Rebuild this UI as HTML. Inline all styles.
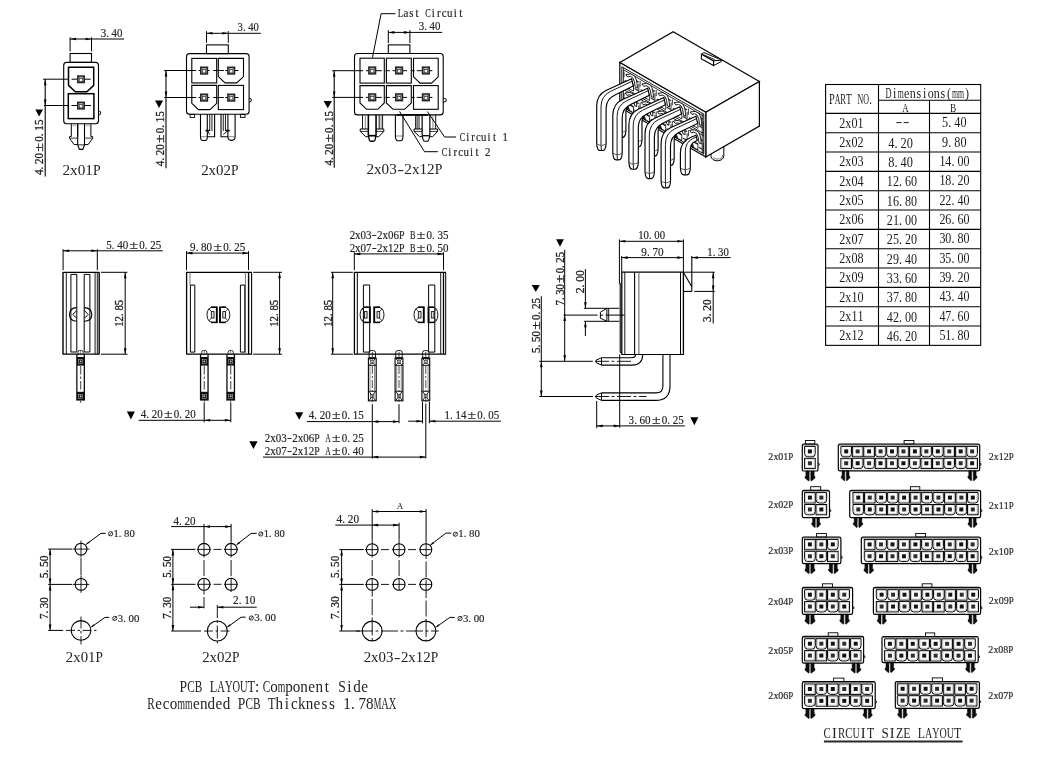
<!DOCTYPE html>
<html><head><meta charset="utf-8"><title>drawing</title>
<style>html,body{margin:0;padding:0;background:#fff;}svg{display:block;filter:grayscale(1)}text{font-family:"Liberation Serif",serif;}</style>
</head><body>
<svg width="1043" height="765" viewBox="0 0 1043 765">
<rect width="1043" height="765" fill="#fff"/>
<line x1="70.10" y1="37.30" x2="70.10" y2="51.40" stroke="#000" stroke-width="1"/>
<line x1="91.50" y1="37.30" x2="91.50" y2="51.40" stroke="#000" stroke-width="1"/>
<line x1="70.10" y1="39.00" x2="124.10" y2="39.00" stroke="#000" stroke-width="1"/>
<polygon points="70.10,39.00 76.10,37.70 76.10,40.30" fill="#000"/>
<polygon points="91.50,39.00 85.50,40.30 85.50,37.70" fill="#000"/>
<text transform="translate(101.00,36.70) scale(0.946,1)" font-size="11.5" text-anchor="middle" fill="#1a1a1a" stroke="#333" stroke-width="0.18" x="2.5 6.9 14.0 19.7">3.40</text>
<rect x="70.10" y="53.50" width="21.40" height="8.90" rx="0" stroke="#000" stroke-width="1.1" fill="none"/>
<rect x="63.70" y="62.40" width="34.80" height="61.40" rx="3" stroke="#000" stroke-width="1.1" fill="none"/>
<path d="M68.50,67.20 L93.70,67.20 L93.70,85.40 L86.90,91.70 L75.30,91.70 L68.50,85.40 Z" stroke="#000" stroke-width="1.5" fill="none" />
<rect x="68.30" y="93.70" width="25.60" height="24.90" rx="0" stroke="#000" stroke-width="1.5" fill="none"/>
<line x1="43.10" y1="79.20" x2="68.40" y2="79.20" stroke="#000" stroke-width="1"/>
<line x1="71.50" y1="79.20" x2="90.70" y2="79.20" stroke="#000" stroke-width="1"/>
<line x1="44.00" y1="105.50" x2="68.20" y2="105.50" stroke="#000" stroke-width="1"/>
<line x1="71.50" y1="105.50" x2="91.00" y2="105.50" stroke="#000" stroke-width="1"/>
<rect x="77.00" y="75.30" width="8.00" height="8.00" rx="0" stroke="none" stroke-width="0" fill="#242424"/>
<rect x="78.50" y="76.80" width="5.00" height="5.00" rx="0" stroke="none" stroke-width="0" fill="#b4b4b4"/>
<line x1="78.20" y1="76.50" x2="79.60" y2="78.50" stroke="#333" stroke-width="0.7"/>
<line x1="83.80" y1="76.50" x2="82.40" y2="78.50" stroke="#333" stroke-width="0.7"/>
<line x1="78.20" y1="82.10" x2="79.40" y2="81.50" stroke="#333" stroke-width="0.7"/>
<line x1="83.80" y1="82.10" x2="82.60" y2="81.50" stroke="#333" stroke-width="0.7"/>
<rect x="79.30" y="78.40" width="3.40" height="3.20" rx="0" stroke="#333" stroke-width="0.7" fill="#f2f2f2"/>
<rect x="77.00" y="101.60" width="8.00" height="8.00" rx="0" stroke="none" stroke-width="0" fill="#242424"/>
<rect x="78.50" y="103.10" width="5.00" height="5.00" rx="0" stroke="none" stroke-width="0" fill="#b4b4b4"/>
<line x1="78.20" y1="102.80" x2="79.60" y2="104.80" stroke="#333" stroke-width="0.7"/>
<line x1="83.80" y1="102.80" x2="82.40" y2="104.80" stroke="#333" stroke-width="0.7"/>
<line x1="78.20" y1="108.40" x2="79.40" y2="107.80" stroke="#333" stroke-width="0.7"/>
<line x1="83.80" y1="108.40" x2="82.60" y2="107.80" stroke="#333" stroke-width="0.7"/>
<rect x="79.30" y="104.70" width="3.40" height="3.20" rx="0" stroke="#333" stroke-width="0.7" fill="#f2f2f2"/>
<line x1="45.20" y1="79.20" x2="45.20" y2="176.50" stroke="#000" stroke-width="1.1"/>
<polygon points="45.20,79.20 46.50,85.20 43.90,85.20" fill="#000"/>
<polygon points="45.20,105.50 43.90,99.50 46.50,99.50" fill="#000"/>
<polygon points="35.30,109.40 43.00,109.40 39.15,116.60" fill="#000"/>
<text transform="translate(43.00,174.70) rotate(-90) translate(27.35,0) scale(1.306,1)" font-size="12" text-anchor="middle" fill="#1a1a1a" stroke="#222" stroke-width="0.3">±</text>
<text transform="translate(43.00,174.70) rotate(-90) scale(0.925,1)" font-size="12" text-anchor="middle" fill="#1a1a1a" stroke="#222" stroke-width="0.3" x="2.6 7.2 14.6 20.6 38.6 43.2 50.6 56.6">4.200.15</text>
<path d="M98.5,110.8 L100.6,111.8 L100.6,114.2 L98.5,115.2" stroke="#000" stroke-width="0.9" fill="none" />
<line x1="71.30" y1="123.80" x2="71.30" y2="136.50" stroke="#000" stroke-width="1"/>
<line x1="77.70" y1="123.80" x2="77.70" y2="136.50" stroke="#000" stroke-width="1"/>
<rect x="72.50" y="124.60" width="4.00" height="1.60" rx="0" stroke="none" stroke-width="0" fill="#bbb"/>
<path d="M71.30,136.50 L69.50,136.70 L69.50,138.30 L74.10,144.60 L77.70,144.60" stroke="#000" stroke-width="1" fill="none" />
<line x1="77.70" y1="138.10" x2="69.70" y2="138.10" stroke="#000" stroke-width="0.8"/>
<line x1="90.90" y1="123.80" x2="90.90" y2="136.50" stroke="#000" stroke-width="1"/>
<line x1="84.50" y1="123.80" x2="84.50" y2="136.50" stroke="#000" stroke-width="1"/>
<rect x="85.70" y="124.60" width="4.00" height="1.60" rx="0" stroke="none" stroke-width="0" fill="#bbb"/>
<path d="M90.90,136.50 L92.70,136.70 L92.70,138.30 L88.10,144.60 L84.50,144.60" stroke="#000" stroke-width="1" fill="none" />
<line x1="84.50" y1="138.10" x2="92.50" y2="138.10" stroke="#000" stroke-width="0.8"/>
<path d="M77.70,123.80 L77.70,144.80 L79.40,149.40 L82.80,149.40 L84.50,144.80 L84.50,123.80" stroke="#000" stroke-width="1.1" fill="none" />
<line x1="77.90" y1="144.80" x2="84.30" y2="144.80" stroke="#000" stroke-width="0.8"/>
<text transform="translate(63.00,174.70) translate(33.73,0) scale(0.913,1)" font-size="15" text-anchor="middle" fill="#222">P</text>
<text transform="translate(63.00,174.70) scale(1.015,1)" font-size="15" text-anchor="middle" fill="#222" x="3.2 10.7 18.2 25.7">2x01</text>
<line x1="206.50" y1="31.20" x2="206.50" y2="42.80" stroke="#000" stroke-width="1"/>
<line x1="228.30" y1="31.20" x2="228.30" y2="42.80" stroke="#000" stroke-width="1"/>
<line x1="206.50" y1="33.30" x2="260.90" y2="33.30" stroke="#000" stroke-width="1"/>
<polygon points="206.50,33.30 212.50,32.00 212.50,34.60" fill="#000"/>
<polygon points="228.30,33.30 222.30,34.60 222.30,32.00" fill="#000"/>
<text transform="translate(237.90,31.00) scale(0.924,1)" font-size="11.5" text-anchor="middle" fill="#1a1a1a" stroke="#333" stroke-width="0.18" x="2.5 6.9 14.0 19.7">3.40</text>
<rect x="206.50" y="44.90" width="21.80" height="8.70" rx="0" stroke="#000" stroke-width="1.1" fill="none"/>
<rect x="186.50" y="53.60" width="62.60" height="60.70" rx="3" stroke="#000" stroke-width="1.1" fill="none"/>
<rect x="191.80" y="58.40" width="24.90" height="24.50" rx="0" stroke="#000" stroke-width="1.1" fill="none"/>
<path d="M218.30,58.40 L243.50,58.40 L243.50,76.60 L236.70,82.90 L225.10,82.90 L218.30,76.60 Z" stroke="#000" stroke-width="1.1" fill="none" />
<path d="M191.80,85.40 L216.70,85.40 L216.70,103.30 L209.98,109.60 L198.52,109.60 L191.80,103.30 Z" stroke="#000" stroke-width="1.1" fill="none" />
<rect x="218.30" y="85.40" width="25.20" height="24.20" rx="0" stroke="#000" stroke-width="1.1" fill="none"/>
<line x1="164.30" y1="70.50" x2="196.20" y2="70.50" stroke="#000" stroke-width="1"/>
<line x1="198.50" y1="70.50" x2="209.60" y2="70.50" stroke="#000" stroke-width="1"/>
<line x1="213.20" y1="70.50" x2="223.80" y2="70.50" stroke="#000" stroke-width="1"/>
<line x1="225.20" y1="70.50" x2="238.50" y2="70.50" stroke="#000" stroke-width="1"/>
<line x1="164.30" y1="97.50" x2="196.20" y2="97.50" stroke="#000" stroke-width="1"/>
<line x1="198.50" y1="97.50" x2="209.60" y2="97.50" stroke="#000" stroke-width="1"/>
<line x1="213.20" y1="97.50" x2="223.80" y2="97.50" stroke="#000" stroke-width="1"/>
<line x1="225.20" y1="97.50" x2="238.50" y2="97.50" stroke="#000" stroke-width="1"/>
<rect x="200.00" y="66.50" width="8.20" height="8.20" rx="0" stroke="none" stroke-width="0" fill="#242424"/>
<rect x="201.50" y="68.00" width="5.20" height="5.20" rx="0" stroke="none" stroke-width="0" fill="#b4b4b4"/>
<line x1="201.20" y1="67.70" x2="202.70" y2="69.80" stroke="#333" stroke-width="0.7"/>
<line x1="207.00" y1="67.70" x2="205.50" y2="69.80" stroke="#333" stroke-width="0.7"/>
<line x1="201.20" y1="73.50" x2="202.50" y2="72.80" stroke="#333" stroke-width="0.7"/>
<line x1="207.00" y1="73.50" x2="205.70" y2="72.80" stroke="#333" stroke-width="0.7"/>
<rect x="202.40" y="69.70" width="3.40" height="3.20" rx="0" stroke="#333" stroke-width="0.7" fill="#f2f2f2"/>
<rect x="200.00" y="93.50" width="8.20" height="8.20" rx="0" stroke="none" stroke-width="0" fill="#242424"/>
<rect x="201.50" y="95.00" width="5.20" height="5.20" rx="0" stroke="none" stroke-width="0" fill="#b4b4b4"/>
<line x1="201.20" y1="94.70" x2="202.70" y2="96.80" stroke="#333" stroke-width="0.7"/>
<line x1="207.00" y1="94.70" x2="205.50" y2="96.80" stroke="#333" stroke-width="0.7"/>
<line x1="201.20" y1="100.50" x2="202.50" y2="99.80" stroke="#333" stroke-width="0.7"/>
<line x1="207.00" y1="100.50" x2="205.70" y2="99.80" stroke="#333" stroke-width="0.7"/>
<rect x="202.40" y="96.70" width="3.40" height="3.20" rx="0" stroke="#333" stroke-width="0.7" fill="#f2f2f2"/>
<rect x="227.10" y="66.50" width="8.20" height="8.20" rx="0" stroke="none" stroke-width="0" fill="#242424"/>
<rect x="228.60" y="68.00" width="5.20" height="5.20" rx="0" stroke="none" stroke-width="0" fill="#b4b4b4"/>
<line x1="228.30" y1="67.70" x2="229.80" y2="69.80" stroke="#333" stroke-width="0.7"/>
<line x1="234.10" y1="67.70" x2="232.60" y2="69.80" stroke="#333" stroke-width="0.7"/>
<line x1="228.30" y1="73.50" x2="229.60" y2="72.80" stroke="#333" stroke-width="0.7"/>
<line x1="234.10" y1="73.50" x2="232.80" y2="72.80" stroke="#333" stroke-width="0.7"/>
<rect x="229.50" y="69.70" width="3.40" height="3.20" rx="0" stroke="#333" stroke-width="0.7" fill="#f2f2f2"/>
<rect x="227.10" y="93.50" width="8.20" height="8.20" rx="0" stroke="none" stroke-width="0" fill="#242424"/>
<rect x="228.60" y="95.00" width="5.20" height="5.20" rx="0" stroke="none" stroke-width="0" fill="#b4b4b4"/>
<line x1="228.30" y1="94.70" x2="229.80" y2="96.80" stroke="#333" stroke-width="0.7"/>
<line x1="234.10" y1="94.70" x2="232.60" y2="96.80" stroke="#333" stroke-width="0.7"/>
<line x1="228.30" y1="100.50" x2="229.60" y2="99.80" stroke="#333" stroke-width="0.7"/>
<line x1="234.10" y1="100.50" x2="232.80" y2="99.80" stroke="#333" stroke-width="0.7"/>
<rect x="229.50" y="96.70" width="3.40" height="3.20" rx="0" stroke="#333" stroke-width="0.7" fill="#f2f2f2"/>
<line x1="166.00" y1="70.50" x2="166.00" y2="168.30" stroke="#000" stroke-width="1.1"/>
<polygon points="166.00,70.50 167.30,76.50 164.70,76.50" fill="#000"/>
<polygon points="166.00,97.50 164.70,91.50 167.30,91.50" fill="#000"/>
<polygon points="155.00,100.50 163.10,100.50 159.05,107.90" fill="#000"/>
<text transform="translate(163.70,165.80) rotate(-90) translate(27.00,0) scale(1.289,1)" font-size="12" text-anchor="middle" fill="#1a1a1a" stroke="#222" stroke-width="0.3">±</text>
<text transform="translate(163.70,165.80) rotate(-90) scale(0.913,1)" font-size="12" text-anchor="middle" fill="#1a1a1a" stroke="#222" stroke-width="0.3" x="2.6 7.2 14.6 20.6 38.6 43.2 50.6 56.6">4.200.15</text>
<path d="M249.1,98 L251.2,99 L251.2,101.4 L249.1,102.4" stroke="#000" stroke-width="0.9" fill="none" />
<rect x="190.10" y="114.30" width="4.50" height="3.10" rx="0" stroke="#000" stroke-width="0.9" fill="none"/>
<rect x="240.40" y="114.30" width="4.60" height="3.10" rx="0" stroke="#000" stroke-width="0.9" fill="none"/>
<path d="M200.5,114.3 L200.5,136.7 Q200.5,140.5 202.70000000000002,140.5 L205.1,140.5 Q207.3,140.5 207.3,136.7 L207.3,114.3" stroke="#000" stroke-width="1.1" fill="none" />
<line x1="200.80" y1="136.70" x2="207.00" y2="136.70" stroke="#555" stroke-width="0.7"/>
<path d="M214.6,114.3 L214.6,136.7 L207.3,136.7" stroke="#000" stroke-width="1.1" fill="none" />
<line x1="209.75" y1="114.30" x2="209.75" y2="131.00" stroke="#000" stroke-width="0.9"/>
<line x1="211.95" y1="114.30" x2="211.95" y2="131.00" stroke="#000" stroke-width="0.9"/>
<line x1="205.50" y1="130.60" x2="209.50" y2="130.60" stroke="#000" stroke-width="1.6"/>
<line x1="207.30" y1="130.60" x2="209.75" y2="134.50" stroke="#000" stroke-width="0.9"/>
<path d="M235.1,114.3 L235.1,136.7 Q235.1,140.5 230.3,140.5 L232.7,140.5 Q227.9,140.5 227.9,136.7 L227.9,114.3" stroke="#000" stroke-width="1.1" fill="none" />
<line x1="235.40" y1="136.70" x2="227.60" y2="136.70" stroke="#555" stroke-width="0.7"/>
<path d="M221.0,114.3 L221.0,136.7 L227.9,136.7" stroke="#000" stroke-width="1.1" fill="none" />
<line x1="223.25" y1="114.30" x2="223.25" y2="131.00" stroke="#000" stroke-width="0.9"/>
<line x1="225.45" y1="114.30" x2="225.45" y2="131.00" stroke="#000" stroke-width="0.9"/>
<line x1="229.70" y1="130.60" x2="225.70" y2="130.60" stroke="#000" stroke-width="1.6"/>
<line x1="227.90" y1="130.60" x2="223.25" y2="134.50" stroke="#000" stroke-width="0.9"/>
<text transform="translate(201.70,174.80) translate(33.00,0) scale(0.893,1)" font-size="15" text-anchor="middle" fill="#222">P</text>
<text transform="translate(201.70,174.80) scale(0.993,1)" font-size="15" text-anchor="middle" fill="#222" x="3.2 10.7 18.2 25.7">2x02</text>
<text transform="translate(398.10,17.00) translate(2.36,0) scale(0.767,1)" font-size="11.7" text-anchor="middle" fill="#1a1a1a" stroke="#333" stroke-width="0.18">L</text>
<text transform="translate(398.10,17.00) translate(29.76,0) scale(0.702,1)" font-size="11.7" text-anchor="middle" fill="#1a1a1a" stroke="#333" stroke-width="0.18">C</text>
<text transform="translate(398.10,17.00) scale(0.937,1)" font-size="11.7" text-anchor="middle" fill="#1a1a1a" stroke="#333" stroke-width="0.18" x="8.4 14.2 20.1 37.6 43.5 49.3 55.2 61.0 66.9">astircuit</text>
<path d="M395.50,13.70 L381.10,13.70 L372.50,57.50" stroke="#000" stroke-width="1" fill="none" />
<text transform="translate(419.00,29.90) scale(0.946,1)" font-size="11.5" text-anchor="middle" fill="#1a1a1a" stroke="#333" stroke-width="0.18" x="2.5 6.9 14.0 19.7">3.40</text>
<line x1="388.30" y1="30.20" x2="388.30" y2="43.10" stroke="#000" stroke-width="1"/>
<line x1="409.90" y1="30.20" x2="409.90" y2="43.10" stroke="#000" stroke-width="1"/>
<line x1="388.30" y1="32.40" x2="442.20" y2="32.40" stroke="#000" stroke-width="1"/>
<polygon points="388.30,32.40 394.30,31.10 394.30,33.70" fill="#000"/>
<polygon points="409.90,32.40 403.90,33.70 403.90,31.10" fill="#000"/>
<rect x="388.30" y="44.90" width="21.60" height="8.60" rx="0" stroke="#000" stroke-width="1.1" fill="none"/>
<rect x="354.50" y="53.50" width="88.70" height="61.40" rx="3" stroke="#000" stroke-width="1.1" fill="none"/>
<rect x="360.00" y="58.20" width="24.30" height="24.90" rx="0" stroke="#000" stroke-width="1.1" fill="none"/>
<path d="M360.00,85.60 L384.30,85.60 L384.30,103.00 L377.74,109.30 L366.56,109.30 L360.00,103.00 Z" stroke="#000" stroke-width="1.1" fill="none" />
<rect x="386.40" y="58.20" width="24.90" height="24.90" rx="0" stroke="#000" stroke-width="1.1" fill="none"/>
<path d="M386.40,85.60 L411.30,85.60 L411.30,103.00 L404.58,109.30 L393.12,109.30 L386.40,103.00 Z" stroke="#000" stroke-width="1.1" fill="none" />
<path d="M413.50,58.20 L438.20,58.20 L438.20,76.80 L431.53,83.10 L420.17,83.10 L413.50,76.80 Z" stroke="#000" stroke-width="1.1" fill="none" />
<rect x="413.50" y="85.60" width="24.70" height="23.70" rx="0" stroke="#000" stroke-width="1.1" fill="none"/>
<line x1="332.20" y1="70.70" x2="363.10" y2="70.70" stroke="#000" stroke-width="1"/>
<line x1="366.00" y1="70.70" x2="381.80" y2="70.70" stroke="#000" stroke-width="1"/>
<line x1="385.40" y1="70.70" x2="389.80" y2="70.70" stroke="#000" stroke-width="1"/>
<line x1="392.60" y1="70.70" x2="407.00" y2="70.70" stroke="#000" stroke-width="1"/>
<line x1="411.00" y1="70.70" x2="414.60" y2="70.70" stroke="#000" stroke-width="1"/>
<line x1="416.80" y1="70.70" x2="432.40" y2="70.70" stroke="#000" stroke-width="1"/>
<line x1="332.20" y1="97.40" x2="363.10" y2="97.40" stroke="#000" stroke-width="1"/>
<line x1="366.00" y1="97.40" x2="381.80" y2="97.40" stroke="#000" stroke-width="1"/>
<line x1="385.40" y1="97.40" x2="389.80" y2="97.40" stroke="#000" stroke-width="1"/>
<line x1="392.60" y1="97.40" x2="407.00" y2="97.40" stroke="#000" stroke-width="1"/>
<line x1="411.00" y1="97.40" x2="414.60" y2="97.40" stroke="#000" stroke-width="1"/>
<line x1="416.80" y1="97.40" x2="432.40" y2="97.40" stroke="#000" stroke-width="1"/>
<rect x="368.10" y="66.40" width="8.20" height="8.20" rx="0" stroke="none" stroke-width="0" fill="#242424"/>
<rect x="369.60" y="67.90" width="5.20" height="5.20" rx="0" stroke="none" stroke-width="0" fill="#b4b4b4"/>
<line x1="369.30" y1="67.60" x2="370.80" y2="69.70" stroke="#333" stroke-width="0.7"/>
<line x1="375.10" y1="67.60" x2="373.60" y2="69.70" stroke="#333" stroke-width="0.7"/>
<line x1="369.30" y1="73.40" x2="370.60" y2="72.70" stroke="#333" stroke-width="0.7"/>
<line x1="375.10" y1="73.40" x2="373.80" y2="72.70" stroke="#333" stroke-width="0.7"/>
<rect x="370.50" y="69.60" width="3.40" height="3.20" rx="0" stroke="#333" stroke-width="0.7" fill="#f2f2f2"/>
<rect x="368.10" y="93.20" width="8.20" height="8.20" rx="0" stroke="none" stroke-width="0" fill="#242424"/>
<rect x="369.60" y="94.70" width="5.20" height="5.20" rx="0" stroke="none" stroke-width="0" fill="#b4b4b4"/>
<line x1="369.30" y1="94.40" x2="370.80" y2="96.50" stroke="#333" stroke-width="0.7"/>
<line x1="375.10" y1="94.40" x2="373.60" y2="96.50" stroke="#333" stroke-width="0.7"/>
<line x1="369.30" y1="100.20" x2="370.60" y2="99.50" stroke="#333" stroke-width="0.7"/>
<line x1="375.10" y1="100.20" x2="373.80" y2="99.50" stroke="#333" stroke-width="0.7"/>
<rect x="370.50" y="96.40" width="3.40" height="3.20" rx="0" stroke="#333" stroke-width="0.7" fill="#f2f2f2"/>
<rect x="395.00" y="66.40" width="8.20" height="8.20" rx="0" stroke="none" stroke-width="0" fill="#242424"/>
<rect x="396.50" y="67.90" width="5.20" height="5.20" rx="0" stroke="none" stroke-width="0" fill="#b4b4b4"/>
<line x1="396.20" y1="67.60" x2="397.70" y2="69.70" stroke="#333" stroke-width="0.7"/>
<line x1="402.00" y1="67.60" x2="400.50" y2="69.70" stroke="#333" stroke-width="0.7"/>
<line x1="396.20" y1="73.40" x2="397.50" y2="72.70" stroke="#333" stroke-width="0.7"/>
<line x1="402.00" y1="73.40" x2="400.70" y2="72.70" stroke="#333" stroke-width="0.7"/>
<rect x="397.40" y="69.60" width="3.40" height="3.20" rx="0" stroke="#333" stroke-width="0.7" fill="#f2f2f2"/>
<rect x="395.00" y="93.20" width="8.20" height="8.20" rx="0" stroke="none" stroke-width="0" fill="#242424"/>
<rect x="396.50" y="94.70" width="5.20" height="5.20" rx="0" stroke="none" stroke-width="0" fill="#b4b4b4"/>
<line x1="396.20" y1="94.40" x2="397.70" y2="96.50" stroke="#333" stroke-width="0.7"/>
<line x1="402.00" y1="94.40" x2="400.50" y2="96.50" stroke="#333" stroke-width="0.7"/>
<line x1="396.20" y1="100.20" x2="397.50" y2="99.50" stroke="#333" stroke-width="0.7"/>
<line x1="402.00" y1="100.20" x2="400.70" y2="99.50" stroke="#333" stroke-width="0.7"/>
<rect x="397.40" y="96.40" width="3.40" height="3.20" rx="0" stroke="#333" stroke-width="0.7" fill="#f2f2f2"/>
<rect x="421.80" y="66.40" width="8.20" height="8.20" rx="0" stroke="none" stroke-width="0" fill="#242424"/>
<rect x="423.30" y="67.90" width="5.20" height="5.20" rx="0" stroke="none" stroke-width="0" fill="#b4b4b4"/>
<line x1="423.00" y1="67.60" x2="424.50" y2="69.70" stroke="#333" stroke-width="0.7"/>
<line x1="428.80" y1="67.60" x2="427.30" y2="69.70" stroke="#333" stroke-width="0.7"/>
<line x1="423.00" y1="73.40" x2="424.30" y2="72.70" stroke="#333" stroke-width="0.7"/>
<line x1="428.80" y1="73.40" x2="427.50" y2="72.70" stroke="#333" stroke-width="0.7"/>
<rect x="424.20" y="69.60" width="3.40" height="3.20" rx="0" stroke="#333" stroke-width="0.7" fill="#f2f2f2"/>
<rect x="421.80" y="93.20" width="8.20" height="8.20" rx="0" stroke="none" stroke-width="0" fill="#242424"/>
<rect x="423.30" y="94.70" width="5.20" height="5.20" rx="0" stroke="none" stroke-width="0" fill="#b4b4b4"/>
<line x1="423.00" y1="94.40" x2="424.50" y2="96.50" stroke="#333" stroke-width="0.7"/>
<line x1="428.80" y1="94.40" x2="427.30" y2="96.50" stroke="#333" stroke-width="0.7"/>
<line x1="423.00" y1="100.20" x2="424.30" y2="99.50" stroke="#333" stroke-width="0.7"/>
<line x1="428.80" y1="100.20" x2="427.50" y2="99.50" stroke="#333" stroke-width="0.7"/>
<rect x="424.20" y="96.40" width="3.40" height="3.20" rx="0" stroke="#333" stroke-width="0.7" fill="#f2f2f2"/>
<line x1="334.20" y1="70.70" x2="334.20" y2="167.70" stroke="#000" stroke-width="1.1"/>
<polygon points="334.20,70.70 335.50,76.70 332.90,76.70" fill="#000"/>
<polygon points="334.20,97.40 332.90,91.40 335.50,91.40" fill="#000"/>
<polygon points="323.60,101.00 331.90,101.00 327.75,108.20" fill="#000"/>
<text transform="translate(332.50,165.20) rotate(-90) translate(26.85,0) scale(1.282,1)" font-size="12" text-anchor="middle" fill="#1a1a1a" stroke="#222" stroke-width="0.3">±</text>
<text transform="translate(332.50,165.20) rotate(-90) scale(0.908,1)" font-size="12" text-anchor="middle" fill="#1a1a1a" stroke="#222" stroke-width="0.3" x="2.6 7.2 14.6 20.6 38.6 43.2 50.6 56.6">4.200.15</text>
<path d="M443.2,98 L446.2,99 L446.2,101.4 L443.2,102.4" stroke="#000" stroke-width="0.9" fill="none" />
<line x1="368.35" y1="114.90" x2="368.35" y2="135.70" stroke="#000" stroke-width="1.56"/>
<line x1="376.05" y1="114.90" x2="376.05" y2="135.70" stroke="#000" stroke-width="1.56"/>
<path d="M368.59999999999997,135.70000000000002 Q369.0,141.3 371.0,141.3 L373.4,141.3 Q375.4,141.3 375.8,135.70000000000002" stroke="#000" stroke-width="1.4300000000000002" fill="none" />
<line x1="368.35" y1="135.70" x2="376.05" y2="135.70" stroke="#000" stroke-width="1.6900000000000002"/>
<line x1="362.50" y1="114.90" x2="362.50" y2="129.00" stroke="#000" stroke-width="0.9"/>
<line x1="365.30" y1="114.90" x2="365.30" y2="129.00" stroke="#777" stroke-width="0.9"/>
<line x1="379.20" y1="114.90" x2="379.20" y2="129.00" stroke="#000" stroke-width="0.9"/>
<line x1="381.10" y1="114.90" x2="381.10" y2="129.00" stroke="#777" stroke-width="0.9"/>
<line x1="382.60" y1="114.90" x2="382.60" y2="129.00" stroke="#000" stroke-width="0.9"/>
<path d="M368.35,129.00 L360.20,129.00 L360.20,131.40 L365.80,136.70 L368.35,136.70" stroke="#000" stroke-width="1.0" fill="none" />
<path d="M376.05,129.00 L383.80,129.00 L383.80,131.40 L378.80,136.70 L376.05,136.70" stroke="#000" stroke-width="1.0" fill="none" />
<line x1="360.20" y1="131.40" x2="368.35" y2="131.40" stroke="#000" stroke-width="0.8"/>
<line x1="383.80" y1="131.40" x2="376.05" y2="131.40" stroke="#000" stroke-width="0.8"/>
<line x1="422.15" y1="114.90" x2="422.15" y2="135.70" stroke="#000" stroke-width="1.2"/>
<line x1="429.85" y1="114.90" x2="429.85" y2="135.70" stroke="#000" stroke-width="1.2"/>
<path d="M422.4,135.70000000000002 Q422.8,141.3 424.8,141.3 L427.2,141.3 Q429.2,141.3 429.6,135.70000000000002" stroke="#000" stroke-width="1.1" fill="none" />
<line x1="422.15" y1="135.70" x2="429.85" y2="135.70" stroke="#000" stroke-width="1.3"/>
<line x1="419.00" y1="114.90" x2="419.00" y2="129.00" stroke="#000" stroke-width="0.9"/>
<line x1="417.10" y1="114.90" x2="417.10" y2="129.00" stroke="#000" stroke-width="0.9"/>
<line x1="415.60" y1="114.90" x2="415.60" y2="129.00" stroke="#000" stroke-width="0.9"/>
<line x1="435.70" y1="114.90" x2="435.70" y2="129.00" stroke="#000" stroke-width="0.9"/>
<line x1="432.90" y1="114.90" x2="432.90" y2="129.00" stroke="#777" stroke-width="0.9"/>
<path d="M422.15,129.00 L414.00,129.00 L414.00,131.40 L419.60,136.70 L422.15,136.70" stroke="#000" stroke-width="1.0" fill="none" />
<path d="M429.85,129.00 L437.60,129.00 L437.60,131.40 L432.60,136.70 L429.85,136.70" stroke="#000" stroke-width="1.0" fill="none" />
<line x1="414.00" y1="131.40" x2="422.15" y2="131.40" stroke="#000" stroke-width="0.8"/>
<line x1="437.60" y1="131.40" x2="429.85" y2="131.40" stroke="#000" stroke-width="0.8"/>
<path d="M395.4,114.9 L395.4,136 Q395.4,140.8 398,140.8 L400.4,140.8 Q403,140.8 403,136 L403,114.9" stroke="#000" stroke-width="1.1" fill="none" />
<line x1="395.60" y1="136.00" x2="402.80" y2="136.00" stroke="#555" stroke-width="0.7"/>
<line x1="396.50" y1="114.90" x2="428.00" y2="114.90" stroke="#000" stroke-width="1.7"/>
<path d="M399.60,111.50 L424.50,151.70 L437.90,151.70" stroke="#000" stroke-width="1" fill="none" />
<text transform="translate(442.10,155.60) translate(2.33,0) scale(0.706,1)" font-size="11.5" text-anchor="middle" fill="#1a1a1a" stroke="#333" stroke-width="0.18">C</text>
<text transform="translate(442.10,155.60) scale(0.942,1)" font-size="11.5" text-anchor="middle" fill="#1a1a1a" stroke="#333" stroke-width="0.18" x="8.2 14.0 19.7 25.5 31.2 37.0 48.5">ircuit2</text>
<path d="M427.40,111.50 L444.60,137.00 L456.10,137.00" stroke="#000" stroke-width="1" fill="none" />
<text transform="translate(460.00,140.80) translate(2.31,0) scale(0.699,1)" font-size="11.5" text-anchor="middle" fill="#1a1a1a" stroke="#333" stroke-width="0.18">C</text>
<text transform="translate(460.00,140.80) scale(0.932,1)" font-size="11.5" text-anchor="middle" fill="#1a1a1a" stroke="#333" stroke-width="0.18" x="8.2 14.0 19.7 25.5 31.2 37.0 48.5">ircuit1</text>
<text transform="translate(367.00,174.40) translate(33.61,0) scale(1.367,1)" font-size="15" text-anchor="middle" fill="#222">-</text>
<text transform="translate(367.00,174.40) translate(71.54,0) scale(0.909,1)" font-size="15" text-anchor="middle" fill="#222">P</text>
<text transform="translate(367.00,174.40) scale(1.011,1)" font-size="15" text-anchor="middle" fill="#222" x="3.2 10.7 18.2 25.7 40.7 48.2 55.7 63.2">2x032x12</text>
<line x1="63.10" y1="249.20" x2="63.10" y2="270.10" stroke="#000" stroke-width="1"/>
<line x1="97.30" y1="249.20" x2="97.30" y2="270.10" stroke="#000" stroke-width="1"/>
<line x1="63.10" y1="250.80" x2="162.70" y2="250.80" stroke="#000" stroke-width="1"/>
<polygon points="63.10,250.80 69.10,249.50 69.10,252.10" fill="#000"/>
<polygon points="97.30,250.80 91.30,252.10 91.30,249.50" fill="#000"/>
<text transform="translate(106.50,248.50) translate(27.15,0) scale(1.296,1)" font-size="12" text-anchor="middle" fill="#1a1a1a" stroke="#333" stroke-width="0.18">±</text>
<text transform="translate(106.50,248.50) scale(0.918,1)" font-size="12" text-anchor="middle" fill="#1a1a1a" stroke="#333" stroke-width="0.18" x="2.6 7.2 14.6 20.6 38.6 43.2 50.6 56.6">5.400.25</text>
<line x1="62.80" y1="272.30" x2="99.40" y2="272.30" stroke="#000" stroke-width="1.2"/>
<line x1="62.80" y1="354.20" x2="99.40" y2="354.20" stroke="#000" stroke-width="1.2"/>
<line x1="63.00" y1="272.30" x2="63.00" y2="354.20" stroke="#000" stroke-width="1.4"/>
<line x1="99.20" y1="272.30" x2="99.20" y2="354.20" stroke="#000" stroke-width="1.4"/>
<line x1="66.30" y1="272.30" x2="66.30" y2="354.20" stroke="#000" stroke-width="0.9"/>
<line x1="95.10" y1="272.30" x2="95.10" y2="354.20" stroke="#000" stroke-width="0.9"/>
<line x1="97.30" y1="272.30" x2="97.30" y2="354.20" stroke="#000" stroke-width="0.9"/>
<path d="M70.9,352 L70.9,274.4 L76.8,274.4 L76.8,352 Z" stroke="#000" stroke-width="1" fill="none" />
<path d="M84.2,352 L84.2,274.4 L89.9,274.4 L89.9,352 Z" stroke="#000" stroke-width="1" fill="none" />
<path d="M76.8,307.6 Q69.5,308 69.5,314.4 Q69.5,320.8 76.8,321.2" stroke="#000" stroke-width="1.1" fill="none" />
<path d="M84.2,307.6 Q91.8,308 91.8,314.4 Q91.8,320.8 84.2,321.2" stroke="#000" stroke-width="1.1" fill="none" />
<path d="M76.8,310.4 L72.9,314.4 L76.8,318.4" stroke="#000" stroke-width="1.0" fill="none" />
<path d="M84.2,310.4 L88.2,314.4 L84.2,318.4" stroke="#000" stroke-width="1.0" fill="none" />
<line x1="101.00" y1="272.30" x2="127.40" y2="272.30" stroke="#000" stroke-width="1"/>
<line x1="101.00" y1="354.20" x2="127.40" y2="354.20" stroke="#000" stroke-width="1"/>
<line x1="125.20" y1="272.30" x2="125.20" y2="354.20" stroke="#000" stroke-width="1"/>
<polygon points="125.20,272.30 126.50,278.30 123.90,278.30" fill="#000"/>
<polygon points="125.20,354.20 123.90,348.20 126.50,348.20" fill="#000"/>
<text transform="translate(123.20,326.40) rotate(-90) scale(0.898,1)" font-size="12" text-anchor="middle" fill="#1a1a1a" stroke="#222" stroke-width="0.3" x="2.6 8.6 13.2 20.6 26.6">12.85</text>
<path d="M78.0,354.2 L78.0,352.4 Q78.0,350.4 79.8,350.4 L81.39999999999999,350.4 Q83.19999999999999,350.4 83.19999999999999,352.4 L83.19999999999999,354.2" stroke="#000" stroke-width="0.8" fill="none" />
<line x1="80.60" y1="350.20" x2="80.60" y2="354.20" stroke="#555" stroke-width="0.7"/>
<rect x="76.20" y="354.20" width="8.80" height="46.40" rx="0" stroke="none" stroke-width="0" fill="#0e0e0e"/>
<rect x="77.50" y="365.60" width="6.20" height="26.20" rx="0" stroke="none" stroke-width="0" fill="#fff"/>
<rect x="77.50" y="354.90" width="6.20" height="2.10" rx="0" stroke="none" stroke-width="0" fill="#f4f4f4"/>
<rect x="78.60" y="359.40" width="4.00" height="4.00" rx="0" stroke="#aaa" stroke-width="0.6" fill="none"/>
<rect x="79.80" y="360.60" width="1.60" height="1.60" rx="0" stroke="none" stroke-width="0" fill="#ddd"/>
<rect x="78.60" y="394.30" width="4.00" height="4.00" rx="0" stroke="#aaa" stroke-width="0.6" fill="none"/>
<rect x="79.80" y="395.50" width="1.60" height="1.60" rx="0" stroke="none" stroke-width="0" fill="#ddd"/>
<line x1="80.60" y1="366.00" x2="80.60" y2="391.40" stroke="#6a6a6a" stroke-width="1.3" stroke-dasharray="8.5 2 2.5 2"/>
<line x1="80.60" y1="400.60" x2="80.60" y2="402.80" stroke="#444" stroke-width="1.0"/>
<line x1="186.50" y1="251.10" x2="186.50" y2="270.10" stroke="#000" stroke-width="1"/>
<line x1="248.50" y1="251.10" x2="248.50" y2="270.10" stroke="#000" stroke-width="1"/>
<line x1="186.50" y1="253.10" x2="248.50" y2="253.10" stroke="#000" stroke-width="1"/>
<polygon points="186.50,253.10 192.50,251.80 192.50,254.40" fill="#000"/>
<polygon points="248.50,253.10 242.50,254.40 242.50,251.80" fill="#000"/>
<text transform="translate(190.40,250.50) translate(27.25,0) scale(1.301,1)" font-size="12" text-anchor="middle" fill="#1a1a1a" stroke="#333" stroke-width="0.18">±</text>
<text transform="translate(190.40,250.50) scale(0.921,1)" font-size="12" text-anchor="middle" fill="#1a1a1a" stroke="#333" stroke-width="0.18" x="2.6 7.2 14.6 20.6 38.6 43.2 50.6 56.6">9.800.25</text>
<line x1="186.20" y1="272.30" x2="252.00" y2="272.30" stroke="#000" stroke-width="1.2"/>
<line x1="186.20" y1="354.20" x2="252.00" y2="354.20" stroke="#000" stroke-width="1.2"/>
<line x1="186.60" y1="272.30" x2="186.60" y2="354.20" stroke="#000" stroke-width="1.3"/>
<line x1="248.60" y1="272.30" x2="248.60" y2="354.20" stroke="#000" stroke-width="1.4"/>
<line x1="251.60" y1="272.30" x2="251.60" y2="354.20" stroke="#000" stroke-width="1.1"/>
<line x1="190.00" y1="272.30" x2="190.00" y2="285.10" stroke="#666" stroke-width="0.9"/>
<line x1="245.40" y1="272.30" x2="245.40" y2="354.20" stroke="#666" stroke-width="0.9"/>
<path d="M190.4,352.1 L190.4,285.1 L194.8,285.1 L194.8,352.1 Z" stroke="#000" stroke-width="1" fill="none" />
<path d="M240.4,352.1 L240.4,285.1 L244.8,285.1 L244.8,352.1 Z" stroke="#000" stroke-width="1" fill="none" />
<path d="M214.6,307.0 Q207.0,306.7 207.0,314.8 Q207.0,322.90000000000003 214.6,322.6" stroke="#000" stroke-width="0.9" fill="none" />
<line x1="216.80" y1="306.50" x2="216.80" y2="323.10" stroke="#000" stroke-width="1.9"/>
<line x1="216.60" y1="307.20" x2="211.00" y2="307.20" stroke="#000" stroke-width="1.5"/>
<line x1="216.60" y1="322.40" x2="211.00" y2="322.40" stroke="#000" stroke-width="1.5"/>
<rect x="211.30" y="311.60" width="2.70" height="6.40" rx="0" stroke="#000" stroke-width="0.8" fill="#ddd"/>
<line x1="211.30" y1="311.60" x2="209.00" y2="308.80" stroke="#000" stroke-width="0.7"/>
<line x1="211.30" y1="318.00" x2="209.00" y2="320.80" stroke="#000" stroke-width="0.7"/>
<path d="M222.2,307.0 Q229.79999999999998,306.7 229.79999999999998,314.8 Q229.79999999999998,322.90000000000003 222.2,322.6" stroke="#000" stroke-width="0.9" fill="none" />
<line x1="220.00" y1="306.50" x2="220.00" y2="323.10" stroke="#000" stroke-width="1.9"/>
<line x1="220.20" y1="307.20" x2="225.80" y2="307.20" stroke="#000" stroke-width="1.5"/>
<line x1="220.20" y1="322.40" x2="225.80" y2="322.40" stroke="#000" stroke-width="1.5"/>
<rect x="222.80" y="311.60" width="2.70" height="6.40" rx="0" stroke="#000" stroke-width="0.8" fill="#ddd"/>
<line x1="225.50" y1="311.60" x2="227.80" y2="308.80" stroke="#000" stroke-width="0.7"/>
<line x1="225.50" y1="318.00" x2="227.80" y2="320.80" stroke="#000" stroke-width="0.7"/>
<line x1="253.20" y1="272.30" x2="281.90" y2="272.30" stroke="#000" stroke-width="1"/>
<line x1="253.20" y1="354.20" x2="281.90" y2="354.20" stroke="#000" stroke-width="1"/>
<line x1="279.60" y1="272.30" x2="279.60" y2="354.20" stroke="#000" stroke-width="1"/>
<polygon points="279.60,272.30 280.90,278.30 278.30,278.30" fill="#000"/>
<polygon points="279.60,354.20 278.30,348.20 280.90,348.20" fill="#000"/>
<text transform="translate(278.30,326.40) rotate(-90) scale(0.898,1)" font-size="12" text-anchor="middle" fill="#1a1a1a" stroke="#222" stroke-width="0.3" x="2.6 8.6 13.2 20.6 26.6">12.85</text>
<path d="M201.70000000000002,354.2 L201.70000000000002,352.4 Q201.70000000000002,350.4 203.5,350.4 L205.10000000000002,350.4 Q206.9,350.4 206.9,352.4 L206.9,354.2" stroke="#000" stroke-width="0.8" fill="none" />
<line x1="204.30" y1="350.20" x2="204.30" y2="354.20" stroke="#555" stroke-width="0.7"/>
<rect x="199.90" y="354.20" width="8.80" height="46.40" rx="0" stroke="none" stroke-width="0" fill="#0e0e0e"/>
<rect x="201.20" y="365.60" width="6.20" height="26.20" rx="0" stroke="none" stroke-width="0" fill="#fff"/>
<rect x="201.20" y="354.90" width="6.20" height="2.10" rx="0" stroke="none" stroke-width="0" fill="#f4f4f4"/>
<rect x="202.30" y="359.40" width="4.00" height="4.00" rx="0" stroke="#aaa" stroke-width="0.6" fill="none"/>
<rect x="203.50" y="360.60" width="1.60" height="1.60" rx="0" stroke="none" stroke-width="0" fill="#ddd"/>
<rect x="202.30" y="394.30" width="4.00" height="4.00" rx="0" stroke="#aaa" stroke-width="0.6" fill="none"/>
<rect x="203.50" y="395.50" width="1.60" height="1.60" rx="0" stroke="none" stroke-width="0" fill="#ddd"/>
<line x1="204.30" y1="366.00" x2="204.30" y2="391.40" stroke="#6a6a6a" stroke-width="1.3" stroke-dasharray="8.5 2 2.5 2"/>
<line x1="204.30" y1="400.60" x2="204.30" y2="402.80" stroke="#444" stroke-width="1.0"/>
<path d="M228.1,354.2 L228.1,352.4 Q228.1,350.4 229.89999999999998,350.4 L231.5,350.4 Q233.29999999999998,350.4 233.29999999999998,352.4 L233.29999999999998,354.2" stroke="#000" stroke-width="0.8" fill="none" />
<line x1="230.70" y1="350.20" x2="230.70" y2="354.20" stroke="#555" stroke-width="0.7"/>
<rect x="226.30" y="354.20" width="8.80" height="46.40" rx="0" stroke="none" stroke-width="0" fill="#0e0e0e"/>
<rect x="227.60" y="365.60" width="6.20" height="26.20" rx="0" stroke="none" stroke-width="0" fill="#fff"/>
<rect x="227.60" y="354.90" width="6.20" height="2.10" rx="0" stroke="none" stroke-width="0" fill="#f4f4f4"/>
<rect x="228.70" y="359.40" width="4.00" height="4.00" rx="0" stroke="#aaa" stroke-width="0.6" fill="none"/>
<rect x="229.90" y="360.60" width="1.60" height="1.60" rx="0" stroke="none" stroke-width="0" fill="#ddd"/>
<rect x="228.70" y="394.30" width="4.00" height="4.00" rx="0" stroke="#aaa" stroke-width="0.6" fill="none"/>
<rect x="229.90" y="395.50" width="1.60" height="1.60" rx="0" stroke="none" stroke-width="0" fill="#ddd"/>
<line x1="230.70" y1="366.00" x2="230.70" y2="391.40" stroke="#6a6a6a" stroke-width="1.3" stroke-dasharray="8.5 2 2.5 2"/>
<line x1="230.70" y1="400.60" x2="230.70" y2="402.80" stroke="#444" stroke-width="1.0"/>
<line x1="204.20" y1="403.00" x2="204.20" y2="422.30" stroke="#000" stroke-width="1"/>
<line x1="230.80" y1="403.00" x2="230.80" y2="422.30" stroke="#000" stroke-width="1"/>
<line x1="138.60" y1="420.30" x2="230.80" y2="420.30" stroke="#000" stroke-width="1"/>
<polygon points="204.20,420.30 210.20,419.00 210.20,421.60" fill="#000"/>
<polygon points="230.80,420.30 224.80,421.60 224.80,419.00" fill="#000"/>
<text transform="translate(141.10,418.00) translate(27.15,0) scale(1.296,1)" font-size="12" text-anchor="middle" fill="#1a1a1a" stroke="#333" stroke-width="0.18">±</text>
<text transform="translate(141.10,418.00) scale(0.918,1)" font-size="12" text-anchor="middle" fill="#1a1a1a" stroke="#333" stroke-width="0.18" x="2.6 7.2 14.6 20.6 38.6 43.2 50.6 56.6">4.200.20</text>
<polygon points="126.90,411.50 134.90,411.50 130.90,419.40" fill="#000"/>
<text transform="translate(350.00,239.00) translate(24.33,0) scale(1.237,1)" font-size="12" text-anchor="middle" fill="#1a1a1a" stroke="#333" stroke-width="0.18">-</text>
<text transform="translate(350.00,239.00) translate(51.80,0) scale(0.823,1)" font-size="12" text-anchor="middle" fill="#1a1a1a" stroke="#333" stroke-width="0.18">P</text>
<text transform="translate(350.00,239.00) translate(62.78,0) scale(0.686,1)" font-size="12" text-anchor="middle" fill="#1a1a1a" stroke="#333" stroke-width="0.18">B</text>
<text transform="translate(350.00,239.00) translate(71.02,0) scale(1.293,1)" font-size="12" text-anchor="middle" fill="#1a1a1a" stroke="#333" stroke-width="0.18">±</text>
<text transform="translate(350.00,239.00) scale(0.915,1)" font-size="12" text-anchor="middle" fill="#1a1a1a" stroke="#333" stroke-width="0.18" x="2.6 8.6 14.6 20.6 32.6 38.6 44.6 50.6 86.6 91.2 98.6 104.6">2x032x060.35</text>
<text transform="translate(350.00,251.90) translate(24.33,0) scale(1.237,1)" font-size="12" text-anchor="middle" fill="#1a1a1a" stroke="#333" stroke-width="0.18">-</text>
<text transform="translate(350.00,251.90) translate(51.80,0) scale(0.823,1)" font-size="12" text-anchor="middle" fill="#1a1a1a" stroke="#333" stroke-width="0.18">P</text>
<text transform="translate(350.00,251.90) translate(62.78,0) scale(0.686,1)" font-size="12" text-anchor="middle" fill="#1a1a1a" stroke="#333" stroke-width="0.18">B</text>
<text transform="translate(350.00,251.90) translate(71.02,0) scale(1.293,1)" font-size="12" text-anchor="middle" fill="#1a1a1a" stroke="#333" stroke-width="0.18">±</text>
<text transform="translate(350.00,251.90) scale(0.915,1)" font-size="12" text-anchor="middle" fill="#1a1a1a" stroke="#333" stroke-width="0.18" x="2.6 8.6 14.6 20.6 32.6 38.6 44.6 50.6 86.6 91.2 98.6 104.6">2x072x120.50</text>
<line x1="354.30" y1="252.20" x2="354.30" y2="270.20" stroke="#000" stroke-width="1"/>
<line x1="443.50" y1="252.20" x2="443.50" y2="270.20" stroke="#000" stroke-width="1"/>
<line x1="354.30" y1="253.90" x2="443.50" y2="253.90" stroke="#000" stroke-width="1"/>
<polygon points="354.30,253.90 360.30,252.60 360.30,255.20" fill="#000"/>
<polygon points="443.50,253.90 437.50,255.20 437.50,252.60" fill="#000"/>
<line x1="354.00" y1="272.30" x2="446.00" y2="272.30" stroke="#000" stroke-width="1.2"/>
<line x1="354.00" y1="354.20" x2="446.00" y2="354.20" stroke="#000" stroke-width="1.2"/>
<line x1="354.40" y1="272.30" x2="354.40" y2="354.20" stroke="#000" stroke-width="1.3"/>
<line x1="357.30" y1="272.30" x2="357.30" y2="354.20" stroke="#000" stroke-width="1.0"/>
<line x1="440.70" y1="272.30" x2="440.70" y2="354.20" stroke="#000" stroke-width="0.9"/>
<line x1="443.50" y1="272.30" x2="443.50" y2="354.20" stroke="#000" stroke-width="1.3"/>
<line x1="445.70" y1="272.30" x2="445.70" y2="354.20" stroke="#000" stroke-width="1.0"/>
<path d="M363.4,352.1 L363.4,285 L369.7,285 L369.7,352.1 Z" stroke="#000" stroke-width="1" fill="none" />
<path d="M428.6,352.1 L428.6,285 L434.8,285 L434.8,352.1 Z" stroke="#000" stroke-width="1" fill="none" />
<path d="M367.7,307.0 Q360.09999999999997,306.7 360.09999999999997,314.8 Q360.09999999999997,322.90000000000003 367.7,322.6" stroke="#000" stroke-width="0.9" fill="none" />
<line x1="369.90" y1="306.50" x2="369.90" y2="323.10" stroke="#000" stroke-width="1.9"/>
<line x1="369.70" y1="307.20" x2="364.10" y2="307.20" stroke="#000" stroke-width="1.5"/>
<line x1="369.70" y1="322.40" x2="364.10" y2="322.40" stroke="#000" stroke-width="1.5"/>
<rect x="364.40" y="311.60" width="2.70" height="6.40" rx="0" stroke="#000" stroke-width="0.8" fill="#ddd"/>
<line x1="364.40" y1="311.60" x2="362.10" y2="308.80" stroke="#000" stroke-width="0.7"/>
<line x1="364.40" y1="318.00" x2="362.10" y2="320.80" stroke="#000" stroke-width="0.7"/>
<path d="M376.4,307.0 Q384.0,306.7 384.0,314.8 Q384.0,322.90000000000003 376.4,322.6" stroke="#000" stroke-width="0.9" fill="none" />
<line x1="374.20" y1="306.50" x2="374.20" y2="323.10" stroke="#000" stroke-width="1.9"/>
<line x1="374.40" y1="307.20" x2="380.00" y2="307.20" stroke="#000" stroke-width="1.5"/>
<line x1="374.40" y1="322.40" x2="380.00" y2="322.40" stroke="#000" stroke-width="1.5"/>
<rect x="377.00" y="311.60" width="2.70" height="6.40" rx="0" stroke="#000" stroke-width="0.8" fill="#ddd"/>
<line x1="379.70" y1="311.60" x2="382.00" y2="308.80" stroke="#000" stroke-width="0.7"/>
<line x1="379.70" y1="318.00" x2="382.00" y2="320.80" stroke="#000" stroke-width="0.7"/>
<path d="M421.6,307.0 Q414.0,306.7 414.0,314.8 Q414.0,322.90000000000003 421.6,322.6" stroke="#000" stroke-width="0.9" fill="none" />
<line x1="423.80" y1="306.50" x2="423.80" y2="323.10" stroke="#000" stroke-width="1.9"/>
<line x1="423.60" y1="307.20" x2="418.00" y2="307.20" stroke="#000" stroke-width="1.5"/>
<line x1="423.60" y1="322.40" x2="418.00" y2="322.40" stroke="#000" stroke-width="1.5"/>
<rect x="418.30" y="311.60" width="2.70" height="6.40" rx="0" stroke="#000" stroke-width="0.8" fill="#ddd"/>
<line x1="418.30" y1="311.60" x2="416.00" y2="308.80" stroke="#000" stroke-width="0.7"/>
<line x1="418.30" y1="318.00" x2="416.00" y2="320.80" stroke="#000" stroke-width="0.7"/>
<path d="M430.7,307.0 Q437.9,306.7 437.9,314.8 Q437.9,322.90000000000003 430.7,322.6" stroke="#000" stroke-width="0.9" fill="none" />
<line x1="428.50" y1="306.50" x2="428.50" y2="323.10" stroke="#000" stroke-width="1.9"/>
<line x1="428.70" y1="307.20" x2="434.30" y2="307.20" stroke="#000" stroke-width="1.5"/>
<line x1="428.70" y1="322.40" x2="434.30" y2="322.40" stroke="#000" stroke-width="1.5"/>
<rect x="431.30" y="311.60" width="2.70" height="6.40" rx="0" stroke="#000" stroke-width="0.8" fill="#ddd"/>
<line x1="434.00" y1="311.60" x2="436.30" y2="308.80" stroke="#000" stroke-width="0.7"/>
<line x1="434.00" y1="318.00" x2="436.30" y2="320.80" stroke="#000" stroke-width="0.7"/>
<line x1="330.90" y1="272.30" x2="352.90" y2="272.30" stroke="#000" stroke-width="1"/>
<line x1="330.90" y1="354.20" x2="352.90" y2="354.20" stroke="#000" stroke-width="1"/>
<line x1="332.70" y1="272.30" x2="332.70" y2="354.20" stroke="#000" stroke-width="1"/>
<polygon points="332.70,272.30 334.00,278.30 331.40,278.30" fill="#000"/>
<polygon points="332.70,354.20 331.40,348.20 334.00,348.20" fill="#000"/>
<text transform="translate(331.60,326.40) rotate(-90) scale(0.898,1)" font-size="12" text-anchor="middle" fill="#1a1a1a" stroke="#222" stroke-width="0.3" x="2.6 8.6 13.2 20.6 26.6">12.85</text>
<path d="M369.1,357.7 L369.1,352.6 Q369.1,350.6 371.1,350.6 L373.5,350.6 Q375.5,350.6 375.5,352.6 L375.5,357.7 Z" stroke="#000" stroke-width="0.9" fill="none" />
<line x1="368.40" y1="358.20" x2="376.20" y2="358.20" stroke="#000" stroke-width="0.9"/>
<rect x="368.40" y="358.20" width="7.80" height="42.60" rx="0" stroke="#000" stroke-width="1.1" fill="none"/>
<line x1="368.40" y1="365.40" x2="376.20" y2="365.40" stroke="#000" stroke-width="0.9"/>
<line x1="368.40" y1="391.30" x2="376.20" y2="391.30" stroke="#000" stroke-width="0.9"/>
<line x1="369.20" y1="358.60" x2="375.40" y2="365.20" stroke="#000" stroke-width="0.9"/>
<line x1="369.20" y1="365.20" x2="375.40" y2="358.60" stroke="#000" stroke-width="0.9"/>
<rect x="370.60" y="360.20" width="3.40" height="3.40" rx="0" stroke="#333" stroke-width="0.6" fill="#bbb"/>
<line x1="369.20" y1="391.50" x2="375.40" y2="400.40" stroke="#000" stroke-width="0.9"/>
<line x1="369.20" y1="400.40" x2="375.40" y2="391.50" stroke="#000" stroke-width="0.9"/>
<rect x="370.60" y="394.25" width="3.40" height="3.40" rx="0" stroke="#333" stroke-width="0.6" fill="#bbb"/>
<line x1="370.00" y1="365.40" x2="370.00" y2="391.30" stroke="#555" stroke-width="0.7"/>
<line x1="374.60" y1="365.40" x2="374.60" y2="391.30" stroke="#555" stroke-width="0.7"/>
<line x1="372.30" y1="352.00" x2="372.30" y2="403.20" stroke="#222" stroke-width="0.8" stroke-dasharray="8 2 2 2"/>
<path d="M395.8,357.7 L395.8,352.6 Q395.8,350.6 397.8,350.6 L400.2,350.6 Q402.2,350.6 402.2,352.6 L402.2,357.7 Z" stroke="#000" stroke-width="0.9" fill="none" />
<line x1="395.10" y1="358.20" x2="402.90" y2="358.20" stroke="#000" stroke-width="0.9"/>
<rect x="395.10" y="358.20" width="7.80" height="42.60" rx="0" stroke="#000" stroke-width="1.1" fill="none"/>
<line x1="395.10" y1="365.40" x2="402.90" y2="365.40" stroke="#000" stroke-width="0.9"/>
<line x1="395.10" y1="391.30" x2="402.90" y2="391.30" stroke="#000" stroke-width="0.9"/>
<line x1="395.90" y1="358.60" x2="402.10" y2="365.20" stroke="#000" stroke-width="0.9"/>
<line x1="395.90" y1="365.20" x2="402.10" y2="358.60" stroke="#000" stroke-width="0.9"/>
<rect x="397.30" y="360.20" width="3.40" height="3.40" rx="0" stroke="#333" stroke-width="0.6" fill="#bbb"/>
<line x1="395.90" y1="391.50" x2="402.10" y2="400.40" stroke="#000" stroke-width="0.9"/>
<line x1="395.90" y1="400.40" x2="402.10" y2="391.50" stroke="#000" stroke-width="0.9"/>
<rect x="397.30" y="394.25" width="3.40" height="3.40" rx="0" stroke="#333" stroke-width="0.6" fill="#bbb"/>
<line x1="396.70" y1="365.40" x2="396.70" y2="391.30" stroke="#555" stroke-width="0.7"/>
<line x1="401.30" y1="365.40" x2="401.30" y2="391.30" stroke="#555" stroke-width="0.7"/>
<line x1="399.00" y1="352.00" x2="399.00" y2="403.20" stroke="#222" stroke-width="0.8" stroke-dasharray="8 2 2 2"/>
<path d="M422.6,357.7 L422.6,352.6 Q422.6,350.6 424.6,350.6 L427.0,350.6 Q429.0,350.6 429.0,352.6 L429.0,357.7 Z" stroke="#000" stroke-width="0.9" fill="none" />
<line x1="421.90" y1="358.20" x2="429.70" y2="358.20" stroke="#000" stroke-width="0.9"/>
<rect x="421.90" y="358.20" width="7.80" height="42.60" rx="0" stroke="#000" stroke-width="1.1" fill="none"/>
<line x1="421.90" y1="365.40" x2="429.70" y2="365.40" stroke="#000" stroke-width="0.9"/>
<line x1="421.90" y1="391.30" x2="429.70" y2="391.30" stroke="#000" stroke-width="0.9"/>
<line x1="422.70" y1="358.60" x2="428.90" y2="365.20" stroke="#000" stroke-width="0.9"/>
<line x1="422.70" y1="365.20" x2="428.90" y2="358.60" stroke="#000" stroke-width="0.9"/>
<rect x="424.10" y="360.20" width="3.40" height="3.40" rx="0" stroke="#333" stroke-width="0.6" fill="#bbb"/>
<line x1="422.70" y1="391.50" x2="428.90" y2="400.40" stroke="#000" stroke-width="0.9"/>
<line x1="422.70" y1="400.40" x2="428.90" y2="391.50" stroke="#000" stroke-width="0.9"/>
<rect x="424.10" y="394.25" width="3.40" height="3.40" rx="0" stroke="#333" stroke-width="0.6" fill="#bbb"/>
<line x1="423.50" y1="365.40" x2="423.50" y2="391.30" stroke="#555" stroke-width="0.7"/>
<line x1="428.10" y1="365.40" x2="428.10" y2="391.30" stroke="#555" stroke-width="0.7"/>
<line x1="425.80" y1="352.00" x2="425.80" y2="403.20" stroke="#222" stroke-width="0.8" stroke-dasharray="8 2 2 2"/>
<line x1="372.30" y1="404.20" x2="372.30" y2="458.60" stroke="#000" stroke-width="1"/>
<line x1="399.00" y1="404.20" x2="399.00" y2="423.20" stroke="#000" stroke-width="1"/>
<line x1="425.80" y1="403.50" x2="425.80" y2="458.60" stroke="#000" stroke-width="1"/>
<line x1="422.50" y1="401.80" x2="422.50" y2="423.20" stroke="#000" stroke-width="1"/>
<line x1="429.40" y1="401.80" x2="429.40" y2="423.20" stroke="#000" stroke-width="1"/>
<line x1="306.90" y1="421.60" x2="399.00" y2="421.60" stroke="#000" stroke-width="1"/>
<polygon points="372.30,421.60 378.30,420.30 378.30,422.90" fill="#000"/>
<polygon points="399.00,421.60 393.00,422.90 393.00,420.30" fill="#000"/>
<text transform="translate(309.00,419.20) translate(27.20,0) scale(1.298,1)" font-size="12" text-anchor="middle" fill="#1a1a1a" stroke="#333" stroke-width="0.18">±</text>
<text transform="translate(309.00,419.20) scale(0.920,1)" font-size="12" text-anchor="middle" fill="#1a1a1a" stroke="#333" stroke-width="0.18" x="2.6 7.2 14.6 20.6 38.6 43.2 50.6 56.6">4.200.15</text>
<polygon points="295.10,412.30 303.30,412.30 299.20,419.80" fill="#000"/>
<line x1="408.20" y1="421.20" x2="422.50" y2="421.20" stroke="#000" stroke-width="1"/>
<polygon points="422.50,421.20 416.50,422.50 416.50,419.90" fill="#000"/>
<line x1="429.40" y1="421.20" x2="500.90" y2="421.20" stroke="#000" stroke-width="1"/>
<polygon points="429.40,421.20 435.40,419.90 435.40,422.50" fill="#000"/>
<text transform="translate(444.90,418.90) translate(26.95,0) scale(1.287,1)" font-size="12" text-anchor="middle" fill="#1a1a1a" stroke="#333" stroke-width="0.18">±</text>
<text transform="translate(444.90,418.90) scale(0.911,1)" font-size="12" text-anchor="middle" fill="#1a1a1a" stroke="#333" stroke-width="0.18" x="2.6 7.2 14.6 20.6 38.6 43.2 50.6 56.6">1.140.05</text>
<line x1="263.00" y1="457.10" x2="425.80" y2="457.10" stroke="#000" stroke-width="1"/>
<polygon points="372.30,457.10 378.30,455.80 378.30,458.40" fill="#000"/>
<polygon points="425.80,457.10 419.80,458.40 419.80,455.80" fill="#000"/>
<text transform="translate(265.20,441.70) translate(24.36,0) scale(1.238,1)" font-size="12" text-anchor="middle" fill="#1a1a1a" stroke="#333" stroke-width="0.18">-</text>
<text transform="translate(265.20,441.70) translate(51.85,0) scale(0.824,1)" font-size="12" text-anchor="middle" fill="#1a1a1a" stroke="#333" stroke-width="0.18">P</text>
<text transform="translate(265.20,441.70) translate(62.85,0) scale(0.634,1)" font-size="12" text-anchor="middle" fill="#1a1a1a" stroke="#333" stroke-width="0.18">A</text>
<text transform="translate(265.20,441.70) translate(71.09,0) scale(1.294,1)" font-size="12" text-anchor="middle" fill="#1a1a1a" stroke="#333" stroke-width="0.18">±</text>
<text transform="translate(265.20,441.70) scale(0.916,1)" font-size="12" text-anchor="middle" fill="#1a1a1a" stroke="#333" stroke-width="0.18" x="2.6 8.6 14.6 20.6 32.6 38.6 44.6 50.6 86.6 91.2 98.6 104.6">2x032x060.25</text>
<text transform="translate(265.20,454.70) translate(24.36,0) scale(1.238,1)" font-size="12" text-anchor="middle" fill="#1a1a1a" stroke="#333" stroke-width="0.18">-</text>
<text transform="translate(265.20,454.70) translate(51.85,0) scale(0.824,1)" font-size="12" text-anchor="middle" fill="#1a1a1a" stroke="#333" stroke-width="0.18">P</text>
<text transform="translate(265.20,454.70) translate(62.85,0) scale(0.634,1)" font-size="12" text-anchor="middle" fill="#1a1a1a" stroke="#333" stroke-width="0.18">A</text>
<text transform="translate(265.20,454.70) translate(71.09,0) scale(1.294,1)" font-size="12" text-anchor="middle" fill="#1a1a1a" stroke="#333" stroke-width="0.18">±</text>
<text transform="translate(265.20,454.70) scale(0.916,1)" font-size="12" text-anchor="middle" fill="#1a1a1a" stroke="#333" stroke-width="0.18" x="2.6 8.6 14.6 20.6 32.6 38.6 44.6 50.6 86.6 91.2 98.6 104.6">2x072x120.40</text>
<polygon points="249.30,441.30 257.60,441.30 253.45,449.00" fill="#000"/>
<text transform="translate(638.50,239.40) scale(0.898,1)" font-size="12" text-anchor="middle" fill="#1a1a1a" stroke="#333" stroke-width="0.18" x="2.6 8.6 13.2 20.6 26.6">10.00</text>
<line x1="619.40" y1="241.30" x2="683.40" y2="241.30" stroke="#000" stroke-width="1"/>
<polygon points="619.40,241.30 625.40,240.00 625.40,242.60" fill="#000"/>
<polygon points="683.40,241.30 677.40,242.60 677.40,240.00" fill="#000"/>
<line x1="619.40" y1="239.40" x2="619.40" y2="283.60" stroke="#000" stroke-width="1"/>
<line x1="683.40" y1="239.40" x2="683.40" y2="272.20" stroke="#000" stroke-width="1"/>
<text transform="translate(641.70,255.60) scale(0.933,1)" font-size="12" text-anchor="middle" fill="#1a1a1a" stroke="#333" stroke-width="0.18" x="2.6 7.2 14.6 20.6">9.70</text>
<line x1="621.70" y1="257.60" x2="683.40" y2="257.60" stroke="#000" stroke-width="1"/>
<polygon points="621.70,257.60 627.70,256.30 627.70,258.90" fill="#000"/>
<polygon points="683.40,257.60 677.40,258.90 677.40,256.30" fill="#000"/>
<line x1="621.70" y1="255.90" x2="621.70" y2="272.20" stroke="#000" stroke-width="1"/>
<text transform="translate(707.60,255.60) scale(0.898,1)" font-size="12" text-anchor="middle" fill="#1a1a1a" stroke="#333" stroke-width="0.18" x="2.6 7.2 14.6 20.6">1.30</text>
<line x1="691.80" y1="257.60" x2="730.60" y2="257.60" stroke="#000" stroke-width="1"/>
<polygon points="691.80,257.60 697.80,256.30 697.80,258.90" fill="#000"/>
<line x1="691.80" y1="255.90" x2="691.80" y2="291.40" stroke="#000" stroke-width="1.1"/>
<line x1="621.40" y1="272.20" x2="683.90" y2="272.20" stroke="#000" stroke-width="1.2"/>
<line x1="621.40" y1="354.50" x2="683.90" y2="354.50" stroke="#000" stroke-width="1.2"/>
<line x1="621.80" y1="272.20" x2="621.80" y2="354.50" stroke="#000" stroke-width="1.3"/>
<line x1="624.80" y1="272.20" x2="624.80" y2="354.50" stroke="#000" stroke-width="0.9"/>
<line x1="634.60" y1="272.20" x2="634.60" y2="354.50" stroke="#000" stroke-width="1.1"/>
<line x1="638.90" y1="272.20" x2="638.90" y2="354.50" stroke="#444" stroke-width="0.9"/>
<line x1="680.50" y1="272.20" x2="680.50" y2="354.50" stroke="#000" stroke-width="1.0"/>
<line x1="683.40" y1="272.20" x2="683.40" y2="354.50" stroke="#000" stroke-width="1.3"/>
<line x1="620.20" y1="283.60" x2="620.20" y2="352.60" stroke="#000" stroke-width="1.1"/>
<line x1="619.40" y1="283.60" x2="620.80" y2="283.60" stroke="#000" stroke-width="0.8"/>
<line x1="620.20" y1="352.60" x2="621.80" y2="352.60" stroke="#000" stroke-width="0.9"/>
<line x1="683.40" y1="272.20" x2="714.80" y2="272.20" stroke="#000" stroke-width="1"/>
<line x1="683.40" y1="272.20" x2="691.80" y2="286.80" stroke="#000" stroke-width="1.1"/>
<line x1="683.40" y1="291.40" x2="691.80" y2="291.40" stroke="#000" stroke-width="1.1"/>
<line x1="694.20" y1="291.40" x2="714.80" y2="291.40" stroke="#000" stroke-width="1"/>
<line x1="713.20" y1="272.20" x2="713.20" y2="323.50" stroke="#000" stroke-width="1"/>
<polygon points="713.20,272.20 714.50,278.20 711.90,278.20" fill="#000"/>
<polygon points="713.20,291.40 711.90,285.40 714.50,285.40" fill="#000"/>
<text transform="translate(711.00,321.60) rotate(-90) scale(0.941,1)" font-size="12" text-anchor="middle" fill="#1a1a1a" stroke="#222" stroke-width="0.3" x="2.6 7.2 14.6 20.6">3.20</text>
<line x1="583.90" y1="308.30" x2="619.40" y2="308.30" stroke="#000" stroke-width="1"/>
<line x1="583.90" y1="321.30" x2="619.40" y2="321.30" stroke="#000" stroke-width="1"/>
<line x1="606.90" y1="308.30" x2="606.90" y2="321.30" stroke="#000" stroke-width="1"/>
<line x1="608.70" y1="308.30" x2="608.70" y2="321.30" stroke="#000" stroke-width="0.9"/>
<path d="M606.90,308.30 L600.40,312.20 L600.40,318.20 L606.90,321.30" stroke="#000" stroke-width="1" fill="none" />
<line x1="563.60" y1="315.10" x2="624.50" y2="315.10" stroke="#000" stroke-width="1" stroke-dasharray="34 2.5 3 2.5"/>
<line x1="585.40" y1="269.10" x2="585.40" y2="308.30" stroke="#000" stroke-width="1"/>
<polygon points="585.40,308.30 584.10,302.30 586.70,302.30" fill="#000"/>
<line x1="585.40" y1="321.30" x2="585.40" y2="336.00" stroke="#000" stroke-width="1"/>
<polygon points="585.40,321.30 586.70,327.30 584.10,327.30" fill="#000"/>
<text transform="translate(584.40,292.90) rotate(-90) scale(0.963,1)" font-size="12" text-anchor="middle" fill="#1a1a1a" stroke="#222" stroke-width="0.3" x="2.6 7.2 14.6 20.6">2.00</text>
<line x1="564.70" y1="249.80" x2="564.70" y2="361.30" stroke="#000" stroke-width="1"/>
<polygon points="564.70,315.10 566.00,321.10 563.40,321.10" fill="#000"/>
<polygon points="564.70,361.30 563.40,355.30 566.00,355.30" fill="#000"/>
<circle cx="564.70" cy="315.10" r="0.90" stroke="#000" stroke-width="0" fill="#000"/>
<text transform="translate(563.60,305.20) rotate(-90) translate(26.45,0) scale(1.263,1)" font-size="12" text-anchor="middle" fill="#1a1a1a" stroke="#222" stroke-width="0.3">±</text>
<text transform="translate(563.60,305.20) rotate(-90) scale(0.894,1)" font-size="12" text-anchor="middle" fill="#1a1a1a" stroke="#222" stroke-width="0.3" x="2.6 7.2 14.6 20.6 38.6 43.2 50.6 56.6">7.300.25</text>
<polygon points="556.10,239.30 563.90,239.30 560.00,246.80" fill="#000"/>
<line x1="541.30" y1="296.20" x2="541.30" y2="396.50" stroke="#000" stroke-width="1"/>
<polygon points="541.30,361.30 542.60,367.30 540.00,367.30" fill="#000"/>
<polygon points="541.30,396.50 540.00,390.50 542.60,390.50" fill="#000"/>
<text transform="translate(539.50,352.60) rotate(-90) translate(27.10,0) scale(1.294,1)" font-size="12" text-anchor="middle" fill="#1a1a1a" stroke="#222" stroke-width="0.3">±</text>
<text transform="translate(539.50,352.60) rotate(-90) scale(0.916,1)" font-size="12" text-anchor="middle" fill="#1a1a1a" stroke="#222" stroke-width="0.3" x="2.6 7.2 14.6 20.6 38.6 43.2 50.6 56.6">5.500.25</text>
<polygon points="531.70,284.90 539.80,284.90 535.75,292.00" fill="#000"/>
<line x1="539.20" y1="361.30" x2="592.90" y2="361.30" stroke="#000" stroke-width="1"/>
<line x1="539.20" y1="396.50" x2="592.90" y2="396.50" stroke="#000" stroke-width="1"/>
<path d="M601.5,357.8 L630.6,357.8 Q635.6,357.8 635.6,354.5" stroke="#000" stroke-width="1.1" fill="none" />
<path d="M601.5,365.1 L632,365.1 Q642.7,365.1 642.7,354.5" stroke="#000" stroke-width="1.1" fill="none" />
<path d="M601.50,357.80 L596.20,360.00 L596.20,362.70 L601.50,365.10" stroke="#000" stroke-width="1" fill="none" />
<line x1="601.50" y1="357.80" x2="601.50" y2="365.10" stroke="#000" stroke-width="1"/>
<line x1="595.00" y1="361.30" x2="633.10" y2="361.30" stroke="#000" stroke-width="0.9" stroke-dasharray="14 2.5 3 2.5"/>
<path d="M601.5,392.9 L655.9,392.9 Q662.9,392.9 662.9,385.9 L662.9,354.5" stroke="#000" stroke-width="1.1" fill="none" />
<path d="M601.5,400.4 L655.5,400.4 Q670,400.4 670,385.9 L670,354.5" stroke="#000" stroke-width="1.1" fill="none" />
<path d="M601.50,392.90 L596.20,395.20 L596.20,397.90 L601.50,400.40" stroke="#000" stroke-width="1" fill="none" />
<line x1="601.50" y1="392.90" x2="601.50" y2="400.40" stroke="#000" stroke-width="1"/>
<line x1="595.00" y1="396.50" x2="646.60" y2="396.50" stroke="#000" stroke-width="0.9" stroke-dasharray="14 2.5 3 2.5"/>
<line x1="619.70" y1="354.50" x2="619.70" y2="427.80" stroke="#000" stroke-width="1"/>
<line x1="596.70" y1="401.00" x2="596.70" y2="428.20" stroke="#000" stroke-width="1"/>
<line x1="596.70" y1="425.90" x2="684.90" y2="425.90" stroke="#000" stroke-width="1"/>
<polygon points="596.70,425.90 602.70,424.60 602.70,427.20" fill="#000"/>
<polygon points="619.70,425.90 613.70,427.20 613.70,424.60" fill="#000"/>
<text transform="translate(628.90,424.00) translate(27.25,0) scale(1.301,1)" font-size="12" text-anchor="middle" fill="#1a1a1a" stroke="#333" stroke-width="0.18">±</text>
<text transform="translate(628.90,424.00) scale(0.921,1)" font-size="12" text-anchor="middle" fill="#1a1a1a" stroke="#333" stroke-width="0.18" x="2.6 7.2 14.6 20.6 38.6 43.2 50.6 56.6">3.600.25</text>
<polygon points="690.30,417.20 698.40,417.20 694.35,425.30" fill="#000"/>
<circle cx="81.00" cy="549.10" r="5.90" stroke="#000" stroke-width="1.1" fill="none"/>
<line x1="72.60" y1="549.10" x2="89.40" y2="549.10" stroke="#000" stroke-width="0.9"/>
<line x1="81.00" y1="540.70" x2="81.00" y2="557.50" stroke="#000" stroke-width="0.9"/>
<circle cx="81.00" cy="584.40" r="5.90" stroke="#000" stroke-width="1.1" fill="none"/>
<line x1="72.60" y1="584.40" x2="89.40" y2="584.40" stroke="#000" stroke-width="0.9"/>
<line x1="81.00" y1="576.00" x2="81.00" y2="592.80" stroke="#000" stroke-width="0.9"/>
<circle cx="81.00" cy="630.40" r="9.80" stroke="#000" stroke-width="1.1" fill="none"/>
<line x1="48.20" y1="549.10" x2="72.00" y2="549.10" stroke="#000" stroke-width="1"/>
<line x1="48.20" y1="584.40" x2="72.00" y2="584.40" stroke="#000" stroke-width="1"/>
<line x1="48.20" y1="630.40" x2="63.20" y2="630.40" stroke="#000" stroke-width="1"/>
<line x1="66.00" y1="630.40" x2="97.00" y2="630.40" stroke="#000" stroke-width="0.9" stroke-dasharray="9 2.5 2.5 2.5"/>
<line x1="81.00" y1="616.50" x2="81.00" y2="644.50" stroke="#000" stroke-width="0.9" stroke-dasharray="12 2.5 2.5 2.5"/>
<line x1="81.00" y1="558.00" x2="81.00" y2="575.50" stroke="#000" stroke-width="0.9"/>
<line x1="50.10" y1="549.10" x2="50.10" y2="630.40" stroke="#000" stroke-width="1"/>
<polygon points="50.10,549.10 51.40,555.10 48.80,555.10" fill="#000"/>
<polygon points="50.10,584.40 48.80,578.40 51.40,578.40" fill="#000"/>
<polygon points="50.10,584.40 51.40,590.40 48.80,590.40" fill="#000"/>
<polygon points="50.10,630.40 48.80,624.40 51.40,624.40" fill="#000"/>
<text transform="translate(48.00,577.90) rotate(-90) scale(0.950,1)" font-size="12" text-anchor="middle" fill="#1a1a1a" stroke="#222" stroke-width="0.3" x="2.6 7.2 14.6 20.6">5.50</text>
<text transform="translate(48.00,618.70) rotate(-90) scale(0.907,1)" font-size="12" text-anchor="middle" fill="#1a1a1a" stroke="#222" stroke-width="0.3" x="2.6 7.2 14.6 20.6">7.30</text>
<path d="M86.20,544.30 L100.90,533.40 L105.70,533.40" stroke="#000" stroke-width="1" fill="none" />
<polygon points="85.60,544.80 88.66,541.38 89.74,542.82" fill="#000"/>
<circle cx="110.60" cy="533.80" r="2.10" stroke="#000" stroke-width="0.8" fill="none"/>
<line x1="108.80" y1="535.80" x2="112.40" y2="531.80" stroke="#000" stroke-width="0.7"/>
<text transform="translate(113.80,537.00) scale(0.966,1)" font-size="11" text-anchor="middle" fill="#1a1a1a" stroke="#333" stroke-width="0.18" x="2.4 6.6 13.4 18.9">1.80</text>
<path d="M91.50,626.90 L105.00,617.40 L109.20,617.40" stroke="#000" stroke-width="1" fill="none" />
<polygon points="90.40,627.70 93.54,624.36 94.59,625.82" fill="#000"/>
<circle cx="114.80" cy="618.40" r="2.10" stroke="#000" stroke-width="0.8" fill="none"/>
<line x1="113.00" y1="620.40" x2="116.60" y2="616.40" stroke="#000" stroke-width="0.7"/>
<text transform="translate(118.00,621.60) scale(0.984,1)" font-size="11" text-anchor="middle" fill="#1a1a1a" stroke="#333" stroke-width="0.18" x="2.4 6.6 13.4 18.9">3.00</text>
<text transform="translate(66.40,662.40) translate(32.72,0) scale(0.885,1)" font-size="15" text-anchor="middle" fill="#222">P</text>
<text transform="translate(66.40,662.40) scale(0.985,1)" font-size="15" text-anchor="middle" fill="#222" x="3.2 10.7 18.2 25.7">2x01</text>
<circle cx="204.00" cy="549.40" r="6.00" stroke="#000" stroke-width="1.1" fill="none"/>
<circle cx="204.00" cy="584.30" r="6.00" stroke="#000" stroke-width="1.1" fill="none"/>
<circle cx="231.10" cy="549.40" r="6.00" stroke="#000" stroke-width="1.1" fill="none"/>
<circle cx="231.10" cy="584.30" r="6.00" stroke="#000" stroke-width="1.1" fill="none"/>
<circle cx="217.30" cy="631.00" r="10.00" stroke="#000" stroke-width="1.1" fill="none"/>
<line x1="171.10" y1="549.40" x2="195.50" y2="549.40" stroke="#000" stroke-width="1"/>
<line x1="197.00" y1="549.40" x2="239.60" y2="549.40" stroke="#000" stroke-width="0.9" stroke-dasharray="14 2.5 8 2.5"/>
<line x1="171.10" y1="584.30" x2="195.50" y2="584.30" stroke="#000" stroke-width="1"/>
<line x1="197.00" y1="584.30" x2="239.60" y2="584.30" stroke="#000" stroke-width="0.9" stroke-dasharray="14 2.5 8 2.5"/>
<line x1="171.10" y1="631.00" x2="201.10" y2="631.00" stroke="#000" stroke-width="1"/>
<line x1="204.00" y1="631.00" x2="232.00" y2="631.00" stroke="#000" stroke-width="0.9" stroke-dasharray="9 2.5 2.5 2.5"/>
<line x1="172.90" y1="549.40" x2="172.90" y2="631.00" stroke="#000" stroke-width="1"/>
<polygon points="172.90,549.40 174.20,555.40 171.60,555.40" fill="#000"/>
<polygon points="172.90,584.30 171.60,578.30 174.20,578.30" fill="#000"/>
<polygon points="172.90,584.30 174.20,590.30 171.60,590.30" fill="#000"/>
<polygon points="172.90,631.00 171.60,625.00 174.20,625.00" fill="#000"/>
<text transform="translate(171.10,577.40) rotate(-90) scale(0.898,1)" font-size="12" text-anchor="middle" fill="#1a1a1a" stroke="#222" stroke-width="0.3" x="2.6 7.2 14.6 20.6">5.50</text>
<text transform="translate(171.10,618.50) rotate(-90) scale(0.920,1)" font-size="12" text-anchor="middle" fill="#1a1a1a" stroke="#222" stroke-width="0.3" x="2.6 7.2 14.6 20.6">7.30</text>
<text transform="translate(173.80,524.60) scale(0.960,1)" font-size="11.5" text-anchor="middle" fill="#1a1a1a" stroke="#333" stroke-width="0.18" x="2.5 6.9 14.0 19.7">4.20</text>
<line x1="171.10" y1="526.60" x2="231.10" y2="526.60" stroke="#000" stroke-width="1"/>
<polygon points="204.00,526.60 210.00,525.30 210.00,527.90" fill="#000"/>
<polygon points="231.10,526.60 225.10,527.90 225.10,525.30" fill="#000"/>
<line x1="204.00" y1="523.90" x2="204.00" y2="541.50" stroke="#000" stroke-width="1"/>
<line x1="231.10" y1="523.90" x2="231.10" y2="541.50" stroke="#000" stroke-width="1"/>
<line x1="204.00" y1="541.50" x2="204.00" y2="608.30" stroke="#000" stroke-width="0.9" stroke-dasharray="16 2.5 16 2.5"/>
<line x1="231.10" y1="541.50" x2="231.10" y2="592.00" stroke="#000" stroke-width="0.9" stroke-dasharray="16 2.5 16 2.5"/>
<line x1="190.00" y1="607.20" x2="204.00" y2="607.20" stroke="#000" stroke-width="1"/>
<polygon points="204.00,607.20 198.00,608.50 198.00,605.90" fill="#000"/>
<line x1="217.30" y1="607.20" x2="256.70" y2="607.20" stroke="#000" stroke-width="1"/>
<polygon points="217.30,607.20 223.30,605.90 223.30,608.50" fill="#000"/>
<text transform="translate(233.30,604.30) scale(0.982,1)" font-size="11.5" text-anchor="middle" fill="#1a1a1a" stroke="#333" stroke-width="0.18" x="2.5 6.9 14.0 19.7">2.10</text>
<line x1="217.30" y1="605.00" x2="217.30" y2="644.50" stroke="#000" stroke-width="0.9" stroke-dasharray="13 2.5 2.5 2.5"/>
<path d="M236.70,544.60 L251.10,533.40 L256.70,533.40" stroke="#000" stroke-width="1" fill="none" />
<polygon points="236.00,545.20 239.06,541.78 240.14,543.22" fill="#000"/>
<circle cx="260.80" cy="534.00" r="2.10" stroke="#000" stroke-width="0.8" fill="none"/>
<line x1="259.00" y1="536.00" x2="262.60" y2="532.00" stroke="#000" stroke-width="0.7"/>
<text transform="translate(264.00,537.20) scale(0.961,1)" font-size="11" text-anchor="middle" fill="#1a1a1a" stroke="#333" stroke-width="0.18" x="2.4 6.6 13.4 18.9">1.80</text>
<path d="M227.80,626.80 L241.10,617.20 L245.60,617.20" stroke="#000" stroke-width="1" fill="none" />
<polygon points="226.60,627.60 229.74,624.26 230.79,625.72" fill="#000"/>
<circle cx="251.30" cy="618.00" r="2.10" stroke="#000" stroke-width="0.8" fill="none"/>
<line x1="249.50" y1="620.00" x2="253.10" y2="616.00" stroke="#000" stroke-width="0.7"/>
<text transform="translate(254.50,621.20) scale(0.994,1)" font-size="11" text-anchor="middle" fill="#1a1a1a" stroke="#333" stroke-width="0.18" x="2.4 6.6 13.4 18.9">3.00</text>
<text transform="translate(202.70,661.70) translate(33.00,0) scale(0.893,1)" font-size="15" text-anchor="middle" fill="#222">P</text>
<text transform="translate(202.70,661.70) scale(0.993,1)" font-size="15" text-anchor="middle" fill="#222" x="3.2 10.7 18.2 25.7">2x02</text>
<circle cx="372.20" cy="549.60" r="5.90" stroke="#000" stroke-width="1.1" fill="none"/>
<circle cx="372.20" cy="584.40" r="5.90" stroke="#000" stroke-width="1.1" fill="none"/>
<circle cx="399.10" cy="549.60" r="5.90" stroke="#000" stroke-width="1.1" fill="none"/>
<circle cx="399.10" cy="584.40" r="5.90" stroke="#000" stroke-width="1.1" fill="none"/>
<circle cx="425.90" cy="549.60" r="5.90" stroke="#000" stroke-width="1.1" fill="none"/>
<circle cx="425.90" cy="584.40" r="5.90" stroke="#000" stroke-width="1.1" fill="none"/>
<circle cx="372.20" cy="631.00" r="9.90" stroke="#000" stroke-width="1.1" fill="none"/>
<circle cx="425.90" cy="631.00" r="9.90" stroke="#000" stroke-width="1.1" fill="none"/>
<line x1="339.30" y1="549.60" x2="363.80" y2="549.60" stroke="#000" stroke-width="1"/>
<line x1="365.00" y1="549.60" x2="433.50" y2="549.60" stroke="#000" stroke-width="0.9" stroke-dasharray="13 3 8 3"/>
<line x1="339.30" y1="584.40" x2="363.80" y2="584.40" stroke="#000" stroke-width="1"/>
<line x1="365.00" y1="584.40" x2="433.50" y2="584.40" stroke="#000" stroke-width="0.9" stroke-dasharray="13 3 8 3"/>
<line x1="339.30" y1="631.00" x2="360.00" y2="631.00" stroke="#000" stroke-width="1"/>
<line x1="356.00" y1="631.00" x2="438.80" y2="631.00" stroke="#000" stroke-width="0.9" stroke-dasharray="17 2.5 3 2.5"/>
<line x1="341.60" y1="549.60" x2="341.60" y2="631.00" stroke="#000" stroke-width="1"/>
<polygon points="341.60,549.60 342.90,555.60 340.30,555.60" fill="#000"/>
<polygon points="341.60,584.40 340.30,578.40 342.90,578.40" fill="#000"/>
<polygon points="341.60,584.40 342.90,590.40 340.30,590.40" fill="#000"/>
<polygon points="341.60,631.00 340.30,625.00 342.90,625.00" fill="#000"/>
<text transform="translate(339.30,577.60) rotate(-90) scale(0.924,1)" font-size="12" text-anchor="middle" fill="#1a1a1a" stroke="#222" stroke-width="0.3" x="2.6 7.2 14.6 20.6">5.50</text>
<text transform="translate(339.30,618.70) rotate(-90) scale(0.950,1)" font-size="12" text-anchor="middle" fill="#1a1a1a" stroke="#222" stroke-width="0.3" x="2.6 7.2 14.6 20.6">7.30</text>
<text x="400.00" y="508.60" font-size="9" text-anchor="middle" fill="#1a1a1a">A</text>
<line x1="372.20" y1="511.50" x2="425.90" y2="511.50" stroke="#000" stroke-width="1"/>
<polygon points="372.20,511.50 378.20,510.20 378.20,512.80" fill="#000"/>
<polygon points="425.90,511.50 419.90,512.80 419.90,510.20" fill="#000"/>
<line x1="372.20" y1="509.10" x2="372.20" y2="539.50" stroke="#000" stroke-width="1"/>
<line x1="426.10" y1="509.10" x2="426.10" y2="541.00" stroke="#000" stroke-width="1"/>
<text transform="translate(336.90,522.80) scale(0.987,1)" font-size="11.5" text-anchor="middle" fill="#1a1a1a" stroke="#333" stroke-width="0.18" x="2.5 6.9 14.0 19.7">4.20</text>
<line x1="335.30" y1="525.10" x2="399.10" y2="525.10" stroke="#000" stroke-width="1"/>
<polygon points="372.20,525.10 378.20,523.80 378.20,526.40" fill="#000"/>
<polygon points="399.10,525.10 393.10,526.40 393.10,523.80" fill="#000"/>
<line x1="399.10" y1="522.80" x2="399.10" y2="539.50" stroke="#000" stroke-width="1"/>
<line x1="372.20" y1="539.50" x2="372.20" y2="641.00" stroke="#000" stroke-width="0.9" stroke-dasharray="18 2.5 16 2.5"/>
<line x1="426.10" y1="541.00" x2="426.10" y2="641.00" stroke="#000" stroke-width="0.9" stroke-dasharray="18 2.5 16 2.5"/>
<line x1="399.10" y1="539.50" x2="399.10" y2="590.00" stroke="#000" stroke-width="0.9" stroke-dasharray="18 2.5 16 2.5"/>
<path d="M430.60,544.90 L445.90,533.10 L451.30,533.10" stroke="#000" stroke-width="1" fill="none" />
<polygon points="429.90,545.50 432.96,542.08 434.04,543.52" fill="#000"/>
<circle cx="455.30" cy="534.20" r="2.10" stroke="#000" stroke-width="0.8" fill="none"/>
<line x1="453.50" y1="536.20" x2="457.10" y2="532.20" stroke="#000" stroke-width="0.7"/>
<text transform="translate(458.50,537.40) scale(0.989,1)" font-size="11" text-anchor="middle" fill="#1a1a1a" stroke="#333" stroke-width="0.18" x="2.4 6.6 13.4 18.9">1.80</text>
<path d="M436.50,626.80 L449.90,617.40 L454.60,617.40" stroke="#000" stroke-width="1" fill="none" />
<polygon points="435.30,627.60 438.44,624.26 439.49,625.72" fill="#000"/>
<circle cx="460.00" cy="618.40" r="2.10" stroke="#000" stroke-width="0.8" fill="none"/>
<line x1="458.20" y1="620.40" x2="461.80" y2="616.40" stroke="#000" stroke-width="0.7"/>
<text transform="translate(463.20,621.60) scale(0.980,1)" font-size="11" text-anchor="middle" fill="#1a1a1a" stroke="#333" stroke-width="0.18" x="2.4 6.6 13.4 18.9">3.00</text>
<text transform="translate(364.20,661.60) translate(32.98,0) scale(1.341,1)" font-size="15" text-anchor="middle" fill="#222">-</text>
<text transform="translate(364.20,661.60) translate(70.20,0) scale(0.892,1)" font-size="15" text-anchor="middle" fill="#222">P</text>
<text transform="translate(364.20,661.60) scale(0.993,1)" font-size="15" text-anchor="middle" fill="#222" x="3.2 10.7 18.2 25.7 40.7 48.2 55.7 63.2">2x032x12</text>
<text transform="translate(180.10,692.00) translate(3.25,0) scale(0.848,1)" font-size="16" text-anchor="middle" fill="#222">P</text>
<text transform="translate(180.10,692.00) translate(10.80,0) scale(0.707,1)" font-size="16" text-anchor="middle" fill="#222">C</text>
<text transform="translate(180.10,692.00) translate(18.35,0) scale(0.707,1)" font-size="16" text-anchor="middle" fill="#222">B</text>
<text transform="translate(180.10,692.00) translate(33.45,0) scale(0.773,1)" font-size="16" text-anchor="middle" fill="#222">L</text>
<text transform="translate(180.10,692.00) translate(41.00,0) scale(0.653,1)" font-size="16" text-anchor="middle" fill="#222">A</text>
<text transform="translate(180.10,692.00) translate(48.55,0) scale(0.653,1)" font-size="16" text-anchor="middle" fill="#222">Y</text>
<text transform="translate(180.10,692.00) translate(56.10,0) scale(0.653,1)" font-size="16" text-anchor="middle" fill="#222">O</text>
<text transform="translate(180.10,692.00) translate(63.65,0) scale(0.653,1)" font-size="16" text-anchor="middle" fill="#222">U</text>
<text transform="translate(180.10,692.00) translate(71.20,0) scale(0.773,1)" font-size="16" text-anchor="middle" fill="#222">T</text>
<text transform="translate(180.10,692.00) translate(86.30,0) scale(0.707,1)" font-size="16" text-anchor="middle" fill="#222">C</text>
<text transform="translate(180.10,692.00) translate(101.40,0) scale(0.607,1)" font-size="16" text-anchor="middle" fill="#222">m</text>
<text transform="translate(180.10,692.00) translate(161.80,0) scale(0.848,1)" font-size="16" text-anchor="middle" fill="#222">S</text>
<text transform="translate(180.10,692.00) scale(0.944,1)" font-size="16" text-anchor="middle" fill="#222" x="81.6 99.4 115.4 123.4 131.4 139.4 147.4 155.4 179.4 187.4 195.4">:oponentide</text>
<text transform="translate(147.80,708.80) translate(3.25,0) scale(0.707,1)" font-size="16" text-anchor="middle" fill="#222">R</text>
<text transform="translate(147.80,708.80) translate(33.43,0) scale(0.606,1)" font-size="16" text-anchor="middle" fill="#222">m</text>
<text transform="translate(147.80,708.80) translate(40.98,0) scale(0.606,1)" font-size="16" text-anchor="middle" fill="#222">m</text>
<text transform="translate(147.80,708.80) translate(93.81,0) scale(0.848,1)" font-size="16" text-anchor="middle" fill="#222">P</text>
<text transform="translate(147.80,708.80) translate(101.36,0) scale(0.707,1)" font-size="16" text-anchor="middle" fill="#222">C</text>
<text transform="translate(147.80,708.80) translate(108.91,0) scale(0.707,1)" font-size="16" text-anchor="middle" fill="#222">B</text>
<text transform="translate(147.80,708.80) translate(124.00,0) scale(0.772,1)" font-size="16" text-anchor="middle" fill="#222">T</text>
<text transform="translate(147.80,708.80) translate(229.66,0) scale(0.531,1)" font-size="16" text-anchor="middle" fill="#222">M</text>
<text transform="translate(147.80,708.80) translate(237.21,0) scale(0.653,1)" font-size="16" text-anchor="middle" fill="#222">A</text>
<text transform="translate(147.80,708.80) translate(244.75,0) scale(0.653,1)" font-size="16" text-anchor="middle" fill="#222">X</text>
<text transform="translate(147.80,708.80) scale(0.943,1)" font-size="16" text-anchor="middle" fill="#222" x="11.4 19.4 27.4 51.4 59.4 67.4 75.4 83.4 139.4 147.4 155.4 163.4 171.4 179.4 187.4 195.4 211.4 217.6 227.4 235.4">ecoendedhickness1.78</text>
<rect x="825.60" y="84.50" width="155.10" height="260.86" rx="0" stroke="#000" stroke-width="1.1" fill="none"/>
<line x1="878.50" y1="84.50" x2="878.50" y2="345.36" stroke="#000" stroke-width="1.1"/>
<line x1="929.50" y1="100.20" x2="929.50" y2="345.36" stroke="#000" stroke-width="1.1"/>
<line x1="878.50" y1="100.20" x2="980.70" y2="100.20" stroke="#000" stroke-width="1.1"/>
<line x1="825.60" y1="113.40" x2="980.70" y2="113.40" stroke="#000" stroke-width="1.1"/>
<line x1="825.60" y1="132.73" x2="980.70" y2="132.73" stroke="#000" stroke-width="1.1"/>
<line x1="825.60" y1="152.06" x2="980.70" y2="152.06" stroke="#000" stroke-width="1.1"/>
<line x1="825.60" y1="171.39" x2="980.70" y2="171.39" stroke="#000" stroke-width="1.1"/>
<line x1="825.60" y1="190.72" x2="980.70" y2="190.72" stroke="#000" stroke-width="1.1"/>
<line x1="825.60" y1="210.05" x2="980.70" y2="210.05" stroke="#000" stroke-width="1.1"/>
<line x1="825.60" y1="229.38" x2="980.70" y2="229.38" stroke="#000" stroke-width="1.1"/>
<line x1="825.60" y1="248.71" x2="980.70" y2="248.71" stroke="#000" stroke-width="1.1"/>
<line x1="825.60" y1="268.04" x2="980.70" y2="268.04" stroke="#000" stroke-width="1.1"/>
<line x1="825.60" y1="287.37" x2="980.70" y2="287.37" stroke="#000" stroke-width="1.1"/>
<line x1="825.60" y1="306.70" x2="980.70" y2="306.70" stroke="#000" stroke-width="1.1"/>
<line x1="825.60" y1="326.03" x2="980.70" y2="326.03" stroke="#000" stroke-width="1.1"/>
<text transform="translate(829.30,103.90) translate(2.47,0) scale(0.737,1)" font-size="14" text-anchor="middle" fill="#1a1a1a">P</text>
<text transform="translate(829.30,103.90) translate(8.21,0) scale(0.568,1)" font-size="14" text-anchor="middle" fill="#1a1a1a">A</text>
<text transform="translate(829.30,103.90) translate(13.94,0) scale(0.614,1)" font-size="14" text-anchor="middle" fill="#1a1a1a">R</text>
<text transform="translate(829.30,103.90) translate(19.68,0) scale(0.671,1)" font-size="14" text-anchor="middle" fill="#1a1a1a">T</text>
<text transform="translate(829.30,103.90) translate(31.16,0) scale(0.568,1)" font-size="14" text-anchor="middle" fill="#1a1a1a">N</text>
<text transform="translate(829.30,103.90) translate(36.89,0) scale(0.568,1)" font-size="14" text-anchor="middle" fill="#1a1a1a">O</text>
<text transform="translate(829.30,103.90) scale(0.820,1)" font-size="14" text-anchor="middle" fill="#1a1a1a" x="50.4">.</text>
<text transform="translate(886.00,97.90) translate(2.59,0) scale(0.597,1)" font-size="14" text-anchor="middle" fill="#1a1a1a">D</text>
<text transform="translate(886.00,97.90) translate(14.66,0) scale(0.554,1)" font-size="14" text-anchor="middle" fill="#1a1a1a">m</text>
<text transform="translate(886.00,97.90) translate(68.94,0) scale(0.554,1)" font-size="14" text-anchor="middle" fill="#1a1a1a">m</text>
<text transform="translate(886.00,97.90) translate(74.97,0) scale(0.554,1)" font-size="14" text-anchor="middle" fill="#1a1a1a">m</text>
<text transform="translate(886.00,97.90) scale(0.862,1)" font-size="14" text-anchor="middle" fill="#1a1a1a" x="10.0 24.0 31.0 38.0 45.0 52.0 59.0 66.0 73.0 94.0">iensions()</text>
<text x="905.50" y="111.60" font-size="12.5" text-anchor="middle" textLength="6.4" lengthAdjust="spacingAndGlyphs" fill="#1a1a1a">A</text>
<text x="953.10" y="111.60" font-size="12.5" text-anchor="middle" textLength="6.2" lengthAdjust="spacingAndGlyphs" fill="#1a1a1a">B</text>
<text transform="translate(839.70,127.70) scale(0.866,1)" font-size="14" text-anchor="middle" fill="#1a1a1a" x="3.0 10.0 17.0 24.0">2x01</text>
<line x1="896.40" y1="122.60" x2="901.60" y2="122.60" stroke="#000" stroke-width="0.9"/>
<line x1="903.60" y1="122.60" x2="908.70" y2="122.60" stroke="#000" stroke-width="0.9"/>
<text transform="translate(942.50,127.20) scale(0.873,1)" font-size="14" text-anchor="middle" fill="#1a1a1a" x="3.0 8.4 17.0 24.0">5.40</text>
<text transform="translate(839.70,147.03) scale(0.866,1)" font-size="14" text-anchor="middle" fill="#1a1a1a" x="3.0 10.0 17.0 24.0">2x02</text>
<text transform="translate(888.70,147.63) scale(0.881,1)" font-size="14" text-anchor="middle" fill="#1a1a1a" x="3.0 8.4 17.0 24.0">4.20</text>
<text transform="translate(942.50,146.53) scale(0.873,1)" font-size="14" text-anchor="middle" fill="#1a1a1a" x="3.0 8.4 17.0 24.0">9.80</text>
<text transform="translate(839.70,166.36) scale(0.866,1)" font-size="14" text-anchor="middle" fill="#1a1a1a" x="3.0 10.0 17.0 24.0">2x03</text>
<text transform="translate(888.70,166.96) scale(0.881,1)" font-size="14" text-anchor="middle" fill="#1a1a1a" x="3.0 8.4 17.0 24.0">8.40</text>
<text transform="translate(939.80,165.86) scale(0.858,1)" font-size="14" text-anchor="middle" fill="#1a1a1a" x="3.0 10.0 15.4 24.0 31.0">14.00</text>
<text transform="translate(839.70,185.69) scale(0.866,1)" font-size="14" text-anchor="middle" fill="#1a1a1a" x="3.0 10.0 17.0 24.0">2x04</text>
<text transform="translate(887.30,186.29) scale(0.864,1)" font-size="14" text-anchor="middle" fill="#1a1a1a" x="3.0 10.0 15.4 24.0 31.0">12.60</text>
<text transform="translate(939.80,185.19) scale(0.858,1)" font-size="14" text-anchor="middle" fill="#1a1a1a" x="3.0 10.0 15.4 24.0 31.0">18.20</text>
<text transform="translate(839.70,205.02) scale(0.866,1)" font-size="14" text-anchor="middle" fill="#1a1a1a" x="3.0 10.0 17.0 24.0">2x05</text>
<text transform="translate(887.30,205.62) scale(0.864,1)" font-size="14" text-anchor="middle" fill="#1a1a1a" x="3.0 10.0 15.4 24.0 31.0">16.80</text>
<text transform="translate(939.80,204.52) scale(0.858,1)" font-size="14" text-anchor="middle" fill="#1a1a1a" x="3.0 10.0 15.4 24.0 31.0">22.40</text>
<text transform="translate(839.70,224.35) scale(0.866,1)" font-size="14" text-anchor="middle" fill="#1a1a1a" x="3.0 10.0 17.0 24.0">2x06</text>
<text transform="translate(887.30,224.95) scale(0.864,1)" font-size="14" text-anchor="middle" fill="#1a1a1a" x="3.0 10.0 15.4 24.0 31.0">21.00</text>
<text transform="translate(939.80,223.85) scale(0.858,1)" font-size="14" text-anchor="middle" fill="#1a1a1a" x="3.0 10.0 15.4 24.0 31.0">26.60</text>
<text transform="translate(839.70,243.68) scale(0.866,1)" font-size="14" text-anchor="middle" fill="#1a1a1a" x="3.0 10.0 17.0 24.0">2x07</text>
<text transform="translate(887.30,244.28) scale(0.864,1)" font-size="14" text-anchor="middle" fill="#1a1a1a" x="3.0 10.0 15.4 24.0 31.0">25.20</text>
<text transform="translate(939.80,243.18) scale(0.858,1)" font-size="14" text-anchor="middle" fill="#1a1a1a" x="3.0 10.0 15.4 24.0 31.0">30.80</text>
<text transform="translate(839.70,263.01) scale(0.866,1)" font-size="14" text-anchor="middle" fill="#1a1a1a" x="3.0 10.0 17.0 24.0">2x08</text>
<text transform="translate(887.30,263.61) scale(0.864,1)" font-size="14" text-anchor="middle" fill="#1a1a1a" x="3.0 10.0 15.4 24.0 31.0">29.40</text>
<text transform="translate(939.80,262.51) scale(0.858,1)" font-size="14" text-anchor="middle" fill="#1a1a1a" x="3.0 10.0 15.4 24.0 31.0">35.00</text>
<text transform="translate(839.70,282.34) scale(0.866,1)" font-size="14" text-anchor="middle" fill="#1a1a1a" x="3.0 10.0 17.0 24.0">2x09</text>
<text transform="translate(887.30,282.94) scale(0.864,1)" font-size="14" text-anchor="middle" fill="#1a1a1a" x="3.0 10.0 15.4 24.0 31.0">33.60</text>
<text transform="translate(939.80,281.84) scale(0.858,1)" font-size="14" text-anchor="middle" fill="#1a1a1a" x="3.0 10.0 15.4 24.0 31.0">39.20</text>
<text transform="translate(839.70,301.67) scale(0.866,1)" font-size="14" text-anchor="middle" fill="#1a1a1a" x="3.0 10.0 17.0 24.0">2x10</text>
<text transform="translate(887.30,302.27) scale(0.864,1)" font-size="14" text-anchor="middle" fill="#1a1a1a" x="3.0 10.0 15.4 24.0 31.0">37.80</text>
<text transform="translate(939.80,301.17) scale(0.858,1)" font-size="14" text-anchor="middle" fill="#1a1a1a" x="3.0 10.0 15.4 24.0 31.0">43.40</text>
<text transform="translate(839.70,321.00) scale(0.866,1)" font-size="14" text-anchor="middle" fill="#1a1a1a" x="3.0 10.0 17.0 24.0">2x11</text>
<text transform="translate(887.30,321.60) scale(0.864,1)" font-size="14" text-anchor="middle" fill="#1a1a1a" x="3.0 10.0 15.4 24.0 31.0">42.00</text>
<text transform="translate(939.80,320.50) scale(0.858,1)" font-size="14" text-anchor="middle" fill="#1a1a1a" x="3.0 10.0 15.4 24.0 31.0">47.60</text>
<text transform="translate(839.70,340.33) scale(0.866,1)" font-size="14" text-anchor="middle" fill="#1a1a1a" x="3.0 10.0 17.0 24.0">2x12</text>
<text transform="translate(887.30,340.93) scale(0.864,1)" font-size="14" text-anchor="middle" fill="#1a1a1a" x="3.0 10.0 15.4 24.0 31.0">46.20</text>
<text transform="translate(939.80,339.83) scale(0.858,1)" font-size="14" text-anchor="middle" fill="#1a1a1a" x="3.0 10.0 15.4 24.0 31.0">51.80</text>
<text transform="translate(768.70,459.80) translate(22.06,0) scale(0.895,1)" font-size="10" text-anchor="middle" fill="#222" stroke="#333" stroke-width="0.18">P</text>
<text transform="translate(768.70,459.80) scale(0.996,1)" font-size="10" text-anchor="middle" fill="#222" stroke="#333" stroke-width="0.18" x="2.1 7.2 12.1 17.1">2x01</text>
<rect x="805.40" y="440.50" width="9.40" height="3.60" rx="0" stroke="#000" stroke-width="0.9" fill="none"/>
<rect x="802.30" y="444.10" width="15.70" height="26.90" rx="1.6" stroke="#000" stroke-width="1.2" fill="none"/>
<line x1="802.90" y1="445.00" x2="817.40" y2="445.00" stroke="#555" stroke-width="0.8"/>
<path d="M804.60,446.40 L815.20,446.40 L815.20,453.60 Q815.20,456.80 812.20,456.80 L807.60,456.80 Q804.60,456.80 804.60,453.60 Z" stroke="#000" stroke-width="1.0" fill="none" />
<path d="M805.70,447.50 L805.70,453.40 Q805.70,455.70 808.00,455.70 L811.80,455.70 Q814.10,455.70 814.10,453.40 L814.10,447.50" stroke="#c4c4c4" stroke-width="0.7" fill="none" />
<rect x="807.90" y="449.40" width="4.00" height="4.00" rx="0" stroke="none" stroke-width="0" fill="#151515"/>
<rect x="804.60" y="458.30" width="10.60" height="10.30" rx="0" stroke="#000" stroke-width="1.0" fill="none"/>
<rect x="805.70" y="459.40" width="8.40" height="8.10" rx="0" stroke="#c4c4c4" stroke-width="0.7" fill="none"/>
<rect x="807.90" y="461.25" width="4.00" height="4.00" rx="0" stroke="none" stroke-width="0" fill="#2e2e2e"/>
<path d="M818,463.1 L819.3,463.70000000000005 L819.3,465.1 L818,465.70000000000005" stroke="#000" stroke-width="0.8" fill="none" />
<path d="M809.20,471.00 L809.20,480.60 L808.50,480.90 L805.00,478.00 L805.00,476.40 L805.90,476.20 L805.90,471.00 Z" stroke="#000" stroke-width="0.5" fill="#0c0c0c" />
<path d="M810.80,471.00 L810.80,480.60 L811.50,480.90 L815.00,478.00 L815.00,476.40 L814.10,476.20 L814.10,471.00 Z" stroke="#000" stroke-width="0.5" fill="#0c0c0c" />
<text transform="translate(768.70,507.50) translate(22.06,0) scale(0.895,1)" font-size="10" text-anchor="middle" fill="#222" stroke="#333" stroke-width="0.18">P</text>
<text transform="translate(768.70,507.50) scale(0.996,1)" font-size="10" text-anchor="middle" fill="#222" stroke="#333" stroke-width="0.18" x="2.1 7.2 12.1 17.1">2x02</text>
<rect x="810.70" y="486.70" width="10.00" height="3.60" rx="0" stroke="#000" stroke-width="0.9" fill="none"/>
<rect x="802.30" y="490.30" width="27.20" height="27.30" rx="1.6" stroke="#000" stroke-width="1.2" fill="none"/>
<line x1="802.90" y1="491.20" x2="828.90" y2="491.20" stroke="#555" stroke-width="0.8"/>
<rect x="804.60" y="492.60" width="10.60" height="10.40" rx="0" stroke="#000" stroke-width="1.0" fill="none"/>
<rect x="805.70" y="493.70" width="8.40" height="8.20" rx="0" stroke="#c4c4c4" stroke-width="0.7" fill="none"/>
<rect x="807.90" y="495.60" width="4.00" height="4.00" rx="0" stroke="none" stroke-width="0" fill="#151515"/>
<path d="M804.60,504.50 L815.20,504.50 L815.20,511.60 Q815.20,514.80 812.20,514.80 L807.60,514.80 Q804.60,514.80 804.60,511.60 Z" stroke="#000" stroke-width="1.0" fill="none" />
<path d="M805.70,505.60 L805.70,511.40 Q805.70,513.70 808.00,513.70 L811.80,513.70 Q814.10,513.70 814.10,511.40 L814.10,505.60" stroke="#c4c4c4" stroke-width="0.7" fill="none" />
<rect x="807.90" y="507.45" width="4.00" height="4.00" rx="0" stroke="none" stroke-width="0" fill="#2e2e2e"/>
<path d="M816.05,492.60 L826.65,492.60 L826.65,499.80 Q826.65,503.00 823.65,503.00 L819.05,503.00 Q816.05,503.00 816.05,499.80 Z" stroke="#000" stroke-width="1.0" fill="none" />
<path d="M817.15,493.70 L817.15,499.60 Q817.15,501.90 819.45,501.90 L823.25,501.90 Q825.55,501.90 825.55,499.60 L825.55,493.70" stroke="#c4c4c4" stroke-width="0.7" fill="none" />
<rect x="819.35" y="495.60" width="4.00" height="4.00" rx="0" stroke="none" stroke-width="0" fill="#2e2e2e"/>
<rect x="816.05" y="504.50" width="10.60" height="10.30" rx="0" stroke="#000" stroke-width="1.0" fill="none"/>
<rect x="817.15" y="505.60" width="8.40" height="8.10" rx="0" stroke="#c4c4c4" stroke-width="0.7" fill="none"/>
<rect x="819.35" y="507.45" width="4.00" height="4.00" rx="0" stroke="none" stroke-width="0" fill="#151515"/>
<path d="M829.5,509.3 L830.8,509.90000000000003 L830.8,511.3 L829.5,511.90000000000003" stroke="#000" stroke-width="0.8" fill="none" />
<path d="M815.25,517.60 L815.25,527.20 L814.55,527.50 L811.70,524.60 L811.70,523.00 L812.60,522.80 L812.60,517.60 Z" stroke="#000" stroke-width="0.5" fill="#0c0c0c" />
<path d="M816.85,517.60 L816.85,527.20 L817.55,527.50 L820.40,524.60 L820.40,523.00 L819.50,522.80 L819.50,517.60 Z" stroke="#000" stroke-width="0.5" fill="#0c0c0c" />
<text transform="translate(768.70,554.30) translate(22.06,0) scale(0.895,1)" font-size="10" text-anchor="middle" fill="#222" stroke="#333" stroke-width="0.18">P</text>
<text transform="translate(768.70,554.30) scale(0.996,1)" font-size="10" text-anchor="middle" fill="#222" stroke="#333" stroke-width="0.18" x="2.1 7.2 12.1 17.1">2x03</text>
<rect x="816.60" y="533.50" width="9.80" height="3.60" rx="0" stroke="#000" stroke-width="0.9" fill="none"/>
<rect x="802.30" y="537.10" width="38.60" height="26.60" rx="1.6" stroke="#000" stroke-width="1.2" fill="none"/>
<line x1="802.90" y1="538.00" x2="840.30" y2="538.00" stroke="#555" stroke-width="0.8"/>
<rect x="804.60" y="539.40" width="10.60" height="10.40" rx="0" stroke="#000" stroke-width="1.0" fill="none"/>
<rect x="805.70" y="540.50" width="8.40" height="8.20" rx="0" stroke="#c4c4c4" stroke-width="0.7" fill="none"/>
<rect x="807.90" y="542.40" width="4.00" height="4.00" rx="0" stroke="none" stroke-width="0" fill="#151515"/>
<path d="M804.60,551.30 L815.20,551.30 L815.20,558.40 Q815.20,561.60 812.20,561.60 L807.60,561.60 Q804.60,561.60 804.60,558.40 Z" stroke="#000" stroke-width="1.0" fill="none" />
<path d="M805.70,552.40 L805.70,558.20 Q805.70,560.50 808.00,560.50 L811.80,560.50 Q814.10,560.50 814.10,558.20 L814.10,552.40" stroke="#c4c4c4" stroke-width="0.7" fill="none" />
<rect x="807.90" y="554.25" width="4.00" height="4.00" rx="0" stroke="none" stroke-width="0" fill="#2e2e2e"/>
<rect x="816.05" y="539.40" width="10.60" height="10.40" rx="0" stroke="#000" stroke-width="1.0" fill="none"/>
<rect x="817.15" y="540.50" width="8.40" height="8.20" rx="0" stroke="#c4c4c4" stroke-width="0.7" fill="none"/>
<rect x="819.35" y="542.40" width="4.00" height="4.00" rx="0" stroke="none" stroke-width="0" fill="#2e2e2e"/>
<path d="M816.05,551.30 L826.65,551.30 L826.65,558.40 Q826.65,561.60 823.65,561.60 L819.05,561.60 Q816.05,561.60 816.05,558.40 Z" stroke="#000" stroke-width="1.0" fill="none" />
<path d="M817.15,552.40 L817.15,558.20 Q817.15,560.50 819.45,560.50 L823.25,560.50 Q825.55,560.50 825.55,558.20 L825.55,552.40" stroke="#c4c4c4" stroke-width="0.7" fill="none" />
<rect x="819.35" y="554.25" width="4.00" height="4.00" rx="0" stroke="none" stroke-width="0" fill="#151515"/>
<path d="M827.50,539.40 L838.10,539.40 L838.10,546.60 Q838.10,549.80 835.10,549.80 L830.50,549.80 Q827.50,549.80 827.50,546.60 Z" stroke="#000" stroke-width="1.0" fill="none" />
<path d="M828.60,540.50 L828.60,546.40 Q828.60,548.70 830.90,548.70 L834.70,548.70 Q837.00,548.70 837.00,546.40 L837.00,540.50" stroke="#c4c4c4" stroke-width="0.7" fill="none" />
<rect x="830.80" y="542.40" width="4.00" height="4.00" rx="0" stroke="none" stroke-width="0" fill="#151515"/>
<rect x="827.50" y="551.30" width="10.60" height="10.30" rx="0" stroke="#000" stroke-width="1.0" fill="none"/>
<rect x="828.60" y="552.40" width="8.40" height="8.10" rx="0" stroke="#c4c4c4" stroke-width="0.7" fill="none"/>
<rect x="830.80" y="554.25" width="4.00" height="4.00" rx="0" stroke="none" stroke-width="0" fill="#2e2e2e"/>
<path d="M840.9,556.1 L842.1999999999999,556.7 L842.1999999999999,558.1 L840.9,558.7" stroke="#000" stroke-width="0.8" fill="none" />
<path d="M809.20,563.70 L809.20,573.30 L808.50,573.60 L805.00,570.70 L805.00,569.10 L805.90,568.90 L805.90,563.70 Z" stroke="#000" stroke-width="0.5" fill="#0c0c0c" />
<path d="M810.80,563.70 L810.80,573.30 L811.50,573.60 L815.00,570.70 L815.00,569.10 L814.10,568.90 L814.10,563.70 Z" stroke="#000" stroke-width="0.5" fill="#0c0c0c" />
<path d="M832.50,563.70 L832.50,573.30 L831.80,573.60 L828.50,570.70 L828.50,569.10 L829.40,568.90 L829.40,563.70 Z" stroke="#000" stroke-width="0.5" fill="#0c0c0c" />
<path d="M834.10,563.70 L834.10,573.30 L834.80,573.60 L838.10,570.70 L838.10,569.10 L837.20,568.90 L837.20,563.70 Z" stroke="#000" stroke-width="0.5" fill="#0c0c0c" />
<text transform="translate(768.70,604.90) translate(22.06,0) scale(0.895,1)" font-size="10" text-anchor="middle" fill="#222" stroke="#333" stroke-width="0.18">P</text>
<text transform="translate(768.70,604.90) scale(0.996,1)" font-size="10" text-anchor="middle" fill="#222" stroke="#333" stroke-width="0.18" x="2.1 7.2 12.1 17.1">2x04</text>
<rect x="822.40" y="583.80" width="10.10" height="3.60" rx="0" stroke="#000" stroke-width="0.9" fill="none"/>
<rect x="802.30" y="587.40" width="50.30" height="26.90" rx="1.6" stroke="#000" stroke-width="1.2" fill="none"/>
<line x1="802.90" y1="588.30" x2="852.00" y2="588.30" stroke="#555" stroke-width="0.8"/>
<path d="M804.60,589.70 L815.20,589.70 L815.20,596.90 Q815.20,600.10 812.20,600.10 L807.60,600.10 Q804.60,600.10 804.60,596.90 Z" stroke="#000" stroke-width="1.0" fill="none" />
<path d="M805.70,590.80 L805.70,596.70 Q805.70,599.00 808.00,599.00 L811.80,599.00 Q814.10,599.00 814.10,596.70 L814.10,590.80" stroke="#c4c4c4" stroke-width="0.7" fill="none" />
<rect x="807.90" y="592.70" width="4.00" height="4.00" rx="0" stroke="none" stroke-width="0" fill="#151515"/>
<rect x="804.60" y="601.60" width="10.60" height="10.30" rx="0" stroke="#000" stroke-width="1.0" fill="none"/>
<rect x="805.70" y="602.70" width="8.40" height="8.10" rx="0" stroke="#c4c4c4" stroke-width="0.7" fill="none"/>
<rect x="807.90" y="604.55" width="4.00" height="4.00" rx="0" stroke="none" stroke-width="0" fill="#2e2e2e"/>
<rect x="816.05" y="589.70" width="10.60" height="10.40" rx="0" stroke="#000" stroke-width="1.0" fill="none"/>
<rect x="817.15" y="590.80" width="8.40" height="8.20" rx="0" stroke="#c4c4c4" stroke-width="0.7" fill="none"/>
<rect x="819.35" y="592.70" width="4.00" height="4.00" rx="0" stroke="none" stroke-width="0" fill="#2e2e2e"/>
<path d="M816.05,601.60 L826.65,601.60 L826.65,608.70 Q826.65,611.90 823.65,611.90 L819.05,611.90 Q816.05,611.90 816.05,608.70 Z" stroke="#000" stroke-width="1.0" fill="none" />
<path d="M817.15,602.70 L817.15,608.50 Q817.15,610.80 819.45,610.80 L823.25,610.80 Q825.55,610.80 825.55,608.50 L825.55,602.70" stroke="#c4c4c4" stroke-width="0.7" fill="none" />
<rect x="819.35" y="604.55" width="4.00" height="4.00" rx="0" stroke="none" stroke-width="0" fill="#151515"/>
<rect x="827.50" y="589.70" width="10.60" height="10.40" rx="0" stroke="#000" stroke-width="1.0" fill="none"/>
<rect x="828.60" y="590.80" width="8.40" height="8.20" rx="0" stroke="#c4c4c4" stroke-width="0.7" fill="none"/>
<rect x="830.80" y="592.70" width="4.00" height="4.00" rx="0" stroke="none" stroke-width="0" fill="#151515"/>
<path d="M827.50,601.60 L838.10,601.60 L838.10,608.70 Q838.10,611.90 835.10,611.90 L830.50,611.90 Q827.50,611.90 827.50,608.70 Z" stroke="#000" stroke-width="1.0" fill="none" />
<path d="M828.60,602.70 L828.60,608.50 Q828.60,610.80 830.90,610.80 L834.70,610.80 Q837.00,610.80 837.00,608.50 L837.00,602.70" stroke="#c4c4c4" stroke-width="0.7" fill="none" />
<rect x="830.80" y="604.55" width="4.00" height="4.00" rx="0" stroke="none" stroke-width="0" fill="#2e2e2e"/>
<path d="M838.95,589.70 L849.55,589.70 L849.55,596.90 Q849.55,600.10 846.55,600.10 L841.95,600.10 Q838.95,600.10 838.95,596.90 Z" stroke="#000" stroke-width="1.0" fill="none" />
<path d="M840.05,590.80 L840.05,596.70 Q840.05,599.00 842.35,599.00 L846.15,599.00 Q848.45,599.00 848.45,596.70 L848.45,590.80" stroke="#c4c4c4" stroke-width="0.7" fill="none" />
<rect x="842.25" y="592.70" width="4.00" height="4.00" rx="0" stroke="none" stroke-width="0" fill="#2e2e2e"/>
<rect x="838.95" y="601.60" width="10.60" height="10.30" rx="0" stroke="#000" stroke-width="1.0" fill="none"/>
<rect x="840.05" y="602.70" width="8.40" height="8.10" rx="0" stroke="#c4c4c4" stroke-width="0.7" fill="none"/>
<rect x="842.25" y="604.55" width="4.00" height="4.00" rx="0" stroke="none" stroke-width="0" fill="#151515"/>
<path d="M852.6,606.4 L853.9,607.0 L853.9,608.4 L852.6,609.0" stroke="#000" stroke-width="0.8" fill="none" />
<path d="M809.20,614.30 L809.20,623.90 L808.50,624.20 L805.00,621.30 L805.00,619.70 L805.90,619.50 L805.90,614.30 Z" stroke="#000" stroke-width="0.5" fill="#0c0c0c" />
<path d="M810.80,614.30 L810.80,623.90 L811.50,624.20 L815.00,621.30 L815.00,619.70 L814.10,619.50 L814.10,614.30 Z" stroke="#000" stroke-width="0.5" fill="#0c0c0c" />
<path d="M843.80,614.30 L843.80,623.90 L843.10,624.20 L839.90,621.30 L839.90,619.70 L840.80,619.50 L840.80,614.30 Z" stroke="#000" stroke-width="0.5" fill="#0c0c0c" />
<path d="M845.40,614.30 L845.40,623.90 L846.10,624.20 L849.30,621.30 L849.30,619.70 L848.40,619.50 L848.40,614.30 Z" stroke="#000" stroke-width="0.5" fill="#0c0c0c" />
<text transform="translate(768.70,653.60) translate(22.06,0) scale(0.895,1)" font-size="10" text-anchor="middle" fill="#222" stroke="#333" stroke-width="0.18">P</text>
<text transform="translate(768.70,653.60) scale(0.996,1)" font-size="10" text-anchor="middle" fill="#222" stroke="#333" stroke-width="0.18" x="2.1 7.2 12.1 17.1">2x05</text>
<rect x="828.20" y="632.80" width="9.70" height="3.60" rx="0" stroke="#000" stroke-width="0.9" fill="none"/>
<rect x="802.30" y="636.40" width="61.30" height="26.80" rx="1.6" stroke="#000" stroke-width="1.2" fill="none"/>
<line x1="802.90" y1="637.30" x2="863.00" y2="637.30" stroke="#555" stroke-width="0.8"/>
<path d="M804.60,638.70 L815.20,638.70 L815.20,645.90 Q815.20,649.10 812.20,649.10 L807.60,649.10 Q804.60,649.10 804.60,645.90 Z" stroke="#000" stroke-width="1.0" fill="none" />
<path d="M805.70,639.80 L805.70,645.70 Q805.70,648.00 808.00,648.00 L811.80,648.00 Q814.10,648.00 814.10,645.70 L814.10,639.80" stroke="#c4c4c4" stroke-width="0.7" fill="none" />
<rect x="807.90" y="641.70" width="4.00" height="4.00" rx="0" stroke="none" stroke-width="0" fill="#151515"/>
<rect x="804.60" y="650.60" width="10.60" height="10.30" rx="0" stroke="#000" stroke-width="1.0" fill="none"/>
<rect x="805.70" y="651.70" width="8.40" height="8.10" rx="0" stroke="#c4c4c4" stroke-width="0.7" fill="none"/>
<rect x="807.90" y="653.55" width="4.00" height="4.00" rx="0" stroke="none" stroke-width="0" fill="#2e2e2e"/>
<path d="M816.05,638.70 L826.65,638.70 L826.65,645.90 Q826.65,649.10 823.65,649.10 L819.05,649.10 Q816.05,649.10 816.05,645.90 Z" stroke="#000" stroke-width="1.0" fill="none" />
<path d="M817.15,639.80 L817.15,645.70 Q817.15,648.00 819.45,648.00 L823.25,648.00 Q825.55,648.00 825.55,645.70 L825.55,639.80" stroke="#c4c4c4" stroke-width="0.7" fill="none" />
<rect x="819.35" y="641.70" width="4.00" height="4.00" rx="0" stroke="none" stroke-width="0" fill="#2e2e2e"/>
<rect x="816.05" y="650.60" width="10.60" height="10.30" rx="0" stroke="#000" stroke-width="1.0" fill="none"/>
<rect x="817.15" y="651.70" width="8.40" height="8.10" rx="0" stroke="#c4c4c4" stroke-width="0.7" fill="none"/>
<rect x="819.35" y="653.55" width="4.00" height="4.00" rx="0" stroke="none" stroke-width="0" fill="#151515"/>
<rect x="827.50" y="638.70" width="10.60" height="10.40" rx="0" stroke="#000" stroke-width="1.0" fill="none"/>
<rect x="828.60" y="639.80" width="8.40" height="8.20" rx="0" stroke="#c4c4c4" stroke-width="0.7" fill="none"/>
<rect x="830.80" y="641.70" width="4.00" height="4.00" rx="0" stroke="none" stroke-width="0" fill="#151515"/>
<path d="M827.50,650.60 L838.10,650.60 L838.10,657.70 Q838.10,660.90 835.10,660.90 L830.50,660.90 Q827.50,660.90 827.50,657.70 Z" stroke="#000" stroke-width="1.0" fill="none" />
<path d="M828.60,651.70 L828.60,657.50 Q828.60,659.80 830.90,659.80 L834.70,659.80 Q837.00,659.80 837.00,657.50 L837.00,651.70" stroke="#c4c4c4" stroke-width="0.7" fill="none" />
<rect x="830.80" y="653.55" width="4.00" height="4.00" rx="0" stroke="none" stroke-width="0" fill="#2e2e2e"/>
<rect x="838.95" y="638.70" width="10.60" height="10.40" rx="0" stroke="#000" stroke-width="1.0" fill="none"/>
<rect x="840.05" y="639.80" width="8.40" height="8.20" rx="0" stroke="#c4c4c4" stroke-width="0.7" fill="none"/>
<rect x="842.25" y="641.70" width="4.00" height="4.00" rx="0" stroke="none" stroke-width="0" fill="#2e2e2e"/>
<path d="M838.95,650.60 L849.55,650.60 L849.55,657.70 Q849.55,660.90 846.55,660.90 L841.95,660.90 Q838.95,660.90 838.95,657.70 Z" stroke="#000" stroke-width="1.0" fill="none" />
<path d="M840.05,651.70 L840.05,657.50 Q840.05,659.80 842.35,659.80 L846.15,659.80 Q848.45,659.80 848.45,657.50 L848.45,651.70" stroke="#c4c4c4" stroke-width="0.7" fill="none" />
<rect x="842.25" y="653.55" width="4.00" height="4.00" rx="0" stroke="none" stroke-width="0" fill="#151515"/>
<path d="M850.40,638.70 L861.00,638.70 L861.00,645.90 Q861.00,649.10 858.00,649.10 L853.40,649.10 Q850.40,649.10 850.40,645.90 Z" stroke="#000" stroke-width="1.0" fill="none" />
<path d="M851.50,639.80 L851.50,645.70 Q851.50,648.00 853.80,648.00 L857.60,648.00 Q859.90,648.00 859.90,645.70 L859.90,639.80" stroke="#c4c4c4" stroke-width="0.7" fill="none" />
<rect x="853.70" y="641.70" width="4.00" height="4.00" rx="0" stroke="none" stroke-width="0" fill="#151515"/>
<rect x="850.40" y="650.60" width="10.60" height="10.30" rx="0" stroke="#000" stroke-width="1.0" fill="none"/>
<rect x="851.50" y="651.70" width="8.40" height="8.10" rx="0" stroke="#c4c4c4" stroke-width="0.7" fill="none"/>
<rect x="853.70" y="653.55" width="4.00" height="4.00" rx="0" stroke="none" stroke-width="0" fill="#2e2e2e"/>
<path d="M863.6,655.4 L864.9,656.0 L864.9,657.4 L863.6,658.0" stroke="#000" stroke-width="0.8" fill="none" />
<path d="M809.20,663.20 L809.20,672.80 L808.50,673.10 L805.00,670.20 L805.00,668.60 L805.90,668.40 L805.90,663.20 Z" stroke="#000" stroke-width="0.5" fill="#0c0c0c" />
<path d="M810.80,663.20 L810.80,672.80 L811.50,673.10 L815.00,670.20 L815.00,668.60 L814.10,668.40 L814.10,663.20 Z" stroke="#000" stroke-width="0.5" fill="#0c0c0c" />
<path d="M855.20,663.20 L855.20,672.80 L854.50,673.10 L851.30,670.20 L851.30,668.60 L852.20,668.40 L852.20,663.20 Z" stroke="#000" stroke-width="0.5" fill="#0c0c0c" />
<path d="M856.80,663.20 L856.80,672.80 L857.50,673.10 L860.70,670.20 L860.70,668.60 L859.80,668.40 L859.80,663.20 Z" stroke="#000" stroke-width="0.5" fill="#0c0c0c" />
<text transform="translate(768.70,698.50) translate(22.06,0) scale(0.895,1)" font-size="10" text-anchor="middle" fill="#222" stroke="#333" stroke-width="0.18">P</text>
<text transform="translate(768.70,698.50) scale(0.996,1)" font-size="10" text-anchor="middle" fill="#222" stroke="#333" stroke-width="0.18" x="2.1 7.2 12.1 17.1">2x06</text>
<rect x="833.60" y="678.10" width="10.30" height="3.60" rx="0" stroke="#000" stroke-width="0.9" fill="none"/>
<rect x="802.30" y="681.70" width="72.90" height="26.90" rx="1.6" stroke="#000" stroke-width="1.2" fill="none"/>
<line x1="802.90" y1="682.60" x2="874.60" y2="682.60" stroke="#555" stroke-width="0.8"/>
<rect x="804.60" y="684.00" width="10.60" height="10.40" rx="0" stroke="#000" stroke-width="1.0" fill="none"/>
<rect x="805.70" y="685.10" width="8.40" height="8.20" rx="0" stroke="#c4c4c4" stroke-width="0.7" fill="none"/>
<rect x="807.90" y="687.00" width="4.00" height="4.00" rx="0" stroke="none" stroke-width="0" fill="#151515"/>
<path d="M804.60,695.90 L815.20,695.90 L815.20,703.00 Q815.20,706.20 812.20,706.20 L807.60,706.20 Q804.60,706.20 804.60,703.00 Z" stroke="#000" stroke-width="1.0" fill="none" />
<path d="M805.70,697.00 L805.70,702.80 Q805.70,705.10 808.00,705.10 L811.80,705.10 Q814.10,705.10 814.10,702.80 L814.10,697.00" stroke="#c4c4c4" stroke-width="0.7" fill="none" />
<rect x="807.90" y="698.85" width="4.00" height="4.00" rx="0" stroke="none" stroke-width="0" fill="#2e2e2e"/>
<path d="M816.05,684.00 L826.65,684.00 L826.65,691.20 Q826.65,694.40 823.65,694.40 L819.05,694.40 Q816.05,694.40 816.05,691.20 Z" stroke="#000" stroke-width="1.0" fill="none" />
<path d="M817.15,685.10 L817.15,691.00 Q817.15,693.30 819.45,693.30 L823.25,693.30 Q825.55,693.30 825.55,691.00 L825.55,685.10" stroke="#c4c4c4" stroke-width="0.7" fill="none" />
<rect x="819.35" y="687.00" width="4.00" height="4.00" rx="0" stroke="none" stroke-width="0" fill="#2e2e2e"/>
<rect x="816.05" y="695.90" width="10.60" height="10.30" rx="0" stroke="#000" stroke-width="1.0" fill="none"/>
<rect x="817.15" y="697.00" width="8.40" height="8.10" rx="0" stroke="#c4c4c4" stroke-width="0.7" fill="none"/>
<rect x="819.35" y="698.85" width="4.00" height="4.00" rx="0" stroke="none" stroke-width="0" fill="#151515"/>
<path d="M827.50,684.00 L838.10,684.00 L838.10,691.20 Q838.10,694.40 835.10,694.40 L830.50,694.40 Q827.50,694.40 827.50,691.20 Z" stroke="#000" stroke-width="1.0" fill="none" />
<path d="M828.60,685.10 L828.60,691.00 Q828.60,693.30 830.90,693.30 L834.70,693.30 Q837.00,693.30 837.00,691.00 L837.00,685.10" stroke="#c4c4c4" stroke-width="0.7" fill="none" />
<rect x="830.80" y="687.00" width="4.00" height="4.00" rx="0" stroke="none" stroke-width="0" fill="#151515"/>
<rect x="827.50" y="695.90" width="10.60" height="10.30" rx="0" stroke="#000" stroke-width="1.0" fill="none"/>
<rect x="828.60" y="697.00" width="8.40" height="8.10" rx="0" stroke="#c4c4c4" stroke-width="0.7" fill="none"/>
<rect x="830.80" y="698.85" width="4.00" height="4.00" rx="0" stroke="none" stroke-width="0" fill="#2e2e2e"/>
<rect x="838.95" y="684.00" width="10.60" height="10.40" rx="0" stroke="#000" stroke-width="1.0" fill="none"/>
<rect x="840.05" y="685.10" width="8.40" height="8.20" rx="0" stroke="#c4c4c4" stroke-width="0.7" fill="none"/>
<rect x="842.25" y="687.00" width="4.00" height="4.00" rx="0" stroke="none" stroke-width="0" fill="#2e2e2e"/>
<path d="M838.95,695.90 L849.55,695.90 L849.55,703.00 Q849.55,706.20 846.55,706.20 L841.95,706.20 Q838.95,706.20 838.95,703.00 Z" stroke="#000" stroke-width="1.0" fill="none" />
<path d="M840.05,697.00 L840.05,702.80 Q840.05,705.10 842.35,705.10 L846.15,705.10 Q848.45,705.10 848.45,702.80 L848.45,697.00" stroke="#c4c4c4" stroke-width="0.7" fill="none" />
<rect x="842.25" y="698.85" width="4.00" height="4.00" rx="0" stroke="none" stroke-width="0" fill="#151515"/>
<rect x="850.40" y="684.00" width="10.60" height="10.40" rx="0" stroke="#000" stroke-width="1.0" fill="none"/>
<rect x="851.50" y="685.10" width="8.40" height="8.20" rx="0" stroke="#c4c4c4" stroke-width="0.7" fill="none"/>
<rect x="853.70" y="687.00" width="4.00" height="4.00" rx="0" stroke="none" stroke-width="0" fill="#151515"/>
<path d="M850.40,695.90 L861.00,695.90 L861.00,703.00 Q861.00,706.20 858.00,706.20 L853.40,706.20 Q850.40,706.20 850.40,703.00 Z" stroke="#000" stroke-width="1.0" fill="none" />
<path d="M851.50,697.00 L851.50,702.80 Q851.50,705.10 853.80,705.10 L857.60,705.10 Q859.90,705.10 859.90,702.80 L859.90,697.00" stroke="#c4c4c4" stroke-width="0.7" fill="none" />
<rect x="853.70" y="698.85" width="4.00" height="4.00" rx="0" stroke="none" stroke-width="0" fill="#2e2e2e"/>
<path d="M861.85,684.00 L872.45,684.00 L872.45,691.20 Q872.45,694.40 869.45,694.40 L864.85,694.40 Q861.85,694.40 861.85,691.20 Z" stroke="#000" stroke-width="1.0" fill="none" />
<path d="M862.95,685.10 L862.95,691.00 Q862.95,693.30 865.25,693.30 L869.05,693.30 Q871.35,693.30 871.35,691.00 L871.35,685.10" stroke="#c4c4c4" stroke-width="0.7" fill="none" />
<rect x="865.15" y="687.00" width="4.00" height="4.00" rx="0" stroke="none" stroke-width="0" fill="#2e2e2e"/>
<rect x="861.85" y="695.90" width="10.60" height="10.30" rx="0" stroke="#000" stroke-width="1.0" fill="none"/>
<rect x="862.95" y="697.00" width="8.40" height="8.10" rx="0" stroke="#c4c4c4" stroke-width="0.7" fill="none"/>
<rect x="865.15" y="698.85" width="4.00" height="4.00" rx="0" stroke="none" stroke-width="0" fill="#151515"/>
<path d="M875.2,700.7 L876.5,701.3000000000001 L876.5,702.7 L875.2,703.3000000000001" stroke="#000" stroke-width="0.8" fill="none" />
<path d="M809.20,708.60 L809.20,718.20 L808.50,718.50 L805.00,715.60 L805.00,714.00 L805.90,713.80 L805.90,708.60 Z" stroke="#000" stroke-width="0.5" fill="#0c0c0c" />
<path d="M810.80,708.60 L810.80,718.20 L811.50,718.50 L815.00,715.60 L815.00,714.00 L814.10,713.80 L814.10,708.60 Z" stroke="#000" stroke-width="0.5" fill="#0c0c0c" />
<path d="M866.80,708.60 L866.80,718.20 L866.10,718.50 L863.10,715.60 L863.10,714.00 L864.00,713.80 L864.00,708.60 Z" stroke="#000" stroke-width="0.5" fill="#0c0c0c" />
<path d="M868.40,708.60 L868.40,718.20 L869.10,718.50 L872.10,715.60 L872.10,714.00 L871.20,713.80 L871.20,708.60 Z" stroke="#000" stroke-width="0.5" fill="#0c0c0c" />
<text transform="translate(989.10,459.80) translate(22.06,0) scale(0.895,1)" font-size="10" text-anchor="middle" fill="#222" stroke="#333" stroke-width="0.18">P</text>
<text transform="translate(989.10,459.80) scale(0.996,1)" font-size="10" text-anchor="middle" fill="#222" stroke="#333" stroke-width="0.18" x="2.1 7.2 12.1 17.1">2x12</text>
<rect x="904.10" y="440.50" width="9.80" height="3.60" rx="0" stroke="#000" stroke-width="0.9" fill="none"/>
<rect x="838.30" y="444.10" width="141.40" height="26.70" rx="1.6" stroke="#000" stroke-width="1.2" fill="none"/>
<line x1="838.90" y1="445.00" x2="979.10" y2="445.00" stroke="#555" stroke-width="0.8"/>
<path d="M840.90,446.40 L851.50,446.40 L851.50,453.60 Q851.50,456.80 848.50,456.80 L843.90,456.80 Q840.90,456.80 840.90,453.60 Z" stroke="#000" stroke-width="1.0" fill="none" />
<path d="M842.00,447.50 L842.00,453.40 Q842.00,455.70 844.30,455.70 L848.10,455.70 Q850.40,455.70 850.40,453.40 L850.40,447.50" stroke="#c4c4c4" stroke-width="0.7" fill="none" />
<rect x="844.20" y="449.40" width="4.00" height="4.00" rx="0" stroke="none" stroke-width="0" fill="#151515"/>
<rect x="840.90" y="458.30" width="10.60" height="10.30" rx="0" stroke="#000" stroke-width="1.0" fill="none"/>
<rect x="842.00" y="459.40" width="8.40" height="8.10" rx="0" stroke="#c4c4c4" stroke-width="0.7" fill="none"/>
<rect x="844.20" y="461.25" width="4.00" height="4.00" rx="0" stroke="none" stroke-width="0" fill="#2e2e2e"/>
<rect x="852.35" y="446.40" width="10.60" height="10.40" rx="0" stroke="#000" stroke-width="1.0" fill="none"/>
<rect x="853.45" y="447.50" width="8.40" height="8.20" rx="0" stroke="#c4c4c4" stroke-width="0.7" fill="none"/>
<rect x="855.65" y="449.40" width="4.00" height="4.00" rx="0" stroke="none" stroke-width="0" fill="#2e2e2e"/>
<path d="M852.35,458.30 L862.95,458.30 L862.95,465.40 Q862.95,468.60 859.95,468.60 L855.35,468.60 Q852.35,468.60 852.35,465.40 Z" stroke="#000" stroke-width="1.0" fill="none" />
<path d="M853.45,459.40 L853.45,465.20 Q853.45,467.50 855.75,467.50 L859.55,467.50 Q861.85,467.50 861.85,465.20 L861.85,459.40" stroke="#c4c4c4" stroke-width="0.7" fill="none" />
<rect x="855.65" y="461.25" width="4.00" height="4.00" rx="0" stroke="none" stroke-width="0" fill="#151515"/>
<rect x="863.80" y="446.40" width="10.60" height="10.40" rx="0" stroke="#000" stroke-width="1.0" fill="none"/>
<rect x="864.90" y="447.50" width="8.40" height="8.20" rx="0" stroke="#c4c4c4" stroke-width="0.7" fill="none"/>
<rect x="867.10" y="449.40" width="4.00" height="4.00" rx="0" stroke="none" stroke-width="0" fill="#151515"/>
<path d="M863.80,458.30 L874.40,458.30 L874.40,465.40 Q874.40,468.60 871.40,468.60 L866.80,468.60 Q863.80,468.60 863.80,465.40 Z" stroke="#000" stroke-width="1.0" fill="none" />
<path d="M864.90,459.40 L864.90,465.20 Q864.90,467.50 867.20,467.50 L871.00,467.50 Q873.30,467.50 873.30,465.20 L873.30,459.40" stroke="#c4c4c4" stroke-width="0.7" fill="none" />
<rect x="867.10" y="461.25" width="4.00" height="4.00" rx="0" stroke="none" stroke-width="0" fill="#2e2e2e"/>
<path d="M875.25,446.40 L885.85,446.40 L885.85,453.60 Q885.85,456.80 882.85,456.80 L878.25,456.80 Q875.25,456.80 875.25,453.60 Z" stroke="#000" stroke-width="1.0" fill="none" />
<path d="M876.35,447.50 L876.35,453.40 Q876.35,455.70 878.65,455.70 L882.45,455.70 Q884.75,455.70 884.75,453.40 L884.75,447.50" stroke="#c4c4c4" stroke-width="0.7" fill="none" />
<rect x="878.55" y="449.40" width="4.00" height="4.00" rx="0" stroke="none" stroke-width="0" fill="#2e2e2e"/>
<rect x="875.25" y="458.30" width="10.60" height="10.30" rx="0" stroke="#000" stroke-width="1.0" fill="none"/>
<rect x="876.35" y="459.40" width="8.40" height="8.10" rx="0" stroke="#c4c4c4" stroke-width="0.7" fill="none"/>
<rect x="878.55" y="461.25" width="4.00" height="4.00" rx="0" stroke="none" stroke-width="0" fill="#151515"/>
<path d="M886.70,446.40 L897.30,446.40 L897.30,453.60 Q897.30,456.80 894.30,456.80 L889.70,456.80 Q886.70,456.80 886.70,453.60 Z" stroke="#000" stroke-width="1.0" fill="none" />
<path d="M887.80,447.50 L887.80,453.40 Q887.80,455.70 890.10,455.70 L893.90,455.70 Q896.20,455.70 896.20,453.40 L896.20,447.50" stroke="#c4c4c4" stroke-width="0.7" fill="none" />
<rect x="890.00" y="449.40" width="4.00" height="4.00" rx="0" stroke="none" stroke-width="0" fill="#151515"/>
<rect x="886.70" y="458.30" width="10.60" height="10.30" rx="0" stroke="#000" stroke-width="1.0" fill="none"/>
<rect x="887.80" y="459.40" width="8.40" height="8.10" rx="0" stroke="#c4c4c4" stroke-width="0.7" fill="none"/>
<rect x="890.00" y="461.25" width="4.00" height="4.00" rx="0" stroke="none" stroke-width="0" fill="#2e2e2e"/>
<rect x="898.15" y="446.40" width="10.60" height="10.40" rx="0" stroke="#000" stroke-width="1.0" fill="none"/>
<rect x="899.25" y="447.50" width="8.40" height="8.20" rx="0" stroke="#c4c4c4" stroke-width="0.7" fill="none"/>
<rect x="901.45" y="449.40" width="4.00" height="4.00" rx="0" stroke="none" stroke-width="0" fill="#2e2e2e"/>
<path d="M898.15,458.30 L908.75,458.30 L908.75,465.40 Q908.75,468.60 905.75,468.60 L901.15,468.60 Q898.15,468.60 898.15,465.40 Z" stroke="#000" stroke-width="1.0" fill="none" />
<path d="M899.25,459.40 L899.25,465.20 Q899.25,467.50 901.55,467.50 L905.35,467.50 Q907.65,467.50 907.65,465.20 L907.65,459.40" stroke="#c4c4c4" stroke-width="0.7" fill="none" />
<rect x="901.45" y="461.25" width="4.00" height="4.00" rx="0" stroke="none" stroke-width="0" fill="#151515"/>
<rect x="909.60" y="446.40" width="10.60" height="10.40" rx="0" stroke="#000" stroke-width="1.0" fill="none"/>
<rect x="910.70" y="447.50" width="8.40" height="8.20" rx="0" stroke="#c4c4c4" stroke-width="0.7" fill="none"/>
<rect x="912.90" y="449.40" width="4.00" height="4.00" rx="0" stroke="none" stroke-width="0" fill="#151515"/>
<path d="M909.60,458.30 L920.20,458.30 L920.20,465.40 Q920.20,468.60 917.20,468.60 L912.60,468.60 Q909.60,468.60 909.60,465.40 Z" stroke="#000" stroke-width="1.0" fill="none" />
<path d="M910.70,459.40 L910.70,465.20 Q910.70,467.50 913.00,467.50 L916.80,467.50 Q919.10,467.50 919.10,465.20 L919.10,459.40" stroke="#c4c4c4" stroke-width="0.7" fill="none" />
<rect x="912.90" y="461.25" width="4.00" height="4.00" rx="0" stroke="none" stroke-width="0" fill="#2e2e2e"/>
<path d="M921.05,446.40 L931.65,446.40 L931.65,453.60 Q931.65,456.80 928.65,456.80 L924.05,456.80 Q921.05,456.80 921.05,453.60 Z" stroke="#000" stroke-width="1.0" fill="none" />
<path d="M922.15,447.50 L922.15,453.40 Q922.15,455.70 924.45,455.70 L928.25,455.70 Q930.55,455.70 930.55,453.40 L930.55,447.50" stroke="#c4c4c4" stroke-width="0.7" fill="none" />
<rect x="924.35" y="449.40" width="4.00" height="4.00" rx="0" stroke="none" stroke-width="0" fill="#2e2e2e"/>
<rect x="921.05" y="458.30" width="10.60" height="10.30" rx="0" stroke="#000" stroke-width="1.0" fill="none"/>
<rect x="922.15" y="459.40" width="8.40" height="8.10" rx="0" stroke="#c4c4c4" stroke-width="0.7" fill="none"/>
<rect x="924.35" y="461.25" width="4.00" height="4.00" rx="0" stroke="none" stroke-width="0" fill="#151515"/>
<path d="M932.50,446.40 L943.10,446.40 L943.10,453.60 Q943.10,456.80 940.10,456.80 L935.50,456.80 Q932.50,456.80 932.50,453.60 Z" stroke="#000" stroke-width="1.0" fill="none" />
<path d="M933.60,447.50 L933.60,453.40 Q933.60,455.70 935.90,455.70 L939.70,455.70 Q942.00,455.70 942.00,453.40 L942.00,447.50" stroke="#c4c4c4" stroke-width="0.7" fill="none" />
<rect x="935.80" y="449.40" width="4.00" height="4.00" rx="0" stroke="none" stroke-width="0" fill="#151515"/>
<rect x="932.50" y="458.30" width="10.60" height="10.30" rx="0" stroke="#000" stroke-width="1.0" fill="none"/>
<rect x="933.60" y="459.40" width="8.40" height="8.10" rx="0" stroke="#c4c4c4" stroke-width="0.7" fill="none"/>
<rect x="935.80" y="461.25" width="4.00" height="4.00" rx="0" stroke="none" stroke-width="0" fill="#2e2e2e"/>
<rect x="943.95" y="446.40" width="10.60" height="10.40" rx="0" stroke="#000" stroke-width="1.0" fill="none"/>
<rect x="945.05" y="447.50" width="8.40" height="8.20" rx="0" stroke="#c4c4c4" stroke-width="0.7" fill="none"/>
<rect x="947.25" y="449.40" width="4.00" height="4.00" rx="0" stroke="none" stroke-width="0" fill="#2e2e2e"/>
<path d="M943.95,458.30 L954.55,458.30 L954.55,465.40 Q954.55,468.60 951.55,468.60 L946.95,468.60 Q943.95,468.60 943.95,465.40 Z" stroke="#000" stroke-width="1.0" fill="none" />
<path d="M945.05,459.40 L945.05,465.20 Q945.05,467.50 947.35,467.50 L951.15,467.50 Q953.45,467.50 953.45,465.20 L953.45,459.40" stroke="#c4c4c4" stroke-width="0.7" fill="none" />
<rect x="947.25" y="461.25" width="4.00" height="4.00" rx="0" stroke="none" stroke-width="0" fill="#151515"/>
<rect x="955.40" y="446.40" width="10.60" height="10.40" rx="0" stroke="#000" stroke-width="1.0" fill="none"/>
<rect x="956.50" y="447.50" width="8.40" height="8.20" rx="0" stroke="#c4c4c4" stroke-width="0.7" fill="none"/>
<rect x="958.70" y="449.40" width="4.00" height="4.00" rx="0" stroke="none" stroke-width="0" fill="#151515"/>
<path d="M955.40,458.30 L966.00,458.30 L966.00,465.40 Q966.00,468.60 963.00,468.60 L958.40,468.60 Q955.40,468.60 955.40,465.40 Z" stroke="#000" stroke-width="1.0" fill="none" />
<path d="M956.50,459.40 L956.50,465.20 Q956.50,467.50 958.80,467.50 L962.60,467.50 Q964.90,467.50 964.90,465.20 L964.90,459.40" stroke="#c4c4c4" stroke-width="0.7" fill="none" />
<rect x="958.70" y="461.25" width="4.00" height="4.00" rx="0" stroke="none" stroke-width="0" fill="#2e2e2e"/>
<path d="M966.85,446.40 L977.45,446.40 L977.45,453.60 Q977.45,456.80 974.45,456.80 L969.85,456.80 Q966.85,456.80 966.85,453.60 Z" stroke="#000" stroke-width="1.0" fill="none" />
<path d="M967.95,447.50 L967.95,453.40 Q967.95,455.70 970.25,455.70 L974.05,455.70 Q976.35,455.70 976.35,453.40 L976.35,447.50" stroke="#c4c4c4" stroke-width="0.7" fill="none" />
<rect x="970.15" y="449.40" width="4.00" height="4.00" rx="0" stroke="none" stroke-width="0" fill="#2e2e2e"/>
<rect x="966.85" y="458.30" width="10.60" height="10.30" rx="0" stroke="#000" stroke-width="1.0" fill="none"/>
<rect x="967.95" y="459.40" width="8.40" height="8.10" rx="0" stroke="#c4c4c4" stroke-width="0.7" fill="none"/>
<rect x="970.15" y="461.25" width="4.00" height="4.00" rx="0" stroke="none" stroke-width="0" fill="#151515"/>
<path d="M979.7,463.1 L981.0,463.70000000000005 L981.0,465.1 L979.7,465.70000000000005" stroke="#000" stroke-width="0.8" fill="none" />
<path d="M844.75,470.80 L844.75,480.40 L844.05,480.70 L841.20,477.80 L841.20,476.20 L842.10,476.00 L842.10,470.80 Z" stroke="#000" stroke-width="0.5" fill="#0c0c0c" />
<path d="M846.35,470.80 L846.35,480.40 L847.05,480.70 L849.90,477.80 L849.90,476.20 L849.00,476.00 L849.00,470.80 Z" stroke="#000" stroke-width="0.5" fill="#0c0c0c" />
<path d="M971.65,470.80 L971.65,480.40 L970.95,480.70 L967.90,477.80 L967.90,476.20 L968.80,476.00 L968.80,470.80 Z" stroke="#000" stroke-width="0.5" fill="#0c0c0c" />
<path d="M973.25,470.80 L973.25,480.40 L973.95,480.70 L977.00,477.80 L977.00,476.20 L976.10,476.00 L976.10,470.80 Z" stroke="#000" stroke-width="0.5" fill="#0c0c0c" />
<text transform="translate(989.10,508.80) translate(22.06,0) scale(0.895,1)" font-size="10" text-anchor="middle" fill="#222" stroke="#333" stroke-width="0.18">P</text>
<text transform="translate(989.10,508.80) scale(0.996,1)" font-size="10" text-anchor="middle" fill="#222" stroke="#333" stroke-width="0.18" x="2.1 7.2 12.1 17.1">2x11</text>
<rect x="910.40" y="486.70" width="9.40" height="3.60" rx="0" stroke="#000" stroke-width="0.9" fill="none"/>
<rect x="849.70" y="490.30" width="130.90" height="27.30" rx="1.6" stroke="#000" stroke-width="1.2" fill="none"/>
<line x1="850.30" y1="491.20" x2="980.00" y2="491.20" stroke="#555" stroke-width="0.8"/>
<rect x="853.00" y="492.60" width="10.60" height="10.40" rx="0" stroke="#000" stroke-width="1.0" fill="none"/>
<rect x="854.10" y="493.70" width="8.40" height="8.20" rx="0" stroke="#c4c4c4" stroke-width="0.7" fill="none"/>
<rect x="856.30" y="495.60" width="4.00" height="4.00" rx="0" stroke="none" stroke-width="0" fill="#151515"/>
<path d="M853.00,504.50 L863.60,504.50 L863.60,511.60 Q863.60,514.80 860.60,514.80 L856.00,514.80 Q853.00,514.80 853.00,511.60 Z" stroke="#000" stroke-width="1.0" fill="none" />
<path d="M854.10,505.60 L854.10,511.40 Q854.10,513.70 856.40,513.70 L860.20,513.70 Q862.50,513.70 862.50,511.40 L862.50,505.60" stroke="#c4c4c4" stroke-width="0.7" fill="none" />
<rect x="856.30" y="507.45" width="4.00" height="4.00" rx="0" stroke="none" stroke-width="0" fill="#2e2e2e"/>
<rect x="864.45" y="492.60" width="10.60" height="10.40" rx="0" stroke="#000" stroke-width="1.0" fill="none"/>
<rect x="865.55" y="493.70" width="8.40" height="8.20" rx="0" stroke="#c4c4c4" stroke-width="0.7" fill="none"/>
<rect x="867.75" y="495.60" width="4.00" height="4.00" rx="0" stroke="none" stroke-width="0" fill="#2e2e2e"/>
<path d="M864.45,504.50 L875.05,504.50 L875.05,511.60 Q875.05,514.80 872.05,514.80 L867.45,514.80 Q864.45,514.80 864.45,511.60 Z" stroke="#000" stroke-width="1.0" fill="none" />
<path d="M865.55,505.60 L865.55,511.40 Q865.55,513.70 867.85,513.70 L871.65,513.70 Q873.95,513.70 873.95,511.40 L873.95,505.60" stroke="#c4c4c4" stroke-width="0.7" fill="none" />
<rect x="867.75" y="507.45" width="4.00" height="4.00" rx="0" stroke="none" stroke-width="0" fill="#151515"/>
<path d="M875.90,492.60 L886.50,492.60 L886.50,499.80 Q886.50,503.00 883.50,503.00 L878.90,503.00 Q875.90,503.00 875.90,499.80 Z" stroke="#000" stroke-width="1.0" fill="none" />
<path d="M877.00,493.70 L877.00,499.60 Q877.00,501.90 879.30,501.90 L883.10,501.90 Q885.40,501.90 885.40,499.60 L885.40,493.70" stroke="#c4c4c4" stroke-width="0.7" fill="none" />
<rect x="879.20" y="495.60" width="4.00" height="4.00" rx="0" stroke="none" stroke-width="0" fill="#151515"/>
<rect x="875.90" y="504.50" width="10.60" height="10.30" rx="0" stroke="#000" stroke-width="1.0" fill="none"/>
<rect x="877.00" y="505.60" width="8.40" height="8.10" rx="0" stroke="#c4c4c4" stroke-width="0.7" fill="none"/>
<rect x="879.20" y="507.45" width="4.00" height="4.00" rx="0" stroke="none" stroke-width="0" fill="#2e2e2e"/>
<path d="M887.35,492.60 L897.95,492.60 L897.95,499.80 Q897.95,503.00 894.95,503.00 L890.35,503.00 Q887.35,503.00 887.35,499.80 Z" stroke="#000" stroke-width="1.0" fill="none" />
<path d="M888.45,493.70 L888.45,499.60 Q888.45,501.90 890.75,501.90 L894.55,501.90 Q896.85,501.90 896.85,499.60 L896.85,493.70" stroke="#c4c4c4" stroke-width="0.7" fill="none" />
<rect x="890.65" y="495.60" width="4.00" height="4.00" rx="0" stroke="none" stroke-width="0" fill="#2e2e2e"/>
<rect x="887.35" y="504.50" width="10.60" height="10.30" rx="0" stroke="#000" stroke-width="1.0" fill="none"/>
<rect x="888.45" y="505.60" width="8.40" height="8.10" rx="0" stroke="#c4c4c4" stroke-width="0.7" fill="none"/>
<rect x="890.65" y="507.45" width="4.00" height="4.00" rx="0" stroke="none" stroke-width="0" fill="#151515"/>
<rect x="898.80" y="492.60" width="10.60" height="10.40" rx="0" stroke="#000" stroke-width="1.0" fill="none"/>
<rect x="899.90" y="493.70" width="8.40" height="8.20" rx="0" stroke="#c4c4c4" stroke-width="0.7" fill="none"/>
<rect x="902.10" y="495.60" width="4.00" height="4.00" rx="0" stroke="none" stroke-width="0" fill="#151515"/>
<path d="M898.80,504.50 L909.40,504.50 L909.40,511.60 Q909.40,514.80 906.40,514.80 L901.80,514.80 Q898.80,514.80 898.80,511.60 Z" stroke="#000" stroke-width="1.0" fill="none" />
<path d="M899.90,505.60 L899.90,511.40 Q899.90,513.70 902.20,513.70 L906.00,513.70 Q908.30,513.70 908.30,511.40 L908.30,505.60" stroke="#c4c4c4" stroke-width="0.7" fill="none" />
<rect x="902.10" y="507.45" width="4.00" height="4.00" rx="0" stroke="none" stroke-width="0" fill="#2e2e2e"/>
<rect x="910.25" y="492.60" width="10.60" height="10.40" rx="0" stroke="#000" stroke-width="1.0" fill="none"/>
<rect x="911.35" y="493.70" width="8.40" height="8.20" rx="0" stroke="#c4c4c4" stroke-width="0.7" fill="none"/>
<rect x="913.55" y="495.60" width="4.00" height="4.00" rx="0" stroke="none" stroke-width="0" fill="#2e2e2e"/>
<path d="M910.25,504.50 L920.85,504.50 L920.85,511.60 Q920.85,514.80 917.85,514.80 L913.25,514.80 Q910.25,514.80 910.25,511.60 Z" stroke="#000" stroke-width="1.0" fill="none" />
<path d="M911.35,505.60 L911.35,511.40 Q911.35,513.70 913.65,513.70 L917.45,513.70 Q919.75,513.70 919.75,511.40 L919.75,505.60" stroke="#c4c4c4" stroke-width="0.7" fill="none" />
<rect x="913.55" y="507.45" width="4.00" height="4.00" rx="0" stroke="none" stroke-width="0" fill="#151515"/>
<path d="M921.70,492.60 L932.30,492.60 L932.30,499.80 Q932.30,503.00 929.30,503.00 L924.70,503.00 Q921.70,503.00 921.70,499.80 Z" stroke="#000" stroke-width="1.0" fill="none" />
<path d="M922.80,493.70 L922.80,499.60 Q922.80,501.90 925.10,501.90 L928.90,501.90 Q931.20,501.90 931.20,499.60 L931.20,493.70" stroke="#c4c4c4" stroke-width="0.7" fill="none" />
<rect x="925.00" y="495.60" width="4.00" height="4.00" rx="0" stroke="none" stroke-width="0" fill="#151515"/>
<rect x="921.70" y="504.50" width="10.60" height="10.30" rx="0" stroke="#000" stroke-width="1.0" fill="none"/>
<rect x="922.80" y="505.60" width="8.40" height="8.10" rx="0" stroke="#c4c4c4" stroke-width="0.7" fill="none"/>
<rect x="925.00" y="507.45" width="4.00" height="4.00" rx="0" stroke="none" stroke-width="0" fill="#2e2e2e"/>
<path d="M933.15,492.60 L943.75,492.60 L943.75,499.80 Q943.75,503.00 940.75,503.00 L936.15,503.00 Q933.15,503.00 933.15,499.80 Z" stroke="#000" stroke-width="1.0" fill="none" />
<path d="M934.25,493.70 L934.25,499.60 Q934.25,501.90 936.55,501.90 L940.35,501.90 Q942.65,501.90 942.65,499.60 L942.65,493.70" stroke="#c4c4c4" stroke-width="0.7" fill="none" />
<rect x="936.45" y="495.60" width="4.00" height="4.00" rx="0" stroke="none" stroke-width="0" fill="#2e2e2e"/>
<rect x="933.15" y="504.50" width="10.60" height="10.30" rx="0" stroke="#000" stroke-width="1.0" fill="none"/>
<rect x="934.25" y="505.60" width="8.40" height="8.10" rx="0" stroke="#c4c4c4" stroke-width="0.7" fill="none"/>
<rect x="936.45" y="507.45" width="4.00" height="4.00" rx="0" stroke="none" stroke-width="0" fill="#151515"/>
<rect x="944.60" y="492.60" width="10.60" height="10.40" rx="0" stroke="#000" stroke-width="1.0" fill="none"/>
<rect x="945.70" y="493.70" width="8.40" height="8.20" rx="0" stroke="#c4c4c4" stroke-width="0.7" fill="none"/>
<rect x="947.90" y="495.60" width="4.00" height="4.00" rx="0" stroke="none" stroke-width="0" fill="#151515"/>
<path d="M944.60,504.50 L955.20,504.50 L955.20,511.60 Q955.20,514.80 952.20,514.80 L947.60,514.80 Q944.60,514.80 944.60,511.60 Z" stroke="#000" stroke-width="1.0" fill="none" />
<path d="M945.70,505.60 L945.70,511.40 Q945.70,513.70 948.00,513.70 L951.80,513.70 Q954.10,513.70 954.10,511.40 L954.10,505.60" stroke="#c4c4c4" stroke-width="0.7" fill="none" />
<rect x="947.90" y="507.45" width="4.00" height="4.00" rx="0" stroke="none" stroke-width="0" fill="#2e2e2e"/>
<rect x="956.05" y="492.60" width="10.60" height="10.40" rx="0" stroke="#000" stroke-width="1.0" fill="none"/>
<rect x="957.15" y="493.70" width="8.40" height="8.20" rx="0" stroke="#c4c4c4" stroke-width="0.7" fill="none"/>
<rect x="959.35" y="495.60" width="4.00" height="4.00" rx="0" stroke="none" stroke-width="0" fill="#2e2e2e"/>
<path d="M956.05,504.50 L966.65,504.50 L966.65,511.60 Q966.65,514.80 963.65,514.80 L959.05,514.80 Q956.05,514.80 956.05,511.60 Z" stroke="#000" stroke-width="1.0" fill="none" />
<path d="M957.15,505.60 L957.15,511.40 Q957.15,513.70 959.45,513.70 L963.25,513.70 Q965.55,513.70 965.55,511.40 L965.55,505.60" stroke="#c4c4c4" stroke-width="0.7" fill="none" />
<rect x="959.35" y="507.45" width="4.00" height="4.00" rx="0" stroke="none" stroke-width="0" fill="#151515"/>
<path d="M967.50,492.60 L978.10,492.60 L978.10,499.80 Q978.10,503.00 975.10,503.00 L970.50,503.00 Q967.50,503.00 967.50,499.80 Z" stroke="#000" stroke-width="1.0" fill="none" />
<path d="M968.60,493.70 L968.60,499.60 Q968.60,501.90 970.90,501.90 L974.70,501.90 Q977.00,501.90 977.00,499.60 L977.00,493.70" stroke="#c4c4c4" stroke-width="0.7" fill="none" />
<rect x="970.80" y="495.60" width="4.00" height="4.00" rx="0" stroke="none" stroke-width="0" fill="#151515"/>
<rect x="967.50" y="504.50" width="10.60" height="10.30" rx="0" stroke="#000" stroke-width="1.0" fill="none"/>
<rect x="968.60" y="505.60" width="8.40" height="8.10" rx="0" stroke="#c4c4c4" stroke-width="0.7" fill="none"/>
<rect x="970.80" y="507.45" width="4.00" height="4.00" rx="0" stroke="none" stroke-width="0" fill="#2e2e2e"/>
<path d="M980.6,509.3 L981.9,509.90000000000003 L981.9,511.3 L980.6,511.90000000000003" stroke="#000" stroke-width="0.8" fill="none" />
<path d="M857.20,517.60 L857.20,527.20 L856.50,527.50 L853.30,524.60 L853.30,523.00 L854.20,522.80 L854.20,517.60 Z" stroke="#000" stroke-width="0.5" fill="#0c0c0c" />
<path d="M858.80,517.60 L858.80,527.20 L859.50,527.50 L862.70,524.60 L862.70,523.00 L861.80,522.80 L861.80,517.60 Z" stroke="#000" stroke-width="0.5" fill="#0c0c0c" />
<path d="M971.75,517.60 L971.75,527.20 L971.05,527.50 L968.10,524.60 L968.10,523.00 L969.00,522.80 L969.00,517.60 Z" stroke="#000" stroke-width="0.5" fill="#0c0c0c" />
<path d="M973.35,517.60 L973.35,527.20 L974.05,527.50 L977.00,524.60 L977.00,523.00 L976.10,522.80 L976.10,517.60 Z" stroke="#000" stroke-width="0.5" fill="#0c0c0c" />
<text transform="translate(989.10,554.50) translate(22.06,0) scale(0.895,1)" font-size="10" text-anchor="middle" fill="#222" stroke="#333" stroke-width="0.18">P</text>
<text transform="translate(989.10,554.50) scale(0.996,1)" font-size="10" text-anchor="middle" fill="#222" stroke="#333" stroke-width="0.18" x="2.1 7.2 12.1 17.1">2x10</text>
<rect x="915.80" y="533.50" width="9.80" height="3.60" rx="0" stroke="#000" stroke-width="0.9" fill="none"/>
<rect x="861.30" y="537.10" width="119.30" height="26.60" rx="1.6" stroke="#000" stroke-width="1.2" fill="none"/>
<line x1="861.90" y1="538.00" x2="980.00" y2="538.00" stroke="#555" stroke-width="0.8"/>
<rect x="864.30" y="539.40" width="10.60" height="10.40" rx="0" stroke="#000" stroke-width="1.0" fill="none"/>
<rect x="865.40" y="540.50" width="8.40" height="8.20" rx="0" stroke="#c4c4c4" stroke-width="0.7" fill="none"/>
<rect x="867.60" y="542.40" width="4.00" height="4.00" rx="0" stroke="none" stroke-width="0" fill="#151515"/>
<path d="M864.30,551.30 L874.90,551.30 L874.90,558.40 Q874.90,561.60 871.90,561.60 L867.30,561.60 Q864.30,561.60 864.30,558.40 Z" stroke="#000" stroke-width="1.0" fill="none" />
<path d="M865.40,552.40 L865.40,558.20 Q865.40,560.50 867.70,560.50 L871.50,560.50 Q873.80,560.50 873.80,558.20 L873.80,552.40" stroke="#c4c4c4" stroke-width="0.7" fill="none" />
<rect x="867.60" y="554.25" width="4.00" height="4.00" rx="0" stroke="none" stroke-width="0" fill="#2e2e2e"/>
<path d="M875.75,539.40 L886.35,539.40 L886.35,546.60 Q886.35,549.80 883.35,549.80 L878.75,549.80 Q875.75,549.80 875.75,546.60 Z" stroke="#000" stroke-width="1.0" fill="none" />
<path d="M876.85,540.50 L876.85,546.40 Q876.85,548.70 879.15,548.70 L882.95,548.70 Q885.25,548.70 885.25,546.40 L885.25,540.50" stroke="#c4c4c4" stroke-width="0.7" fill="none" />
<rect x="879.05" y="542.40" width="4.00" height="4.00" rx="0" stroke="none" stroke-width="0" fill="#2e2e2e"/>
<rect x="875.75" y="551.30" width="10.60" height="10.30" rx="0" stroke="#000" stroke-width="1.0" fill="none"/>
<rect x="876.85" y="552.40" width="8.40" height="8.10" rx="0" stroke="#c4c4c4" stroke-width="0.7" fill="none"/>
<rect x="879.05" y="554.25" width="4.00" height="4.00" rx="0" stroke="none" stroke-width="0" fill="#151515"/>
<path d="M887.20,539.40 L897.80,539.40 L897.80,546.60 Q897.80,549.80 894.80,549.80 L890.20,549.80 Q887.20,549.80 887.20,546.60 Z" stroke="#000" stroke-width="1.0" fill="none" />
<path d="M888.30,540.50 L888.30,546.40 Q888.30,548.70 890.60,548.70 L894.40,548.70 Q896.70,548.70 896.70,546.40 L896.70,540.50" stroke="#c4c4c4" stroke-width="0.7" fill="none" />
<rect x="890.50" y="542.40" width="4.00" height="4.00" rx="0" stroke="none" stroke-width="0" fill="#151515"/>
<rect x="887.20" y="551.30" width="10.60" height="10.30" rx="0" stroke="#000" stroke-width="1.0" fill="none"/>
<rect x="888.30" y="552.40" width="8.40" height="8.10" rx="0" stroke="#c4c4c4" stroke-width="0.7" fill="none"/>
<rect x="890.50" y="554.25" width="4.00" height="4.00" rx="0" stroke="none" stroke-width="0" fill="#2e2e2e"/>
<rect x="898.65" y="539.40" width="10.60" height="10.40" rx="0" stroke="#000" stroke-width="1.0" fill="none"/>
<rect x="899.75" y="540.50" width="8.40" height="8.20" rx="0" stroke="#c4c4c4" stroke-width="0.7" fill="none"/>
<rect x="901.95" y="542.40" width="4.00" height="4.00" rx="0" stroke="none" stroke-width="0" fill="#2e2e2e"/>
<path d="M898.65,551.30 L909.25,551.30 L909.25,558.40 Q909.25,561.60 906.25,561.60 L901.65,561.60 Q898.65,561.60 898.65,558.40 Z" stroke="#000" stroke-width="1.0" fill="none" />
<path d="M899.75,552.40 L899.75,558.20 Q899.75,560.50 902.05,560.50 L905.85,560.50 Q908.15,560.50 908.15,558.20 L908.15,552.40" stroke="#c4c4c4" stroke-width="0.7" fill="none" />
<rect x="901.95" y="554.25" width="4.00" height="4.00" rx="0" stroke="none" stroke-width="0" fill="#151515"/>
<rect x="910.10" y="539.40" width="10.60" height="10.40" rx="0" stroke="#000" stroke-width="1.0" fill="none"/>
<rect x="911.20" y="540.50" width="8.40" height="8.20" rx="0" stroke="#c4c4c4" stroke-width="0.7" fill="none"/>
<rect x="913.40" y="542.40" width="4.00" height="4.00" rx="0" stroke="none" stroke-width="0" fill="#151515"/>
<path d="M910.10,551.30 L920.70,551.30 L920.70,558.40 Q920.70,561.60 917.70,561.60 L913.10,561.60 Q910.10,561.60 910.10,558.40 Z" stroke="#000" stroke-width="1.0" fill="none" />
<path d="M911.20,552.40 L911.20,558.20 Q911.20,560.50 913.50,560.50 L917.30,560.50 Q919.60,560.50 919.60,558.20 L919.60,552.40" stroke="#c4c4c4" stroke-width="0.7" fill="none" />
<rect x="913.40" y="554.25" width="4.00" height="4.00" rx="0" stroke="none" stroke-width="0" fill="#2e2e2e"/>
<path d="M921.55,539.40 L932.15,539.40 L932.15,546.60 Q932.15,549.80 929.15,549.80 L924.55,549.80 Q921.55,549.80 921.55,546.60 Z" stroke="#000" stroke-width="1.0" fill="none" />
<path d="M922.65,540.50 L922.65,546.40 Q922.65,548.70 924.95,548.70 L928.75,548.70 Q931.05,548.70 931.05,546.40 L931.05,540.50" stroke="#c4c4c4" stroke-width="0.7" fill="none" />
<rect x="924.85" y="542.40" width="4.00" height="4.00" rx="0" stroke="none" stroke-width="0" fill="#2e2e2e"/>
<rect x="921.55" y="551.30" width="10.60" height="10.30" rx="0" stroke="#000" stroke-width="1.0" fill="none"/>
<rect x="922.65" y="552.40" width="8.40" height="8.10" rx="0" stroke="#c4c4c4" stroke-width="0.7" fill="none"/>
<rect x="924.85" y="554.25" width="4.00" height="4.00" rx="0" stroke="none" stroke-width="0" fill="#151515"/>
<path d="M933.00,539.40 L943.60,539.40 L943.60,546.60 Q943.60,549.80 940.60,549.80 L936.00,549.80 Q933.00,549.80 933.00,546.60 Z" stroke="#000" stroke-width="1.0" fill="none" />
<path d="M934.10,540.50 L934.10,546.40 Q934.10,548.70 936.40,548.70 L940.20,548.70 Q942.50,548.70 942.50,546.40 L942.50,540.50" stroke="#c4c4c4" stroke-width="0.7" fill="none" />
<rect x="936.30" y="542.40" width="4.00" height="4.00" rx="0" stroke="none" stroke-width="0" fill="#151515"/>
<rect x="933.00" y="551.30" width="10.60" height="10.30" rx="0" stroke="#000" stroke-width="1.0" fill="none"/>
<rect x="934.10" y="552.40" width="8.40" height="8.10" rx="0" stroke="#c4c4c4" stroke-width="0.7" fill="none"/>
<rect x="936.30" y="554.25" width="4.00" height="4.00" rx="0" stroke="none" stroke-width="0" fill="#2e2e2e"/>
<rect x="944.45" y="539.40" width="10.60" height="10.40" rx="0" stroke="#000" stroke-width="1.0" fill="none"/>
<rect x="945.55" y="540.50" width="8.40" height="8.20" rx="0" stroke="#c4c4c4" stroke-width="0.7" fill="none"/>
<rect x="947.75" y="542.40" width="4.00" height="4.00" rx="0" stroke="none" stroke-width="0" fill="#2e2e2e"/>
<path d="M944.45,551.30 L955.05,551.30 L955.05,558.40 Q955.05,561.60 952.05,561.60 L947.45,561.60 Q944.45,561.60 944.45,558.40 Z" stroke="#000" stroke-width="1.0" fill="none" />
<path d="M945.55,552.40 L945.55,558.20 Q945.55,560.50 947.85,560.50 L951.65,560.50 Q953.95,560.50 953.95,558.20 L953.95,552.40" stroke="#c4c4c4" stroke-width="0.7" fill="none" />
<rect x="947.75" y="554.25" width="4.00" height="4.00" rx="0" stroke="none" stroke-width="0" fill="#151515"/>
<rect x="955.90" y="539.40" width="10.60" height="10.40" rx="0" stroke="#000" stroke-width="1.0" fill="none"/>
<rect x="957.00" y="540.50" width="8.40" height="8.20" rx="0" stroke="#c4c4c4" stroke-width="0.7" fill="none"/>
<rect x="959.20" y="542.40" width="4.00" height="4.00" rx="0" stroke="none" stroke-width="0" fill="#151515"/>
<path d="M955.90,551.30 L966.50,551.30 L966.50,558.40 Q966.50,561.60 963.50,561.60 L958.90,561.60 Q955.90,561.60 955.90,558.40 Z" stroke="#000" stroke-width="1.0" fill="none" />
<path d="M957.00,552.40 L957.00,558.20 Q957.00,560.50 959.30,560.50 L963.10,560.50 Q965.40,560.50 965.40,558.20 L965.40,552.40" stroke="#c4c4c4" stroke-width="0.7" fill="none" />
<rect x="959.20" y="554.25" width="4.00" height="4.00" rx="0" stroke="none" stroke-width="0" fill="#2e2e2e"/>
<path d="M967.35,539.40 L977.95,539.40 L977.95,546.60 Q977.95,549.80 974.95,549.80 L970.35,549.80 Q967.35,549.80 967.35,546.60 Z" stroke="#000" stroke-width="1.0" fill="none" />
<path d="M968.45,540.50 L968.45,546.40 Q968.45,548.70 970.75,548.70 L974.55,548.70 Q976.85,548.70 976.85,546.40 L976.85,540.50" stroke="#c4c4c4" stroke-width="0.7" fill="none" />
<rect x="970.65" y="542.40" width="4.00" height="4.00" rx="0" stroke="none" stroke-width="0" fill="#2e2e2e"/>
<rect x="967.35" y="551.30" width="10.60" height="10.30" rx="0" stroke="#000" stroke-width="1.0" fill="none"/>
<rect x="968.45" y="552.40" width="8.40" height="8.10" rx="0" stroke="#c4c4c4" stroke-width="0.7" fill="none"/>
<rect x="970.65" y="554.25" width="4.00" height="4.00" rx="0" stroke="none" stroke-width="0" fill="#151515"/>
<path d="M980.6,556.1 L981.9,556.7 L981.9,558.1 L980.6,558.7" stroke="#000" stroke-width="0.8" fill="none" />
<path d="M867.90,563.70 L867.90,573.30 L867.20,573.60 L864.00,570.70 L864.00,569.10 L864.90,568.90 L864.90,563.70 Z" stroke="#000" stroke-width="0.5" fill="#0c0c0c" />
<path d="M869.50,563.70 L869.50,573.30 L870.20,573.60 L873.40,570.70 L873.40,569.10 L872.50,568.90 L872.50,563.70 Z" stroke="#000" stroke-width="0.5" fill="#0c0c0c" />
<path d="M971.75,563.70 L971.75,573.30 L971.05,573.60 L968.10,570.70 L968.10,569.10 L969.00,568.90 L969.00,563.70 Z" stroke="#000" stroke-width="0.5" fill="#0c0c0c" />
<path d="M973.35,563.70 L973.35,573.30 L974.05,573.60 L977.00,570.70 L977.00,569.10 L976.10,568.90 L976.10,563.70 Z" stroke="#000" stroke-width="0.5" fill="#0c0c0c" />
<text transform="translate(989.10,603.50) translate(22.06,0) scale(0.895,1)" font-size="10" text-anchor="middle" fill="#222" stroke="#333" stroke-width="0.18">P</text>
<text transform="translate(989.10,603.50) scale(0.996,1)" font-size="10" text-anchor="middle" fill="#222" stroke="#333" stroke-width="0.18" x="2.1 7.2 12.1 17.1">2x09</text>
<rect x="922.20" y="583.80" width="9.70" height="3.60" rx="0" stroke="#000" stroke-width="0.9" fill="none"/>
<rect x="873.40" y="587.40" width="107.20" height="26.90" rx="1.6" stroke="#000" stroke-width="1.2" fill="none"/>
<line x1="874.00" y1="588.30" x2="980.00" y2="588.30" stroke="#555" stroke-width="0.8"/>
<path d="M876.30,589.70 L886.90,589.70 L886.90,596.90 Q886.90,600.10 883.90,600.10 L879.30,600.10 Q876.30,600.10 876.30,596.90 Z" stroke="#000" stroke-width="1.0" fill="none" />
<path d="M877.40,590.80 L877.40,596.70 Q877.40,599.00 879.70,599.00 L883.50,599.00 Q885.80,599.00 885.80,596.70 L885.80,590.80" stroke="#c4c4c4" stroke-width="0.7" fill="none" />
<rect x="879.60" y="592.70" width="4.00" height="4.00" rx="0" stroke="none" stroke-width="0" fill="#151515"/>
<rect x="876.30" y="601.60" width="10.60" height="10.30" rx="0" stroke="#000" stroke-width="1.0" fill="none"/>
<rect x="877.40" y="602.70" width="8.40" height="8.10" rx="0" stroke="#c4c4c4" stroke-width="0.7" fill="none"/>
<rect x="879.60" y="604.55" width="4.00" height="4.00" rx="0" stroke="none" stroke-width="0" fill="#2e2e2e"/>
<path d="M887.75,589.70 L898.35,589.70 L898.35,596.90 Q898.35,600.10 895.35,600.10 L890.75,600.10 Q887.75,600.10 887.75,596.90 Z" stroke="#000" stroke-width="1.0" fill="none" />
<path d="M888.85,590.80 L888.85,596.70 Q888.85,599.00 891.15,599.00 L894.95,599.00 Q897.25,599.00 897.25,596.70 L897.25,590.80" stroke="#c4c4c4" stroke-width="0.7" fill="none" />
<rect x="891.05" y="592.70" width="4.00" height="4.00" rx="0" stroke="none" stroke-width="0" fill="#2e2e2e"/>
<rect x="887.75" y="601.60" width="10.60" height="10.30" rx="0" stroke="#000" stroke-width="1.0" fill="none"/>
<rect x="888.85" y="602.70" width="8.40" height="8.10" rx="0" stroke="#c4c4c4" stroke-width="0.7" fill="none"/>
<rect x="891.05" y="604.55" width="4.00" height="4.00" rx="0" stroke="none" stroke-width="0" fill="#151515"/>
<rect x="899.20" y="589.70" width="10.60" height="10.40" rx="0" stroke="#000" stroke-width="1.0" fill="none"/>
<rect x="900.30" y="590.80" width="8.40" height="8.20" rx="0" stroke="#c4c4c4" stroke-width="0.7" fill="none"/>
<rect x="902.50" y="592.70" width="4.00" height="4.00" rx="0" stroke="none" stroke-width="0" fill="#151515"/>
<path d="M899.20,601.60 L909.80,601.60 L909.80,608.70 Q909.80,611.90 906.80,611.90 L902.20,611.90 Q899.20,611.90 899.20,608.70 Z" stroke="#000" stroke-width="1.0" fill="none" />
<path d="M900.30,602.70 L900.30,608.50 Q900.30,610.80 902.60,610.80 L906.40,610.80 Q908.70,610.80 908.70,608.50 L908.70,602.70" stroke="#c4c4c4" stroke-width="0.7" fill="none" />
<rect x="902.50" y="604.55" width="4.00" height="4.00" rx="0" stroke="none" stroke-width="0" fill="#2e2e2e"/>
<rect x="910.65" y="589.70" width="10.60" height="10.40" rx="0" stroke="#000" stroke-width="1.0" fill="none"/>
<rect x="911.75" y="590.80" width="8.40" height="8.20" rx="0" stroke="#c4c4c4" stroke-width="0.7" fill="none"/>
<rect x="913.95" y="592.70" width="4.00" height="4.00" rx="0" stroke="none" stroke-width="0" fill="#2e2e2e"/>
<path d="M910.65,601.60 L921.25,601.60 L921.25,608.70 Q921.25,611.90 918.25,611.90 L913.65,611.90 Q910.65,611.90 910.65,608.70 Z" stroke="#000" stroke-width="1.0" fill="none" />
<path d="M911.75,602.70 L911.75,608.50 Q911.75,610.80 914.05,610.80 L917.85,610.80 Q920.15,610.80 920.15,608.50 L920.15,602.70" stroke="#c4c4c4" stroke-width="0.7" fill="none" />
<rect x="913.95" y="604.55" width="4.00" height="4.00" rx="0" stroke="none" stroke-width="0" fill="#151515"/>
<path d="M922.10,589.70 L932.70,589.70 L932.70,596.90 Q932.70,600.10 929.70,600.10 L925.10,600.10 Q922.10,600.10 922.10,596.90 Z" stroke="#000" stroke-width="1.0" fill="none" />
<path d="M923.20,590.80 L923.20,596.70 Q923.20,599.00 925.50,599.00 L929.30,599.00 Q931.60,599.00 931.60,596.70 L931.60,590.80" stroke="#c4c4c4" stroke-width="0.7" fill="none" />
<rect x="925.40" y="592.70" width="4.00" height="4.00" rx="0" stroke="none" stroke-width="0" fill="#151515"/>
<rect x="922.10" y="601.60" width="10.60" height="10.30" rx="0" stroke="#000" stroke-width="1.0" fill="none"/>
<rect x="923.20" y="602.70" width="8.40" height="8.10" rx="0" stroke="#c4c4c4" stroke-width="0.7" fill="none"/>
<rect x="925.40" y="604.55" width="4.00" height="4.00" rx="0" stroke="none" stroke-width="0" fill="#2e2e2e"/>
<path d="M933.55,589.70 L944.15,589.70 L944.15,596.90 Q944.15,600.10 941.15,600.10 L936.55,600.10 Q933.55,600.10 933.55,596.90 Z" stroke="#000" stroke-width="1.0" fill="none" />
<path d="M934.65,590.80 L934.65,596.70 Q934.65,599.00 936.95,599.00 L940.75,599.00 Q943.05,599.00 943.05,596.70 L943.05,590.80" stroke="#c4c4c4" stroke-width="0.7" fill="none" />
<rect x="936.85" y="592.70" width="4.00" height="4.00" rx="0" stroke="none" stroke-width="0" fill="#2e2e2e"/>
<rect x="933.55" y="601.60" width="10.60" height="10.30" rx="0" stroke="#000" stroke-width="1.0" fill="none"/>
<rect x="934.65" y="602.70" width="8.40" height="8.10" rx="0" stroke="#c4c4c4" stroke-width="0.7" fill="none"/>
<rect x="936.85" y="604.55" width="4.00" height="4.00" rx="0" stroke="none" stroke-width="0" fill="#151515"/>
<rect x="945.00" y="589.70" width="10.60" height="10.40" rx="0" stroke="#000" stroke-width="1.0" fill="none"/>
<rect x="946.10" y="590.80" width="8.40" height="8.20" rx="0" stroke="#c4c4c4" stroke-width="0.7" fill="none"/>
<rect x="948.30" y="592.70" width="4.00" height="4.00" rx="0" stroke="none" stroke-width="0" fill="#151515"/>
<path d="M945.00,601.60 L955.60,601.60 L955.60,608.70 Q955.60,611.90 952.60,611.90 L948.00,611.90 Q945.00,611.90 945.00,608.70 Z" stroke="#000" stroke-width="1.0" fill="none" />
<path d="M946.10,602.70 L946.10,608.50 Q946.10,610.80 948.40,610.80 L952.20,610.80 Q954.50,610.80 954.50,608.50 L954.50,602.70" stroke="#c4c4c4" stroke-width="0.7" fill="none" />
<rect x="948.30" y="604.55" width="4.00" height="4.00" rx="0" stroke="none" stroke-width="0" fill="#2e2e2e"/>
<rect x="956.45" y="589.70" width="10.60" height="10.40" rx="0" stroke="#000" stroke-width="1.0" fill="none"/>
<rect x="957.55" y="590.80" width="8.40" height="8.20" rx="0" stroke="#c4c4c4" stroke-width="0.7" fill="none"/>
<rect x="959.75" y="592.70" width="4.00" height="4.00" rx="0" stroke="none" stroke-width="0" fill="#2e2e2e"/>
<path d="M956.45,601.60 L967.05,601.60 L967.05,608.70 Q967.05,611.90 964.05,611.90 L959.45,611.90 Q956.45,611.90 956.45,608.70 Z" stroke="#000" stroke-width="1.0" fill="none" />
<path d="M957.55,602.70 L957.55,608.50 Q957.55,610.80 959.85,610.80 L963.65,610.80 Q965.95,610.80 965.95,608.50 L965.95,602.70" stroke="#c4c4c4" stroke-width="0.7" fill="none" />
<rect x="959.75" y="604.55" width="4.00" height="4.00" rx="0" stroke="none" stroke-width="0" fill="#151515"/>
<path d="M967.90,589.70 L978.50,589.70 L978.50,596.90 Q978.50,600.10 975.50,600.10 L970.90,600.10 Q967.90,600.10 967.90,596.90 Z" stroke="#000" stroke-width="1.0" fill="none" />
<path d="M969.00,590.80 L969.00,596.70 Q969.00,599.00 971.30,599.00 L975.10,599.00 Q977.40,599.00 977.40,596.70 L977.40,590.80" stroke="#c4c4c4" stroke-width="0.7" fill="none" />
<rect x="971.20" y="592.70" width="4.00" height="4.00" rx="0" stroke="none" stroke-width="0" fill="#151515"/>
<rect x="967.90" y="601.60" width="10.60" height="10.30" rx="0" stroke="#000" stroke-width="1.0" fill="none"/>
<rect x="969.00" y="602.70" width="8.40" height="8.10" rx="0" stroke="#c4c4c4" stroke-width="0.7" fill="none"/>
<rect x="971.20" y="604.55" width="4.00" height="4.00" rx="0" stroke="none" stroke-width="0" fill="#2e2e2e"/>
<path d="M980.6,606.4 L981.9,607.0 L981.9,608.4 L980.6,609.0" stroke="#000" stroke-width="0.8" fill="none" />
<path d="M881.00,614.30 L881.00,623.90 L880.30,624.20 L877.40,621.30 L877.40,619.70 L878.30,619.50 L878.30,614.30 Z" stroke="#000" stroke-width="0.5" fill="#0c0c0c" />
<path d="M882.60,614.30 L882.60,623.90 L883.30,624.20 L886.20,621.30 L886.20,619.70 L885.30,619.50 L885.30,614.30 Z" stroke="#000" stroke-width="0.5" fill="#0c0c0c" />
<path d="M971.75,614.30 L971.75,623.90 L971.05,624.20 L968.10,621.30 L968.10,619.70 L969.00,619.50 L969.00,614.30 Z" stroke="#000" stroke-width="0.5" fill="#0c0c0c" />
<path d="M973.35,614.30 L973.35,623.90 L974.05,624.20 L977.00,621.30 L977.00,619.70 L976.10,619.50 L976.10,614.30 Z" stroke="#000" stroke-width="0.5" fill="#0c0c0c" />
<text transform="translate(988.70,653.10) translate(22.06,0) scale(0.895,1)" font-size="10" text-anchor="middle" fill="#222" stroke="#333" stroke-width="0.18">P</text>
<text transform="translate(988.70,653.10) scale(0.996,1)" font-size="10" text-anchor="middle" fill="#222" stroke="#333" stroke-width="0.18" x="2.1 7.2 12.1 17.1">2x08</text>
<rect x="925.50" y="632.90" width="9.20" height="3.60" rx="0" stroke="#000" stroke-width="0.9" fill="none"/>
<rect x="882.00" y="636.50" width="96.20" height="26.20" rx="1.6" stroke="#000" stroke-width="1.2" fill="none"/>
<line x1="882.60" y1="637.40" x2="977.60" y2="637.40" stroke="#555" stroke-width="0.8"/>
<path d="M884.60,638.80 L895.20,638.80 L895.20,646.00 Q895.20,649.20 892.20,649.20 L887.60,649.20 Q884.60,649.20 884.60,646.00 Z" stroke="#000" stroke-width="1.0" fill="none" />
<path d="M885.70,639.90 L885.70,645.80 Q885.70,648.10 888.00,648.10 L891.80,648.10 Q894.10,648.10 894.10,645.80 L894.10,639.90" stroke="#c4c4c4" stroke-width="0.7" fill="none" />
<rect x="887.90" y="641.80" width="4.00" height="4.00" rx="0" stroke="none" stroke-width="0" fill="#151515"/>
<rect x="884.60" y="650.70" width="10.60" height="10.30" rx="0" stroke="#000" stroke-width="1.0" fill="none"/>
<rect x="885.70" y="651.80" width="8.40" height="8.10" rx="0" stroke="#c4c4c4" stroke-width="0.7" fill="none"/>
<rect x="887.90" y="653.65" width="4.00" height="4.00" rx="0" stroke="none" stroke-width="0" fill="#2e2e2e"/>
<rect x="896.04" y="638.80" width="10.60" height="10.40" rx="0" stroke="#000" stroke-width="1.0" fill="none"/>
<rect x="897.14" y="639.90" width="8.40" height="8.20" rx="0" stroke="#c4c4c4" stroke-width="0.7" fill="none"/>
<rect x="899.34" y="641.80" width="4.00" height="4.00" rx="0" stroke="none" stroke-width="0" fill="#2e2e2e"/>
<path d="M896.04,650.70 L906.64,650.70 L906.64,657.80 Q906.64,661.00 903.64,661.00 L899.04,661.00 Q896.04,661.00 896.04,657.80 Z" stroke="#000" stroke-width="1.0" fill="none" />
<path d="M897.14,651.80 L897.14,657.60 Q897.14,659.90 899.44,659.90 L903.24,659.90 Q905.54,659.90 905.54,657.60 L905.54,651.80" stroke="#c4c4c4" stroke-width="0.7" fill="none" />
<rect x="899.34" y="653.65" width="4.00" height="4.00" rx="0" stroke="none" stroke-width="0" fill="#151515"/>
<rect x="907.48" y="638.80" width="10.60" height="10.40" rx="0" stroke="#000" stroke-width="1.0" fill="none"/>
<rect x="908.58" y="639.90" width="8.40" height="8.20" rx="0" stroke="#c4c4c4" stroke-width="0.7" fill="none"/>
<rect x="910.78" y="641.80" width="4.00" height="4.00" rx="0" stroke="none" stroke-width="0" fill="#151515"/>
<path d="M907.48,650.70 L918.08,650.70 L918.08,657.80 Q918.08,661.00 915.08,661.00 L910.48,661.00 Q907.48,661.00 907.48,657.80 Z" stroke="#000" stroke-width="1.0" fill="none" />
<path d="M908.58,651.80 L908.58,657.60 Q908.58,659.90 910.88,659.90 L914.68,659.90 Q916.98,659.90 916.98,657.60 L916.98,651.80" stroke="#c4c4c4" stroke-width="0.7" fill="none" />
<rect x="910.78" y="653.65" width="4.00" height="4.00" rx="0" stroke="none" stroke-width="0" fill="#2e2e2e"/>
<path d="M918.92,638.80 L929.52,638.80 L929.52,646.00 Q929.52,649.20 926.52,649.20 L921.92,649.20 Q918.92,649.20 918.92,646.00 Z" stroke="#000" stroke-width="1.0" fill="none" />
<path d="M920.02,639.90 L920.02,645.80 Q920.02,648.10 922.32,648.10 L926.12,648.10 Q928.42,648.10 928.42,645.80 L928.42,639.90" stroke="#c4c4c4" stroke-width="0.7" fill="none" />
<rect x="922.22" y="641.80" width="4.00" height="4.00" rx="0" stroke="none" stroke-width="0" fill="#2e2e2e"/>
<rect x="918.92" y="650.70" width="10.60" height="10.30" rx="0" stroke="#000" stroke-width="1.0" fill="none"/>
<rect x="920.02" y="651.80" width="8.40" height="8.10" rx="0" stroke="#c4c4c4" stroke-width="0.7" fill="none"/>
<rect x="922.22" y="653.65" width="4.00" height="4.00" rx="0" stroke="none" stroke-width="0" fill="#151515"/>
<path d="M930.36,638.80 L940.96,638.80 L940.96,646.00 Q940.96,649.20 937.96,649.20 L933.36,649.20 Q930.36,649.20 930.36,646.00 Z" stroke="#000" stroke-width="1.0" fill="none" />
<path d="M931.46,639.90 L931.46,645.80 Q931.46,648.10 933.76,648.10 L937.56,648.10 Q939.86,648.10 939.86,645.80 L939.86,639.90" stroke="#c4c4c4" stroke-width="0.7" fill="none" />
<rect x="933.66" y="641.80" width="4.00" height="4.00" rx="0" stroke="none" stroke-width="0" fill="#151515"/>
<rect x="930.36" y="650.70" width="10.60" height="10.30" rx="0" stroke="#000" stroke-width="1.0" fill="none"/>
<rect x="931.46" y="651.80" width="8.40" height="8.10" rx="0" stroke="#c4c4c4" stroke-width="0.7" fill="none"/>
<rect x="933.66" y="653.65" width="4.00" height="4.00" rx="0" stroke="none" stroke-width="0" fill="#2e2e2e"/>
<rect x="941.80" y="638.80" width="10.60" height="10.40" rx="0" stroke="#000" stroke-width="1.0" fill="none"/>
<rect x="942.90" y="639.90" width="8.40" height="8.20" rx="0" stroke="#c4c4c4" stroke-width="0.7" fill="none"/>
<rect x="945.10" y="641.80" width="4.00" height="4.00" rx="0" stroke="none" stroke-width="0" fill="#2e2e2e"/>
<path d="M941.80,650.70 L952.40,650.70 L952.40,657.80 Q952.40,661.00 949.40,661.00 L944.80,661.00 Q941.80,661.00 941.80,657.80 Z" stroke="#000" stroke-width="1.0" fill="none" />
<path d="M942.90,651.80 L942.90,657.60 Q942.90,659.90 945.20,659.90 L949.00,659.90 Q951.30,659.90 951.30,657.60 L951.30,651.80" stroke="#c4c4c4" stroke-width="0.7" fill="none" />
<rect x="945.10" y="653.65" width="4.00" height="4.00" rx="0" stroke="none" stroke-width="0" fill="#151515"/>
<rect x="953.24" y="638.80" width="10.60" height="10.40" rx="0" stroke="#000" stroke-width="1.0" fill="none"/>
<rect x="954.34" y="639.90" width="8.40" height="8.20" rx="0" stroke="#c4c4c4" stroke-width="0.7" fill="none"/>
<rect x="956.54" y="641.80" width="4.00" height="4.00" rx="0" stroke="none" stroke-width="0" fill="#151515"/>
<path d="M953.24,650.70 L963.84,650.70 L963.84,657.80 Q963.84,661.00 960.84,661.00 L956.24,661.00 Q953.24,661.00 953.24,657.80 Z" stroke="#000" stroke-width="1.0" fill="none" />
<path d="M954.34,651.80 L954.34,657.60 Q954.34,659.90 956.64,659.90 L960.44,659.90 Q962.74,659.90 962.74,657.60 L962.74,651.80" stroke="#c4c4c4" stroke-width="0.7" fill="none" />
<rect x="956.54" y="653.65" width="4.00" height="4.00" rx="0" stroke="none" stroke-width="0" fill="#2e2e2e"/>
<path d="M964.68,638.80 L975.28,638.80 L975.28,646.00 Q975.28,649.20 972.28,649.20 L967.68,649.20 Q964.68,649.20 964.68,646.00 Z" stroke="#000" stroke-width="1.0" fill="none" />
<path d="M965.78,639.90 L965.78,645.80 Q965.78,648.10 968.08,648.10 L971.88,648.10 Q974.18,648.10 974.18,645.80 L974.18,639.90" stroke="#c4c4c4" stroke-width="0.7" fill="none" />
<rect x="967.98" y="641.80" width="4.00" height="4.00" rx="0" stroke="none" stroke-width="0" fill="#2e2e2e"/>
<rect x="964.68" y="650.70" width="10.60" height="10.30" rx="0" stroke="#000" stroke-width="1.0" fill="none"/>
<rect x="965.78" y="651.80" width="8.40" height="8.10" rx="0" stroke="#c4c4c4" stroke-width="0.7" fill="none"/>
<rect x="967.98" y="653.65" width="4.00" height="4.00" rx="0" stroke="none" stroke-width="0" fill="#151515"/>
<path d="M978.2,655.5 L979.5,656.1 L979.5,657.5 L978.2,658.1" stroke="#000" stroke-width="0.8" fill="none" />
<path d="M888.95,662.70 L888.95,672.30 L888.25,672.60 L885.10,669.70 L885.10,668.10 L886.00,667.90 L886.00,662.70 Z" stroke="#000" stroke-width="0.5" fill="#0c0c0c" />
<path d="M890.55,662.70 L890.55,672.30 L891.25,672.60 L894.40,669.70 L894.40,668.10 L893.50,667.90 L893.50,662.70 Z" stroke="#000" stroke-width="0.5" fill="#0c0c0c" />
<path d="M969.65,662.70 L969.65,672.30 L968.95,672.60 L965.80,669.70 L965.80,668.10 L966.70,667.90 L966.70,662.70 Z" stroke="#000" stroke-width="0.5" fill="#0c0c0c" />
<path d="M971.25,662.70 L971.25,672.30 L971.95,672.60 L975.10,669.70 L975.10,668.10 L974.20,667.90 L974.20,662.70 Z" stroke="#000" stroke-width="0.5" fill="#0c0c0c" />
<text transform="translate(988.70,698.50) translate(22.06,0) scale(0.895,1)" font-size="10" text-anchor="middle" fill="#222" stroke="#333" stroke-width="0.18">P</text>
<text transform="translate(988.70,698.50) scale(0.996,1)" font-size="10" text-anchor="middle" fill="#222" stroke="#333" stroke-width="0.18" x="2.1 7.2 12.1 17.1">2x07</text>
<rect x="932.30" y="677.90" width="10.20" height="3.60" rx="0" stroke="#000" stroke-width="0.9" fill="none"/>
<rect x="895.30" y="681.50" width="84.10" height="26.80" rx="1.6" stroke="#000" stroke-width="1.2" fill="none"/>
<line x1="895.90" y1="682.40" x2="978.80" y2="682.40" stroke="#555" stroke-width="0.8"/>
<rect x="897.30" y="683.80" width="10.60" height="10.40" rx="0" stroke="#000" stroke-width="1.0" fill="none"/>
<rect x="898.40" y="684.90" width="8.40" height="8.20" rx="0" stroke="#c4c4c4" stroke-width="0.7" fill="none"/>
<rect x="900.60" y="686.80" width="4.00" height="4.00" rx="0" stroke="none" stroke-width="0" fill="#151515"/>
<path d="M897.30,695.70 L907.90,695.70 L907.90,702.80 Q907.90,706.00 904.90,706.00 L900.30,706.00 Q897.30,706.00 897.30,702.80 Z" stroke="#000" stroke-width="1.0" fill="none" />
<path d="M898.40,696.80 L898.40,702.60 Q898.40,704.90 900.70,704.90 L904.50,704.90 Q906.80,704.90 906.80,702.60 L906.80,696.80" stroke="#c4c4c4" stroke-width="0.7" fill="none" />
<rect x="900.60" y="698.65" width="4.00" height="4.00" rx="0" stroke="none" stroke-width="0" fill="#2e2e2e"/>
<rect x="908.80" y="683.80" width="10.60" height="10.40" rx="0" stroke="#000" stroke-width="1.0" fill="none"/>
<rect x="909.90" y="684.90" width="8.40" height="8.20" rx="0" stroke="#c4c4c4" stroke-width="0.7" fill="none"/>
<rect x="912.10" y="686.80" width="4.00" height="4.00" rx="0" stroke="none" stroke-width="0" fill="#2e2e2e"/>
<path d="M908.80,695.70 L919.40,695.70 L919.40,702.80 Q919.40,706.00 916.40,706.00 L911.80,706.00 Q908.80,706.00 908.80,702.80 Z" stroke="#000" stroke-width="1.0" fill="none" />
<path d="M909.90,696.80 L909.90,702.60 Q909.90,704.90 912.20,704.90 L916.00,704.90 Q918.30,704.90 918.30,702.60 L918.30,696.80" stroke="#c4c4c4" stroke-width="0.7" fill="none" />
<rect x="912.10" y="698.65" width="4.00" height="4.00" rx="0" stroke="none" stroke-width="0" fill="#151515"/>
<path d="M920.30,683.80 L930.90,683.80 L930.90,691.00 Q930.90,694.20 927.90,694.20 L923.30,694.20 Q920.30,694.20 920.30,691.00 Z" stroke="#000" stroke-width="1.0" fill="none" />
<path d="M921.40,684.90 L921.40,690.80 Q921.40,693.10 923.70,693.10 L927.50,693.10 Q929.80,693.10 929.80,690.80 L929.80,684.90" stroke="#c4c4c4" stroke-width="0.7" fill="none" />
<rect x="923.60" y="686.80" width="4.00" height="4.00" rx="0" stroke="none" stroke-width="0" fill="#151515"/>
<rect x="920.30" y="695.70" width="10.60" height="10.30" rx="0" stroke="#000" stroke-width="1.0" fill="none"/>
<rect x="921.40" y="696.80" width="8.40" height="8.10" rx="0" stroke="#c4c4c4" stroke-width="0.7" fill="none"/>
<rect x="923.60" y="698.65" width="4.00" height="4.00" rx="0" stroke="none" stroke-width="0" fill="#2e2e2e"/>
<path d="M931.80,683.80 L942.40,683.80 L942.40,691.00 Q942.40,694.20 939.40,694.20 L934.80,694.20 Q931.80,694.20 931.80,691.00 Z" stroke="#000" stroke-width="1.0" fill="none" />
<path d="M932.90,684.90 L932.90,690.80 Q932.90,693.10 935.20,693.10 L939.00,693.10 Q941.30,693.10 941.30,690.80 L941.30,684.90" stroke="#c4c4c4" stroke-width="0.7" fill="none" />
<rect x="935.10" y="686.80" width="4.00" height="4.00" rx="0" stroke="none" stroke-width="0" fill="#2e2e2e"/>
<rect x="931.80" y="695.70" width="10.60" height="10.30" rx="0" stroke="#000" stroke-width="1.0" fill="none"/>
<rect x="932.90" y="696.80" width="8.40" height="8.10" rx="0" stroke="#c4c4c4" stroke-width="0.7" fill="none"/>
<rect x="935.10" y="698.65" width="4.00" height="4.00" rx="0" stroke="none" stroke-width="0" fill="#151515"/>
<rect x="943.30" y="683.80" width="10.60" height="10.40" rx="0" stroke="#000" stroke-width="1.0" fill="none"/>
<rect x="944.40" y="684.90" width="8.40" height="8.20" rx="0" stroke="#c4c4c4" stroke-width="0.7" fill="none"/>
<rect x="946.60" y="686.80" width="4.00" height="4.00" rx="0" stroke="none" stroke-width="0" fill="#151515"/>
<path d="M943.30,695.70 L953.90,695.70 L953.90,702.80 Q953.90,706.00 950.90,706.00 L946.30,706.00 Q943.30,706.00 943.30,702.80 Z" stroke="#000" stroke-width="1.0" fill="none" />
<path d="M944.40,696.80 L944.40,702.60 Q944.40,704.90 946.70,704.90 L950.50,704.90 Q952.80,704.90 952.80,702.60 L952.80,696.80" stroke="#c4c4c4" stroke-width="0.7" fill="none" />
<rect x="946.60" y="698.65" width="4.00" height="4.00" rx="0" stroke="none" stroke-width="0" fill="#2e2e2e"/>
<rect x="954.80" y="683.80" width="10.60" height="10.40" rx="0" stroke="#000" stroke-width="1.0" fill="none"/>
<rect x="955.90" y="684.90" width="8.40" height="8.20" rx="0" stroke="#c4c4c4" stroke-width="0.7" fill="none"/>
<rect x="958.10" y="686.80" width="4.00" height="4.00" rx="0" stroke="none" stroke-width="0" fill="#2e2e2e"/>
<path d="M954.80,695.70 L965.40,695.70 L965.40,702.80 Q965.40,706.00 962.40,706.00 L957.80,706.00 Q954.80,706.00 954.80,702.80 Z" stroke="#000" stroke-width="1.0" fill="none" />
<path d="M955.90,696.80 L955.90,702.60 Q955.90,704.90 958.20,704.90 L962.00,704.90 Q964.30,704.90 964.30,702.60 L964.30,696.80" stroke="#c4c4c4" stroke-width="0.7" fill="none" />
<rect x="958.10" y="698.65" width="4.00" height="4.00" rx="0" stroke="none" stroke-width="0" fill="#151515"/>
<path d="M966.30,683.80 L976.90,683.80 L976.90,691.00 Q976.90,694.20 973.90,694.20 L969.30,694.20 Q966.30,694.20 966.30,691.00 Z" stroke="#000" stroke-width="1.0" fill="none" />
<path d="M967.40,684.90 L967.40,690.80 Q967.40,693.10 969.70,693.10 L973.50,693.10 Q975.80,693.10 975.80,690.80 L975.80,684.90" stroke="#c4c4c4" stroke-width="0.7" fill="none" />
<rect x="969.60" y="686.80" width="4.00" height="4.00" rx="0" stroke="none" stroke-width="0" fill="#151515"/>
<rect x="966.30" y="695.70" width="10.60" height="10.30" rx="0" stroke="#000" stroke-width="1.0" fill="none"/>
<rect x="967.40" y="696.80" width="8.40" height="8.10" rx="0" stroke="#c4c4c4" stroke-width="0.7" fill="none"/>
<rect x="969.60" y="698.65" width="4.00" height="4.00" rx="0" stroke="none" stroke-width="0" fill="#2e2e2e"/>
<path d="M979.4,700.5 L980.6999999999999,701.1 L980.6999999999999,702.5 L979.4,703.1" stroke="#000" stroke-width="0.8" fill="none" />
<path d="M901.70,708.30 L901.70,717.90 L901.00,718.20 L897.80,715.30 L897.80,713.70 L898.70,713.50 L898.70,708.30 Z" stroke="#000" stroke-width="0.5" fill="#0c0c0c" />
<path d="M903.30,708.30 L903.30,717.90 L904.00,718.20 L907.20,715.30 L907.20,713.70 L906.30,713.50 L906.30,708.30 Z" stroke="#000" stroke-width="0.5" fill="#0c0c0c" />
<path d="M970.75,708.30 L970.75,717.90 L970.05,718.20 L966.60,715.30 L966.60,713.70 L967.50,713.50 L967.50,708.30 Z" stroke="#000" stroke-width="0.5" fill="#0c0c0c" />
<path d="M972.35,708.30 L972.35,717.90 L973.05,718.20 L976.50,715.30 L976.50,713.70 L975.60,713.50 L975.60,708.30 Z" stroke="#000" stroke-width="0.5" fill="#0c0c0c" />
<text transform="translate(823.90,737.50) translate(3.12,0) scale(0.715,1)" font-size="15.2" text-anchor="middle" fill="#222">C</text>
<text transform="translate(823.90,737.50) translate(17.63,0) scale(0.715,1)" font-size="15.2" text-anchor="middle" fill="#222">R</text>
<text transform="translate(823.90,737.50) translate(24.88,0) scale(0.715,1)" font-size="15.2" text-anchor="middle" fill="#222">C</text>
<text transform="translate(823.90,737.50) translate(32.13,0) scale(0.661,1)" font-size="15.2" text-anchor="middle" fill="#222">U</text>
<text transform="translate(823.90,737.50) translate(46.64,0) scale(0.781,1)" font-size="15.2" text-anchor="middle" fill="#222">T</text>
<text transform="translate(823.90,737.50) translate(61.15,0) scale(0.858,1)" font-size="15.2" text-anchor="middle" fill="#222">S</text>
<text transform="translate(823.90,737.50) translate(75.65,0) scale(0.781,1)" font-size="15.2" text-anchor="middle" fill="#222">Z</text>
<text transform="translate(823.90,737.50) translate(82.91,0) scale(0.781,1)" font-size="15.2" text-anchor="middle" fill="#222">E</text>
<text transform="translate(823.90,737.50) translate(97.41,0) scale(0.781,1)" font-size="15.2" text-anchor="middle" fill="#222">L</text>
<text transform="translate(823.90,737.50) translate(104.67,0) scale(0.661,1)" font-size="15.2" text-anchor="middle" fill="#222">A</text>
<text transform="translate(823.90,737.50) translate(111.92,0) scale(0.661,1)" font-size="15.2" text-anchor="middle" fill="#222">Y</text>
<text transform="translate(823.90,737.50) translate(119.17,0) scale(0.661,1)" font-size="15.2" text-anchor="middle" fill="#222">O</text>
<text transform="translate(823.90,737.50) translate(126.43,0) scale(0.661,1)" font-size="15.2" text-anchor="middle" fill="#222">U</text>
<text transform="translate(823.90,737.50) translate(133.68,0) scale(0.781,1)" font-size="15.2" text-anchor="middle" fill="#222">T</text>
<text transform="translate(823.90,737.50) scale(0.954,1)" font-size="15.2" text-anchor="middle" fill="#222" x="10.9 41.3 71.7">III</text>
<line x1="823.90" y1="741.50" x2="962.60" y2="741.50" stroke="#2a2a2a" stroke-width="2.0"/>
<path d="M711,146 L711,156.2 A6.4,4.6 0 0 0 723.8,156.2 L723.8,144" stroke="#000" stroke-width="1.0" fill="#fff" />
<path d="M713.2,157.6 A5.2,3.4 0 0 0 722.6,155" stroke="#555" stroke-width="0.8" fill="none" />
<path d="M673.20,31.80 L759.40,81.50 L705.80,112.30 L619.80,62.60 Z" stroke="#000" stroke-width="1.2" fill="#fff" />
<path d="M705.80,112.30 L759.40,81.50 L759.40,126.10 L705.80,156.90 Z" stroke="#000" stroke-width="1.2" fill="#fff" />
<path d="M619.80,62.60 L705.80,112.30 L705.80,156.90 L619.80,107.20 Z" stroke="#000" stroke-width="1.2" fill="#fff" />
<path d="M701.40,54.30 L703.90,52.60 L721.80,60.10 L713.60,60.90 Z" stroke="#000" stroke-width="1.0" fill="#fff" />
<path d="M701.40,54.30 L701.40,58.90 L713.60,65.60 L713.60,60.90 Z" stroke="#000" stroke-width="1.1" fill="#fff" />
<path d="M713.60,65.60 L721.50,61.40 L721.80,60.10" stroke="#000" stroke-width="1.0" fill="none" />
<line x1="703.30" y1="54.60" x2="715.10" y2="59.70" stroke="#000" stroke-width="0.8"/>
<path d="M621.80,66.76 L703.80,114.14 L703.80,153.94 L621.80,106.56 Z" stroke="#000" stroke-width="0.9" fill="none" />
<line x1="623.40" y1="69.68" x2="703.80" y2="116.14" stroke="#000" stroke-width="0.8"/>
<line x1="621.80" y1="86.36" x2="703.80" y2="133.74" stroke="#000" stroke-width="0.9"/>
<line x1="621.80" y1="88.56" x2="703.80" y2="135.94" stroke="#000" stroke-width="0.9"/>
<line x1="623.40" y1="67.68" x2="623.40" y2="107.48" stroke="#000" stroke-width="0.8"/>
<line x1="702.20" y1="113.22" x2="702.20" y2="153.02" stroke="#000" stroke-width="0.8"/>
<line x1="624.00" y1="71.43" x2="624.00" y2="77.43" stroke="#000" stroke-width="0.8"/>
<line x1="638.80" y1="83.98" x2="638.80" y2="95.58" stroke="#000" stroke-width="0.8"/>
<path d="M625.00,80.41 L633.50,85.32 L633.50,91.12 L625.00,86.21 Z" stroke="#000" stroke-width="0.8" fill="none" />
<path d="M625.00,86.21 L627.40,82.99 L629.60,88.86 Z" stroke="#000" stroke-width="0.6" fill="#1a1a1a" />
<line x1="630.00" y1="83.29" x2="633.50" y2="85.32" stroke="#222" stroke-width="1.6"/>
<line x1="633.50" y1="79.12" x2="638.60" y2="82.06" stroke="#333" stroke-width="1.4"/>
<line x1="634.50" y1="88.50" x2="638.60" y2="90.86" stroke="#333" stroke-width="1.3"/>
<line x1="624.00" y1="93.03" x2="624.00" y2="99.03" stroke="#000" stroke-width="0.8"/>
<line x1="638.80" y1="105.58" x2="638.80" y2="117.18" stroke="#000" stroke-width="0.8"/>
<path d="M625.00,102.01 L633.50,106.92 L633.50,112.72 L625.00,107.81 Z" stroke="#000" stroke-width="0.8" fill="none" />
<path d="M625.00,107.81 L627.40,104.59 L629.60,110.46 Z" stroke="#000" stroke-width="0.6" fill="#1a1a1a" />
<line x1="630.00" y1="104.89" x2="633.50" y2="106.92" stroke="#222" stroke-width="1.6"/>
<line x1="633.50" y1="100.72" x2="638.60" y2="103.66" stroke="#333" stroke-width="1.4"/>
<line x1="634.50" y1="110.10" x2="638.60" y2="112.46" stroke="#333" stroke-width="1.3"/>
<line x1="640.10" y1="80.73" x2="640.10" y2="86.73" stroke="#000" stroke-width="0.8"/>
<line x1="654.90" y1="93.28" x2="654.90" y2="104.88" stroke="#000" stroke-width="0.8"/>
<path d="M641.10,89.71 L649.60,94.62 L649.60,100.42 L641.10,95.51 Z" stroke="#000" stroke-width="0.8" fill="none" />
<path d="M641.10,95.51 L643.50,92.30 L645.70,98.17 Z" stroke="#000" stroke-width="0.6" fill="#1a1a1a" />
<line x1="646.10" y1="92.60" x2="649.60" y2="94.62" stroke="#222" stroke-width="1.6"/>
<line x1="649.60" y1="88.42" x2="654.70" y2="91.37" stroke="#333" stroke-width="1.4"/>
<line x1="650.60" y1="97.80" x2="654.70" y2="100.17" stroke="#333" stroke-width="1.3"/>
<line x1="640.10" y1="102.33" x2="640.10" y2="108.33" stroke="#000" stroke-width="0.8"/>
<line x1="654.90" y1="114.88" x2="654.90" y2="126.48" stroke="#000" stroke-width="0.8"/>
<path d="M641.10,111.31 L649.60,116.22 L649.60,122.02 L641.10,117.11 Z" stroke="#000" stroke-width="0.8" fill="none" />
<path d="M641.10,117.11 L643.50,113.90 L645.70,119.77 Z" stroke="#000" stroke-width="0.6" fill="#1a1a1a" />
<line x1="646.10" y1="114.20" x2="649.60" y2="116.22" stroke="#222" stroke-width="1.6"/>
<line x1="649.60" y1="110.02" x2="654.70" y2="112.97" stroke="#333" stroke-width="1.4"/>
<line x1="650.60" y1="119.40" x2="654.70" y2="121.77" stroke="#333" stroke-width="1.3"/>
<line x1="656.20" y1="90.04" x2="656.20" y2="96.04" stroke="#000" stroke-width="0.8"/>
<line x1="671.00" y1="102.59" x2="671.00" y2="114.19" stroke="#000" stroke-width="0.8"/>
<path d="M657.20,99.01 L665.70,103.93 L665.70,109.73 L657.20,104.81 Z" stroke="#000" stroke-width="0.8" fill="none" />
<path d="M657.20,104.81 L659.60,101.60 L661.80,107.47 Z" stroke="#000" stroke-width="0.6" fill="#1a1a1a" />
<line x1="662.20" y1="101.90" x2="665.70" y2="103.93" stroke="#222" stroke-width="1.6"/>
<line x1="665.70" y1="97.73" x2="670.80" y2="100.67" stroke="#333" stroke-width="1.4"/>
<line x1="666.70" y1="107.10" x2="670.80" y2="109.47" stroke="#333" stroke-width="1.3"/>
<line x1="656.20" y1="111.64" x2="656.20" y2="117.64" stroke="#000" stroke-width="0.8"/>
<line x1="671.00" y1="124.19" x2="671.00" y2="135.79" stroke="#000" stroke-width="0.8"/>
<path d="M657.20,120.61 L665.70,125.53 L665.70,131.33 L657.20,126.41 Z" stroke="#000" stroke-width="0.8" fill="none" />
<path d="M657.20,126.41 L659.60,123.20 L661.80,129.07 Z" stroke="#000" stroke-width="0.6" fill="#1a1a1a" />
<line x1="662.20" y1="123.50" x2="665.70" y2="125.53" stroke="#222" stroke-width="1.6"/>
<line x1="665.70" y1="119.33" x2="670.80" y2="122.27" stroke="#333" stroke-width="1.4"/>
<line x1="666.70" y1="128.70" x2="670.80" y2="131.07" stroke="#333" stroke-width="1.3"/>
<line x1="672.30" y1="99.34" x2="672.30" y2="105.34" stroke="#000" stroke-width="0.8"/>
<line x1="687.10" y1="111.89" x2="687.10" y2="123.49" stroke="#000" stroke-width="0.8"/>
<path d="M673.30,108.32 L681.80,113.23 L681.80,119.03 L673.30,114.12 Z" stroke="#000" stroke-width="0.8" fill="none" />
<path d="M673.30,114.12 L675.70,110.91 L677.90,116.78 Z" stroke="#000" stroke-width="0.6" fill="#1a1a1a" />
<line x1="678.30" y1="111.21" x2="681.80" y2="113.23" stroke="#222" stroke-width="1.6"/>
<line x1="681.80" y1="107.03" x2="686.90" y2="109.98" stroke="#333" stroke-width="1.4"/>
<line x1="682.80" y1="116.41" x2="686.90" y2="118.78" stroke="#333" stroke-width="1.3"/>
<line x1="672.30" y1="120.94" x2="672.30" y2="126.94" stroke="#000" stroke-width="0.8"/>
<line x1="687.10" y1="133.49" x2="687.10" y2="145.09" stroke="#000" stroke-width="0.8"/>
<path d="M673.30,129.92 L681.80,134.83 L681.80,140.63 L673.30,135.72 Z" stroke="#000" stroke-width="0.8" fill="none" />
<path d="M673.30,135.72 L675.70,132.50 L677.90,138.38 Z" stroke="#000" stroke-width="0.6" fill="#1a1a1a" />
<line x1="678.30" y1="132.81" x2="681.80" y2="134.83" stroke="#222" stroke-width="1.6"/>
<line x1="681.80" y1="128.63" x2="686.90" y2="131.58" stroke="#333" stroke-width="1.4"/>
<line x1="682.80" y1="138.01" x2="686.90" y2="140.38" stroke="#333" stroke-width="1.3"/>
<line x1="688.40" y1="108.64" x2="688.40" y2="114.64" stroke="#000" stroke-width="0.8"/>
<line x1="703.20" y1="121.20" x2="703.20" y2="132.80" stroke="#000" stroke-width="0.8"/>
<path d="M689.40,117.62 L697.90,122.53 L697.90,128.33 L689.40,123.42 Z" stroke="#000" stroke-width="0.8" fill="none" />
<path d="M689.40,123.42 L691.80,120.21 L694.00,126.08 Z" stroke="#000" stroke-width="0.6" fill="#1a1a1a" />
<line x1="694.40" y1="120.51" x2="697.90" y2="122.53" stroke="#222" stroke-width="1.6"/>
<line x1="697.90" y1="116.33" x2="703.00" y2="119.28" stroke="#333" stroke-width="1.4"/>
<line x1="698.90" y1="125.71" x2="703.00" y2="128.08" stroke="#333" stroke-width="1.3"/>
<line x1="688.40" y1="130.24" x2="688.40" y2="136.24" stroke="#000" stroke-width="0.8"/>
<line x1="703.20" y1="142.80" x2="703.20" y2="154.40" stroke="#000" stroke-width="0.8"/>
<path d="M689.40,139.22 L697.90,144.13 L697.90,149.93 L689.40,145.02 Z" stroke="#000" stroke-width="0.8" fill="none" />
<path d="M689.40,145.02 L691.80,141.81 L694.00,147.68 Z" stroke="#000" stroke-width="0.6" fill="#1a1a1a" />
<line x1="694.40" y1="142.11" x2="697.90" y2="144.13" stroke="#222" stroke-width="1.6"/>
<line x1="697.90" y1="137.93" x2="703.00" y2="140.88" stroke="#333" stroke-width="1.4"/>
<line x1="698.90" y1="147.31" x2="703.00" y2="149.68" stroke="#333" stroke-width="1.3"/>
<path d="M631.60,97.80 L626.60,99.90 Q616.00,104.40 616.00,115.60 L616.00,130.60 Q616.40,137.40 619.30,137.40 L622.60,137.40 Q625.50,137.40 625.90,130.60 L625.90,112.60 Q625.90,106.40 630.10,104.30 L632.80,103.10 Z" stroke="#000" stroke-width="1.15" fill="#fff" />
<path d="M632.00,99.60 L627.90,101.40 Q620.90,105.10 620.90,114.10 L620.90,131.60 L620.90,137.00" stroke="#000" stroke-width="0.9" fill="none" />
<path d="M616.00,130.60 Q620.90,133.80 625.90,130.60" stroke="#333" stroke-width="0.8" fill="none" />
<path d="M625.20,93.00 Q630.40,91.00 634.00,94.40 Q636.60,98.40 636.80,106.60 L634.60,105.60 Q634.20,99.00 632.00,96.00 Q629.80,93.80 627.00,95.40 Z" stroke="#000" stroke-width="0.9" fill="#fff" />
<path d="M647.70,107.15 L642.70,109.25 Q632.10,113.75 632.10,124.95 L632.10,139.95 Q632.50,146.75 635.40,146.75 L638.70,146.75 Q641.60,146.75 642.00,139.95 L642.00,121.95 Q642.00,115.75 646.20,113.65 L648.90,112.45 Z" stroke="#000" stroke-width="1.15" fill="#fff" />
<path d="M648.10,108.95 L644.00,110.75 Q637.00,114.45 637.00,123.45 L637.00,140.95 L637.00,146.35" stroke="#000" stroke-width="0.9" fill="none" />
<path d="M632.10,139.95 Q637.00,143.15 642.00,139.95" stroke="#333" stroke-width="0.8" fill="none" />
<path d="M641.30,102.35 Q646.50,100.35 650.10,103.75 Q652.70,107.75 652.90,115.95 L650.70,114.95 Q650.30,108.35 648.10,105.35 Q645.90,103.15 643.10,104.75 Z" stroke="#000" stroke-width="0.9" fill="#fff" />
<path d="M663.80,116.50 L658.80,118.60 Q648.20,123.10 648.20,134.30 L648.20,149.30 Q648.60,156.10 651.50,156.10 L654.80,156.10 Q657.70,156.10 658.10,149.30 L658.10,131.30 Q658.10,125.10 662.30,123.00 L665.00,121.80 Z" stroke="#000" stroke-width="1.15" fill="#fff" />
<path d="M664.20,118.30 L660.10,120.10 Q653.10,123.80 653.10,132.80 L653.10,150.30 L653.10,155.70" stroke="#000" stroke-width="0.9" fill="none" />
<path d="M648.20,149.30 Q653.10,152.50 658.10,149.30" stroke="#333" stroke-width="0.8" fill="none" />
<path d="M657.40,111.70 Q662.60,109.70 666.20,113.10 Q668.80,117.10 669.00,125.30 L666.80,124.30 Q666.40,117.70 664.20,114.70 Q662.00,112.50 659.20,114.10 Z" stroke="#000" stroke-width="0.9" fill="#fff" />
<path d="M679.90,125.85 L674.90,127.95 Q664.30,132.45 664.30,143.65 L664.30,158.65 Q664.70,165.45 667.60,165.45 L670.90,165.45 Q673.80,165.45 674.20,158.65 L674.20,140.65 Q674.20,134.45 678.40,132.35 L681.10,131.15 Z" stroke="#000" stroke-width="1.15" fill="#fff" />
<path d="M680.30,127.65 L676.20,129.45 Q669.20,133.15 669.20,142.15 L669.20,159.65 L669.20,165.05" stroke="#000" stroke-width="0.9" fill="none" />
<path d="M664.30,158.65 Q669.20,161.85 674.20,158.65" stroke="#333" stroke-width="0.8" fill="none" />
<path d="M673.50,121.05 Q678.70,119.05 682.30,122.45 Q684.90,126.45 685.10,134.65 L682.90,133.65 Q682.50,127.05 680.30,124.05 Q678.10,121.85 675.30,123.45 Z" stroke="#000" stroke-width="0.9" fill="#fff" />
<path d="M696.00,135.20 L691.00,137.30 Q680.40,141.80 680.40,153.00 L680.40,168.00 Q680.80,174.80 683.70,174.80 L687.00,174.80 Q689.90,174.80 690.30,168.00 L690.30,150.00 Q690.30,143.80 694.50,141.70 L697.20,140.50 Z" stroke="#000" stroke-width="1.15" fill="#fff" />
<path d="M696.40,137.00 L692.30,138.80 Q685.30,142.50 685.30,151.50 L685.30,169.00 L685.30,174.40" stroke="#000" stroke-width="0.9" fill="none" />
<path d="M680.40,168.00 Q685.30,171.20 690.30,168.00" stroke="#333" stroke-width="0.8" fill="none" />
<path d="M689.60,130.40 Q694.80,128.40 698.40,131.80 Q701.00,135.80 701.20,144.00 L699.00,143.00 Q698.60,136.40 696.40,133.40 Q694.20,131.20 691.40,132.80 Z" stroke="#000" stroke-width="0.9" fill="#fff" />
<path d="M631.60,78.80 L606.50,90.20 Q596.70,94.70 596.70,106.00 L596.70,143.70 Q597.10,150.50 600.00,150.50 L602.80,150.50 Q605.70,150.50 606.10,143.70 L606.10,108.50 Q606.10,99.30 614.50,95.20 L633.20,86.00 Z" stroke="#000" stroke-width="1.15" fill="#fff" />
<path d="M632.40,81.20 L610.50,91.40 Q601.00,95.90 601.00,107.00 L601.00,144.60 L601.30,150.20" stroke="#000" stroke-width="0.9" fill="none" />
<path d="M596.70,143.70 Q601.40,147.00 606.10,143.70" stroke="#333" stroke-width="0.8" fill="none" />
<path d="M625.80,74.60 Q631.00,72.60 634.60,76.00 Q637.20,80.00 637.40,88.20 L635.20,87.20 Q634.80,80.60 632.60,77.60 Q630.40,75.40 627.60,77.00 Z" stroke="#000" stroke-width="0.9" fill="#fff" />
<path d="M647.70,88.15 L622.60,99.55 Q612.80,104.05 612.80,115.35 L612.80,153.05 Q613.20,159.85 616.10,159.85 L618.90,159.85 Q621.80,159.85 622.20,153.05 L622.20,117.85 Q622.20,108.65 630.60,104.55 L649.30,95.35 Z" stroke="#000" stroke-width="1.15" fill="#fff" />
<path d="M648.50,90.55 L626.60,100.75 Q617.10,105.25 617.10,116.35 L617.10,153.95 L617.40,159.55" stroke="#000" stroke-width="0.9" fill="none" />
<path d="M612.80,153.05 Q617.50,156.35 622.20,153.05" stroke="#333" stroke-width="0.8" fill="none" />
<path d="M641.90,83.95 Q647.10,81.95 650.70,85.35 Q653.30,89.35 653.50,97.55 L651.30,96.55 Q650.90,89.95 648.70,86.95 Q646.50,84.75 643.70,86.35 Z" stroke="#000" stroke-width="0.9" fill="#fff" />
<path d="M663.80,97.50 L638.70,108.90 Q628.90,113.40 628.90,124.70 L628.90,162.40 Q629.30,169.20 632.20,169.20 L635.00,169.20 Q637.90,169.20 638.30,162.40 L638.30,127.20 Q638.30,118.00 646.70,113.90 L665.40,104.70 Z" stroke="#000" stroke-width="1.15" fill="#fff" />
<path d="M664.60,99.90 L642.70,110.10 Q633.20,114.60 633.20,125.70 L633.20,163.30 L633.50,168.90" stroke="#000" stroke-width="0.9" fill="none" />
<path d="M628.90,162.40 Q633.60,165.70 638.30,162.40" stroke="#333" stroke-width="0.8" fill="none" />
<path d="M658.00,93.30 Q663.20,91.30 666.80,94.70 Q669.40,98.70 669.60,106.90 L667.40,105.90 Q667.00,99.30 664.80,96.30 Q662.60,94.10 659.80,95.70 Z" stroke="#000" stroke-width="0.9" fill="#fff" />
<path d="M679.90,106.85 L654.80,118.25 Q645.00,122.75 645.00,134.05 L645.00,171.75 Q645.40,178.55 648.30,178.55 L651.10,178.55 Q654.00,178.55 654.40,171.75 L654.40,136.55 Q654.40,127.35 662.80,123.25 L681.50,114.05 Z" stroke="#000" stroke-width="1.15" fill="#fff" />
<path d="M680.70,109.25 L658.80,119.45 Q649.30,123.95 649.30,135.05 L649.30,172.65 L649.60,178.25" stroke="#000" stroke-width="0.9" fill="none" />
<path d="M645.00,171.75 Q649.70,175.05 654.40,171.75" stroke="#333" stroke-width="0.8" fill="none" />
<path d="M674.10,102.65 Q679.30,100.65 682.90,104.05 Q685.50,108.05 685.70,116.25 L683.50,115.25 Q683.10,108.65 680.90,105.65 Q678.70,103.45 675.90,105.05 Z" stroke="#000" stroke-width="0.9" fill="#fff" />
<path d="M696.00,116.20 L670.90,127.60 Q661.10,132.10 661.10,143.40 L661.10,181.10 Q661.50,187.90 664.40,187.90 L667.20,187.90 Q670.10,187.90 670.50,181.10 L670.50,145.90 Q670.50,136.70 678.90,132.60 L697.60,123.40 Z" stroke="#000" stroke-width="1.15" fill="#fff" />
<path d="M696.80,118.60 L674.90,128.80 Q665.40,133.30 665.40,144.40 L665.40,182.00 L665.70,187.60" stroke="#000" stroke-width="0.9" fill="none" />
<path d="M661.10,181.10 Q665.80,184.40 670.50,181.10" stroke="#333" stroke-width="0.8" fill="none" />
<path d="M690.20,112.00 Q695.40,110.00 699.00,113.40 Q701.60,117.40 701.80,125.60 L699.60,124.60 Q699.20,118.00 697.00,115.00 Q694.80,112.80 692.00,114.40 Z" stroke="#000" stroke-width="0.9" fill="#fff" />
</svg>
</body></html>
